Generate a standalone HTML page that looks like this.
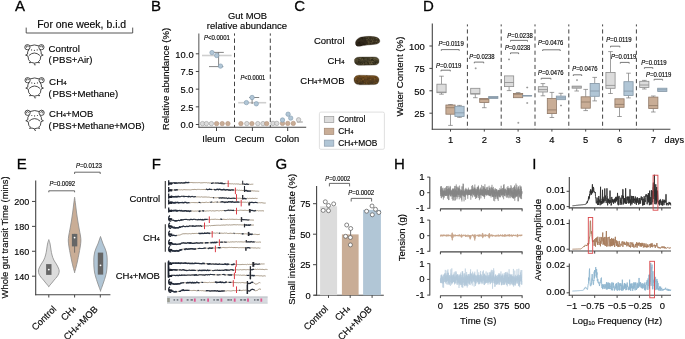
<!DOCTYPE html>
<html><head><meta charset="utf-8"><style>
html,body{margin:0;padding:0;background:#fff;}
svg{display:block;will-change:transform;}
text{font-family:"Liberation Sans", sans-serif;stroke:#111;stroke-width:0.15px;}
.big{stroke-width:0.3px;}
</style></head><body>
<svg width="685" height="339" viewBox="0 0 685 339">
<rect width="685" height="339" fill="#fff"/>
<text x="15.00" y="11.20" font-size="15" class="big">A</text>
<text x="150.90" y="10.80" font-size="15" class="big">B</text>
<text x="294.20" y="11.30" font-size="15" class="big">C</text>
<text x="423.00" y="11.10" font-size="15" class="big">D</text>
<text x="16.80" y="168.60" font-size="15" class="big">E</text>
<text x="151.80" y="168.90" font-size="15" class="big">F</text>
<text x="275.40" y="169.20" font-size="15" class="big">G</text>
<text x="393.90" y="168.90" font-size="15" class="big">H</text>
<text x="532.30" y="168.50" font-size="15" class="big">I</text>
<text x="37.20" y="28.00" font-size="10.3" textLength="89" lengthAdjust="spacingAndGlyphs">For one week, b.i.d</text>
<path d="M26.2,27.6V33H132.7V27.6" stroke="#444" stroke-width="0.9" fill="none"/>
<g transform="translate(24.4,44.3)"><g fill="none" stroke="#2a2a2a" stroke-width="0.85"><circle cx="3.0" cy="2.9" r="2.6"/><path d="M2.2,3.4a1,1 0 1,1 1.6,-0.6"/><circle cx="17.0" cy="2.9" r="2.6"/><path d="M17.8,3.4a1,1 0 1,0 -1.6,-0.6"/><path d="M5.2,1.7Q10,-0.4 14.8,1.7"/><path d="M4.6,5.2Q2.6,7.6 3.2,9.8"/><path d="M15.4,5.2Q17.4,7.6 16.8,9.8"/><path d="M4.5,11.2Q10,6.2 15.5,11.2"/><path d="M3.2,9.8L1.2,10.8L3.6,11.8Q3.6,16.4 6,17.4L4.8,18.4L7.4,18.2Q10,19.6 12.6,18.2L15.2,18.4L14,17.4Q16.4,16.4 16.4,11.8L18.8,10.8L16.8,9.8"/><path d="M10,19.2Q9.6,20.6 10.8,20.4Q11.4,20.2 10.6,21"/></g><g fill="#333"><circle cx="7.2" cy="5.6" r="0.55"/><circle cx="12.8" cy="5.6" r="0.55"/><circle cx="10" cy="6" r="0.6"/></g></g>
<g transform="translate(24.6,77.3)"><g fill="none" stroke="#2a2a2a" stroke-width="0.85"><circle cx="3.0" cy="2.9" r="2.6"/><path d="M2.2,3.4a1,1 0 1,1 1.6,-0.6"/><circle cx="17.0" cy="2.9" r="2.6"/><path d="M17.8,3.4a1,1 0 1,0 -1.6,-0.6"/><path d="M5.2,1.7Q10,-0.4 14.8,1.7"/><path d="M4.6,5.2Q2.6,7.6 3.2,9.8"/><path d="M15.4,5.2Q17.4,7.6 16.8,9.8"/><path d="M4.5,11.2Q10,6.2 15.5,11.2"/><path d="M3.2,9.8L1.2,10.8L3.6,11.8Q3.6,16.4 6,17.4L4.8,18.4L7.4,18.2Q10,19.6 12.6,18.2L15.2,18.4L14,17.4Q16.4,16.4 16.4,11.8L18.8,10.8L16.8,9.8"/><path d="M10,19.2Q9.6,20.6 10.8,20.4Q11.4,20.2 10.6,21"/></g><g fill="#333"><circle cx="7.2" cy="5.6" r="0.55"/><circle cx="12.8" cy="5.6" r="0.55"/><circle cx="10" cy="6" r="0.6"/></g></g>
<g transform="translate(24.6,109.9)"><g fill="none" stroke="#2a2a2a" stroke-width="0.85"><circle cx="3.0" cy="2.9" r="2.6"/><path d="M2.2,3.4a1,1 0 1,1 1.6,-0.6"/><circle cx="17.0" cy="2.9" r="2.6"/><path d="M17.8,3.4a1,1 0 1,0 -1.6,-0.6"/><path d="M5.2,1.7Q10,-0.4 14.8,1.7"/><path d="M4.6,5.2Q2.6,7.6 3.2,9.8"/><path d="M15.4,5.2Q17.4,7.6 16.8,9.8"/><path d="M4.5,11.2Q10,6.2 15.5,11.2"/><path d="M3.2,9.8L1.2,10.8L3.6,11.8Q3.6,16.4 6,17.4L4.8,18.4L7.4,18.2Q10,19.6 12.6,18.2L15.2,18.4L14,17.4Q16.4,16.4 16.4,11.8L18.8,10.8L16.8,9.8"/><path d="M10,19.2Q9.6,20.6 10.8,20.4Q11.4,20.2 10.6,21"/></g><g fill="#333"><circle cx="7.2" cy="5.6" r="0.55"/><circle cx="12.8" cy="5.6" r="0.55"/><circle cx="10" cy="6" r="0.6"/></g></g>
<text x="48.60" y="52.10" font-size="9.8" textLength="31.2" lengthAdjust="spacingAndGlyphs">Control</text>
<text x="49.10" y="85.00" font-size="9.8">CH<tspan font-size="0.62em">4</tspan></text>
<text x="49.10" y="117.30" font-size="9.6" textLength="44.2" lengthAdjust="spacingAndGlyphs">CH<tspan font-size="0.62em">4</tspan>+MOB</text>
<text x="48.50" y="63.30" font-size="9.6">(</text>
<text x="52.50" y="63.30" font-size="9.6" textLength="40.0" lengthAdjust="spacingAndGlyphs">PBS+Air)</text>
<text x="48.50" y="96.50" font-size="9.6">(</text>
<text x="52.50" y="96.50" font-size="9.6" textLength="65.6" lengthAdjust="spacingAndGlyphs">PBS+Methane)</text>
<text x="48.50" y="128.60" font-size="9.6">(</text>
<text x="52.50" y="128.60" font-size="9.6" textLength="92.2" lengthAdjust="spacingAndGlyphs">PBS+Methane+MOB)</text>
<text x="247.60" y="19.30" font-size="9.4" text-anchor="middle">Gut MOB</text>
<text x="247.00" y="28.50" font-size="9.4" text-anchor="middle" textLength="80.3" lengthAdjust="spacingAndGlyphs">relative abundance</text>
<text x="169.00" y="79.00" font-size="9.6" text-anchor="middle" transform="rotate(-90 169.00 79.00)">Relative abundance (%)</text>
<line x1="198.80" y1="33.40" x2="198.80" y2="127.80" stroke="#7a7a7a" stroke-width="1.3"/>
<line x1="198.50" y1="127.30" x2="306.20" y2="127.30" stroke="#444" stroke-width="1.1"/>
<line x1="195.80" y1="124.50" x2="199.00" y2="124.50" stroke="#444" stroke-width="1"/>
<text x="193.60" y="128.20" font-size="9.4" text-anchor="end">0.0</text>
<line x1="195.80" y1="106.83" x2="199.00" y2="106.83" stroke="#444" stroke-width="1"/>
<text x="193.60" y="110.53" font-size="9.4" text-anchor="end">2.5</text>
<line x1="195.80" y1="89.15" x2="199.00" y2="89.15" stroke="#444" stroke-width="1"/>
<text x="193.60" y="92.85" font-size="9.4" text-anchor="end">5.0</text>
<line x1="195.80" y1="71.47" x2="199.00" y2="71.47" stroke="#444" stroke-width="1"/>
<text x="193.60" y="75.17" font-size="9.4" text-anchor="end">7.5</text>
<line x1="195.80" y1="53.80" x2="199.00" y2="53.80" stroke="#444" stroke-width="1"/>
<text x="193.60" y="57.50" font-size="9.4" text-anchor="end">10.0</text>
<line x1="216.50" y1="127.30" x2="216.50" y2="131.00" stroke="#444" stroke-width="1"/>
<text x="213.80" y="142.10" font-size="9.4" text-anchor="middle">Ileum</text>
<line x1="252.40" y1="127.30" x2="252.40" y2="131.00" stroke="#444" stroke-width="1"/>
<text x="249.40" y="142.10" font-size="9.4" text-anchor="middle">Cecum</text>
<line x1="287.70" y1="127.30" x2="287.70" y2="131.00" stroke="#444" stroke-width="1"/>
<text x="287.00" y="142.10" font-size="9.4" text-anchor="middle">Colon</text>
<line x1="234.50" y1="33.40" x2="234.50" y2="127.30" stroke="#444" stroke-width="1" stroke-dasharray="4.4,2.8" stroke-dashoffset="2.1"/>
<line x1="270.30" y1="33.40" x2="270.30" y2="127.30" stroke="#444" stroke-width="1" stroke-dasharray="4.4,2.8" stroke-dashoffset="2.1"/>
<circle cx="202.50" cy="123.60" r="2.2" fill="#dcdcdc" stroke="#9a9a9a" stroke-width="0.6"/>
<circle cx="206.40" cy="123.60" r="2.2" fill="#dcdcdc" stroke="#9a9a9a" stroke-width="0.6"/>
<circle cx="211.40" cy="123.60" r="2.2" fill="#dcdcdc" stroke="#9a9a9a" stroke-width="0.6"/>
<circle cx="216.60" cy="123.60" r="2.2" fill="#c9ad96" stroke="#b08f78" stroke-width="0.6"/>
<circle cx="222.20" cy="123.60" r="2.2" fill="#c9ad96" stroke="#b08f78" stroke-width="0.6"/>
<circle cx="227.90" cy="123.60" r="2.2" fill="#c9ad96" stroke="#b08f78" stroke-width="0.6"/>
<line x1="202.00" y1="55.50" x2="231.60" y2="55.50" stroke="#cfcfcf" stroke-width="1.6"/>
<path d="M212.7,52.4H223.8M218.6,52.4V66.6M209,66.6H223.3" stroke="#666" stroke-width="0.8" fill="none"/>
<circle cx="212.00" cy="52.60" r="2.2" fill="#b1c6d6" stroke="#7f98ac" stroke-width="0.6"/>
<circle cx="216.70" cy="55.50" r="2.2" fill="#b1c6d6" stroke="#7f98ac" stroke-width="0.6"/>
<circle cx="220.50" cy="66.10" r="2.2" fill="#b1c6d6" stroke="#7f98ac" stroke-width="0.6"/>
<circle cx="240.90" cy="123.60" r="2.2" fill="#c9ad96" stroke="#b08f78" stroke-width="0.6"/>
<circle cx="246.80" cy="123.60" r="2.2" fill="#dcdcdc" stroke="#9a9a9a" stroke-width="0.6"/>
<circle cx="251.90" cy="123.60" r="2.2" fill="#c9ad96" stroke="#b08f78" stroke-width="0.6"/>
<circle cx="257.80" cy="123.60" r="2.2" fill="#dcdcdc" stroke="#9a9a9a" stroke-width="0.6"/>
<circle cx="263.00" cy="123.60" r="2.2" fill="#dcdcdc" stroke="#9a9a9a" stroke-width="0.6"/>
<circle cx="266.70" cy="123.60" r="2.2" fill="#c9ad96" stroke="#b08f78" stroke-width="0.6"/>
<line x1="238.20" y1="102.70" x2="266.20" y2="102.70" stroke="#cfcfcf" stroke-width="1.6"/>
<path d="M249.2,97.5H259.2M252.1,97.5V104" stroke="#666" stroke-width="0.8" fill="none"/>
<circle cx="246.40" cy="102.60" r="2.2" fill="#b1c6d6" stroke="#7f98ac" stroke-width="0.6"/>
<circle cx="252.10" cy="97.50" r="2.2" fill="#b1c6d6" stroke="#7f98ac" stroke-width="0.6"/>
<circle cx="256.30" cy="103.80" r="2.2" fill="#b1c6d6" stroke="#7f98ac" stroke-width="0.6"/>
<circle cx="273.00" cy="123.40" r="2.2" fill="#dcdcdc" stroke="#9a9a9a" stroke-width="0.6"/>
<circle cx="276.80" cy="123.40" r="2.2" fill="#dcdcdc" stroke="#9a9a9a" stroke-width="0.6"/>
<circle cx="282.50" cy="123.40" r="2.2" fill="#c9ad96" stroke="#b08f78" stroke-width="0.6"/>
<circle cx="287.80" cy="123.40" r="2.2" fill="#c9ad96" stroke="#b08f78" stroke-width="0.6"/>
<circle cx="293.30" cy="123.40" r="2.2" fill="#c9ad96" stroke="#b08f78" stroke-width="0.6"/>
<path d="M296.9,122H302.8" stroke="#666" stroke-width="0.7" fill="none"/>
<circle cx="298.60" cy="119.80" r="2.2" fill="#dcdcdc" stroke="#9a9a9a" stroke-width="0.6"/>
<circle cx="282.50" cy="120.00" r="2.2" fill="#b1c6d6" stroke="#7f98ac" stroke-width="0.6"/>
<circle cx="288.10" cy="114.20" r="2.2" fill="#b1c6d6" stroke="#7f98ac" stroke-width="0.6"/>
<circle cx="290.70" cy="118.10" r="2.2" fill="#b1c6d6" stroke="#7f98ac" stroke-width="0.6"/>
<text x="204.00" y="40.40" font-size="6.5" textLength="25.9" lengthAdjust="spacingAndGlyphs"><tspan font-style="italic">P</tspan>&lt;0.0001</text>
<text x="240.50" y="80.00" font-size="6.5" textLength="24.8" lengthAdjust="spacingAndGlyphs"><tspan font-style="italic">P</tspan>&lt;0.0001</text>
<text x="344.50" y="43.80" font-size="9.5" text-anchor="end">Control</text>
<text x="344.50" y="63.70" font-size="9.5" text-anchor="end">CH<tspan font-size="0.62em">4</tspan></text>
<text x="344.50" y="83.60" font-size="9.5" text-anchor="end">CH<tspan font-size="0.62em">4</tspan>+MOB</text>
<defs><linearGradient id="pg0" x1="0" y1="0" x2="0" y2="1"><stop offset="0" stop-color="#3a3222"/><stop offset="1" stop-color="#2a2116"/></linearGradient><clipPath id="pc0"><path d="M355.5,43.4C355.3,40 358.3,37.6 362,36.9C366,36.2 372,36.1 376,37.1C378.6,37.8 380,39.5 379.8,41.3C379.6,43.2 377.5,44 375,44.3C370,44.8 364,45.3 360,46.2C357.4,46.8 355.6,45.8 355.5,43.4Z"/></clipPath></defs>
<path d="M355.5,43.4C355.3,40 358.3,37.6 362,36.9C366,36.2 372,36.1 376,37.1C378.6,37.8 380,39.5 379.8,41.3C379.6,43.2 377.5,44 375,44.3C370,44.8 364,45.3 360,46.2C357.4,46.8 355.6,45.8 355.5,43.4Z" fill="url(#pg0)"/>
<g clip-path="url(#pc0)"><ellipse cx="368.31" cy="43.48" rx="0.84" ry="0.49" fill="#6b6444" opacity="0.5"/><ellipse cx="369.02" cy="44.58" rx="0.97" ry="0.50" fill="#6b6444" opacity="0.5"/><ellipse cx="373.07" cy="38.63" rx="0.40" ry="0.45" fill="#6b6444" opacity="0.5"/><ellipse cx="374.20" cy="36.84" rx="0.96" ry="0.39" fill="#6b6444" opacity="0.5"/><ellipse cx="369.26" cy="36.55" rx="1.10" ry="0.60" fill="#6b6444" opacity="0.5"/><ellipse cx="378.25" cy="42.69" rx="0.42" ry="0.43" fill="#6b6444" opacity="0.5"/><ellipse cx="372.97" cy="37.34" rx="1.07" ry="0.45" fill="#6b6444" opacity="0.5"/><ellipse cx="368.17" cy="44.85" rx="0.49" ry="0.67" fill="#6b6444" opacity="0.5"/><ellipse cx="372.34" cy="42.01" rx="0.64" ry="0.49" fill="#6b6444" opacity="0.5"/><ellipse cx="368.62" cy="36.50" rx="1.01" ry="0.39" fill="#6b6444" opacity="0.5"/><ellipse cx="376.92" cy="38.33" rx="1.08" ry="0.66" fill="#6b6444" opacity="0.5"/><ellipse cx="376.57" cy="44.26" rx="0.81" ry="0.59" fill="#6b6444" opacity="0.5"/><ellipse cx="367.71" cy="41.20" rx="0.98" ry="0.38" fill="#6b6444" opacity="0.5"/><ellipse cx="378.92" cy="45.60" rx="0.69" ry="0.45" fill="#6b6444" opacity="0.5"/><ellipse cx="372.32" cy="40.23" rx="1.10" ry="0.45" fill="#6b6444" opacity="0.5"/><ellipse cx="366.38" cy="37.10" rx="0.90" ry="0.70" fill="#6b6444" opacity="0.5"/><ellipse cx="372.94" cy="41.36" rx="0.79" ry="0.60" fill="#6b6444" opacity="0.5"/><ellipse cx="369.11" cy="42.62" rx="0.79" ry="0.55" fill="#6b6444" opacity="0.5"/><ellipse cx="368.53" cy="37.92" rx="0.64" ry="0.67" fill="#6b6444" opacity="0.5"/><ellipse cx="370.85" cy="42.49" rx="0.61" ry="0.34" fill="#6b6444" opacity="0.5"/><ellipse cx="366.92" cy="44.81" rx="0.94" ry="0.45" fill="#6b6444" opacity="0.5"/><ellipse cx="375.57" cy="43.33" rx="1.03" ry="0.68" fill="#6b6444" opacity="0.5"/><ellipse cx="371.70" cy="46.68" rx="1.07" ry="0.54" fill="#6b6444" opacity="0.5"/><ellipse cx="378.36" cy="41.35" rx="0.66" ry="0.40" fill="#6b6444" opacity="0.5"/><ellipse cx="378.27" cy="37.84" rx="0.45" ry="0.62" fill="#6b6444" opacity="0.5"/><ellipse cx="376.83" cy="41.27" rx="0.99" ry="0.32" fill="#6b6444" opacity="0.5"/><ellipse cx="369.61" cy="39.20" rx="0.69" ry="0.37" fill="#6b6444" opacity="0.5"/><ellipse cx="366.97" cy="39.72" rx="1.03" ry="0.69" fill="#6b6444" opacity="0.5"/><ellipse cx="376.44" cy="41.23" rx="0.58" ry="0.68" fill="#6b6444" opacity="0.5"/><ellipse cx="373.36" cy="43.90" rx="0.42" ry="0.38" fill="#6b6444" opacity="0.5"/><ellipse cx="377.74" cy="44.61" rx="1.02" ry="0.54" fill="#6b6444" opacity="0.5"/><ellipse cx="371.97" cy="42.32" rx="0.99" ry="0.42" fill="#6b6444" opacity="0.5"/><ellipse cx="373.48" cy="39.05" rx="0.94" ry="0.30" fill="#6b6444" opacity="0.5"/><ellipse cx="375.59" cy="46.31" rx="0.42" ry="0.54" fill="#6b6444" opacity="0.5"/><ellipse cx="375.01" cy="45.21" rx="0.81" ry="0.40" fill="#6b6444" opacity="0.5"/><ellipse cx="371.68" cy="46.36" rx="1.03" ry="0.35" fill="#6b6444" opacity="0.5"/><ellipse cx="367.33" cy="37.11" rx="0.42" ry="0.48" fill="#6b6444" opacity="0.5"/><ellipse cx="367.97" cy="45.38" rx="0.86" ry="0.35" fill="#6b6444" opacity="0.5"/><ellipse cx="373.54" cy="39.57" rx="0.75" ry="0.39" fill="#6b6444" opacity="0.5"/><ellipse cx="368.33" cy="38.07" rx="0.66" ry="0.58" fill="#6b6444" opacity="0.5"/><ellipse cx="373.70" cy="36.59" rx="0.90" ry="0.65" fill="#6b6444" opacity="0.5"/><ellipse cx="376.84" cy="44.56" rx="0.41" ry="0.49" fill="#6b6444" opacity="0.5"/><ellipse cx="366.89" cy="44.27" rx="0.52" ry="0.58" fill="#6b6444" opacity="0.5"/><ellipse cx="369.54" cy="43.56" rx="0.62" ry="0.32" fill="#6b6444" opacity="0.5"/><ellipse cx="371.44" cy="39.41" rx="1.03" ry="0.42" fill="#6b6444" opacity="0.5"/><ellipse cx="374.04" cy="41.98" rx="1.06" ry="0.34" fill="#85784c" opacity="0.25"/><ellipse cx="375.21" cy="41.54" rx="0.91" ry="0.69" fill="#85784c" opacity="0.25"/><ellipse cx="371.72" cy="43.58" rx="0.77" ry="0.52" fill="#85784c" opacity="0.25"/><ellipse cx="368.76" cy="44.82" rx="1.08" ry="0.44" fill="#85784c" opacity="0.25"/><ellipse cx="371.82" cy="46.73" rx="0.48" ry="0.33" fill="#85784c" opacity="0.25"/><ellipse cx="368.88" cy="44.81" rx="0.93" ry="0.48" fill="#85784c" opacity="0.25"/><ellipse cx="375.46" cy="36.31" rx="0.85" ry="0.48" fill="#85784c" opacity="0.25"/><ellipse cx="374.21" cy="40.27" rx="0.68" ry="0.39" fill="#85784c" opacity="0.25"/><ellipse cx="368.59" cy="40.74" rx="0.57" ry="0.58" fill="#85784c" opacity="0.25"/><ellipse cx="377.81" cy="43.84" rx="0.72" ry="0.39" fill="#85784c" opacity="0.25"/><ellipse cx="372.62" cy="41.31" rx="0.84" ry="0.69" fill="#85784c" opacity="0.25"/><ellipse cx="369.02" cy="41.23" rx="0.74" ry="0.59" fill="#85784c" opacity="0.25"/><ellipse cx="378.69" cy="44.44" rx="0.84" ry="0.60" fill="#85784c" opacity="0.25"/><ellipse cx="376.02" cy="45.29" rx="0.89" ry="0.57" fill="#85784c" opacity="0.25"/><ellipse cx="370.94" cy="45.91" rx="0.67" ry="0.55" fill="#85784c" opacity="0.25"/><ellipse cx="377.90" cy="46.41" rx="1.09" ry="0.30" fill="#85784c" opacity="0.25"/><ellipse cx="371.75" cy="39.44" rx="0.67" ry="0.36" fill="#85784c" opacity="0.25"/><ellipse cx="374.64" cy="36.95" rx="0.61" ry="0.68" fill="#85784c" opacity="0.25"/><ellipse cx="376.91" cy="41.05" rx="0.48" ry="0.68" fill="#85784c" opacity="0.25"/><ellipse cx="376.45" cy="38.30" rx="0.63" ry="0.56" fill="#85784c" opacity="0.25"/><ellipse cx="376.18" cy="38.89" rx="1.07" ry="0.43" fill="#85784c" opacity="0.25"/><ellipse cx="371.05" cy="45.15" rx="0.51" ry="0.57" fill="#85784c" opacity="0.25"/><ellipse cx="370.40" cy="42.50" rx="0.59" ry="0.45" fill="#85784c" opacity="0.25"/><ellipse cx="379.29" cy="41.10" rx="0.71" ry="0.55" fill="#85784c" opacity="0.25"/><ellipse cx="371.37" cy="37.97" rx="0.67" ry="0.41" fill="#85784c" opacity="0.25"/><ellipse cx="370.26" cy="46.38" rx="0.42" ry="0.62" fill="#85784c" opacity="0.25"/><ellipse cx="379.22" cy="43.64" rx="0.41" ry="0.50" fill="#85784c" opacity="0.25"/><ellipse cx="368.47" cy="42.60" rx="0.89" ry="0.40" fill="#85784c" opacity="0.25"/><ellipse cx="368.09" cy="41.93" rx="0.47" ry="0.42" fill="#85784c" opacity="0.25"/><ellipse cx="373.45" cy="45.67" rx="0.66" ry="0.35" fill="#85784c" opacity="0.25"/><ellipse cx="377.50" cy="44.90" rx="0.77" ry="0.32" fill="#85784c" opacity="0.25"/><ellipse cx="370.25" cy="40.41" rx="0.79" ry="0.39" fill="#85784c" opacity="0.25"/><ellipse cx="377.63" cy="45.13" rx="1.05" ry="0.65" fill="#85784c" opacity="0.25"/><ellipse cx="368.21" cy="42.33" rx="0.46" ry="0.66" fill="#85784c" opacity="0.25"/><ellipse cx="376.96" cy="44.22" rx="0.53" ry="0.32" fill="#85784c" opacity="0.25"/><ellipse cx="377.78" cy="42.59" rx="0.83" ry="0.49" fill="#85784c" opacity="0.25"/><ellipse cx="377.60" cy="39.72" rx="0.59" ry="0.44" fill="#85784c" opacity="0.25"/><ellipse cx="371.58" cy="42.81" rx="1.02" ry="0.33" fill="#85784c" opacity="0.25"/><ellipse cx="368.81" cy="41.58" rx="0.87" ry="0.38" fill="#85784c" opacity="0.25"/><ellipse cx="371.24" cy="36.73" rx="0.43" ry="0.50" fill="#85784c" opacity="0.25"/><ellipse cx="376.17" cy="43.09" rx="0.51" ry="0.34" fill="#85784c" opacity="0.25"/><ellipse cx="379.17" cy="41.86" rx="0.69" ry="0.58" fill="#85784c" opacity="0.25"/><ellipse cx="376.73" cy="41.71" rx="0.45" ry="0.63" fill="#85784c" opacity="0.25"/><ellipse cx="370.56" cy="36.53" rx="0.65" ry="0.51" fill="#85784c" opacity="0.25"/><ellipse cx="375.54" cy="37.96" rx="0.90" ry="0.50" fill="#85784c" opacity="0.25"/><ellipse cx="356.78" cy="45.21" rx="0.96" ry="0.66" fill="#1a140c" opacity="0.4"/><ellipse cx="362.47" cy="38.43" rx="0.94" ry="0.66" fill="#1a140c" opacity="0.4"/><ellipse cx="360.87" cy="45.82" rx="1.08" ry="0.46" fill="#1a140c" opacity="0.4"/><ellipse cx="365.36" cy="46.12" rx="0.96" ry="0.30" fill="#1a140c" opacity="0.4"/><ellipse cx="358.87" cy="42.67" rx="0.83" ry="0.60" fill="#1a140c" opacity="0.4"/><ellipse cx="362.12" cy="37.83" rx="1.05" ry="0.51" fill="#1a140c" opacity="0.4"/><ellipse cx="364.70" cy="38.31" rx="1.10" ry="0.52" fill="#1a140c" opacity="0.4"/><ellipse cx="363.53" cy="44.02" rx="1.02" ry="0.44" fill="#1a140c" opacity="0.4"/><ellipse cx="355.91" cy="40.44" rx="0.52" ry="0.52" fill="#1a140c" opacity="0.4"/><ellipse cx="363.96" cy="39.98" rx="0.49" ry="0.31" fill="#1a140c" opacity="0.4"/><ellipse cx="359.65" cy="42.31" rx="0.42" ry="0.57" fill="#1a140c" opacity="0.4"/><ellipse cx="357.32" cy="37.25" rx="1.05" ry="0.51" fill="#1a140c" opacity="0.4"/><ellipse cx="364.85" cy="41.60" rx="0.49" ry="0.40" fill="#1a140c" opacity="0.4"/><ellipse cx="359.67" cy="42.96" rx="0.94" ry="0.60" fill="#1a140c" opacity="0.4"/><ellipse cx="362.16" cy="38.81" rx="0.70" ry="0.45" fill="#1a140c" opacity="0.4"/><ellipse cx="360.39" cy="38.94" rx="0.78" ry="0.48" fill="#1a140c" opacity="0.4"/><ellipse cx="355.39" cy="44.90" rx="0.81" ry="0.62" fill="#1a140c" opacity="0.4"/><ellipse cx="363.10" cy="43.92" rx="1.10" ry="0.45" fill="#1a140c" opacity="0.4"/><ellipse cx="359.33" cy="36.14" rx="0.87" ry="0.53" fill="#1a140c" opacity="0.4"/><ellipse cx="361.34" cy="46.77" rx="0.54" ry="0.39" fill="#1a140c" opacity="0.4"/><ellipse cx="363.08" cy="44.79" rx="0.74" ry="0.32" fill="#1a140c" opacity="0.4"/><ellipse cx="359.07" cy="44.94" rx="0.75" ry="0.48" fill="#1a140c" opacity="0.4"/><ellipse cx="359.28" cy="42.82" rx="0.82" ry="0.58" fill="#1a140c" opacity="0.4"/><ellipse cx="364.52" cy="44.14" rx="0.66" ry="0.40" fill="#1a140c" opacity="0.4"/><ellipse cx="363.60" cy="44.58" rx="1.05" ry="0.38" fill="#1a140c" opacity="0.4"/><ellipse cx="364.32" cy="45.63" rx="0.45" ry="0.42" fill="#1a140c" opacity="0.4"/><ellipse cx="361.97" cy="37.66" rx="0.98" ry="0.41" fill="#1a140c" opacity="0.4"/><ellipse cx="362.51" cy="39.27" rx="0.55" ry="0.38" fill="#1a140c" opacity="0.4"/><ellipse cx="360.47" cy="43.73" rx="0.55" ry="0.57" fill="#1a140c" opacity="0.4"/><ellipse cx="358.69" cy="43.05" rx="0.66" ry="0.38" fill="#1a140c" opacity="0.4"/><ellipse cx="356.55" cy="36.72" rx="0.89" ry="0.47" fill="#1a140c" opacity="0.4"/><ellipse cx="356.36" cy="45.52" rx="0.86" ry="0.31" fill="#1a140c" opacity="0.4"/><ellipse cx="362.97" cy="42.46" rx="0.71" ry="0.50" fill="#1a140c" opacity="0.4"/><ellipse cx="365.58" cy="40.10" rx="0.85" ry="0.55" fill="#1a140c" opacity="0.4"/><ellipse cx="359.02" cy="39.81" rx="0.93" ry="0.55" fill="#1a140c" opacity="0.4"/><ellipse cx="360.03" cy="41.60" rx="0.56" ry="0.62" fill="#1a140c" opacity="0.4"/><ellipse cx="355.22" cy="42.98" rx="0.72" ry="0.39" fill="#1a140c" opacity="0.4"/><ellipse cx="361.45" cy="42.34" rx="0.46" ry="0.50" fill="#1a140c" opacity="0.4"/><ellipse cx="356.82" cy="44.65" rx="0.63" ry="0.43" fill="#1a140c" opacity="0.4"/><ellipse cx="357.37" cy="36.61" rx="0.53" ry="0.36" fill="#1a140c" opacity="0.4"/><ellipse cx="361.87" cy="45.17" rx="0.55" ry="0.34" fill="#1a140c" opacity="0.4"/><ellipse cx="360.88" cy="37.34" rx="0.68" ry="0.60" fill="#1a140c" opacity="0.4"/><ellipse cx="357.23" cy="43.59" rx="0.78" ry="0.33" fill="#1a140c" opacity="0.4"/><ellipse cx="357.67" cy="42.51" rx="0.47" ry="0.38" fill="#1a140c" opacity="0.4"/><ellipse cx="361.34" cy="44.85" rx="0.76" ry="0.57" fill="#1a140c" opacity="0.4"/></g>
<path d="M355.5,43.4C355.3,40 358.3,37.6 362,36.9C366,36.2 372,36.1 376,37.1C378.6,37.8 380,39.5 379.8,41.3C379.6,43.2 377.5,44 375,44.3C370,44.8 364,45.3 360,46.2C357.4,46.8 355.6,45.8 355.5,43.4Z" fill="none" stroke="#2a2116" stroke-width="0.5" opacity="0.6"/>
<defs><linearGradient id="pg1" x1="0" y1="0" x2="0" y2="1"><stop offset="0" stop-color="#45402c"/><stop offset="1" stop-color="#353020"/></linearGradient><clipPath id="pc1"><path d="M354.4,60.8C354.3,58.2 356.2,57.2 360,57L374,56.9C377.5,56.9 379.2,58.6 379.1,61.1C379,63.6 377.4,65 374,65.1L360,65.3C356.2,65.3 354.5,63.6 354.4,60.8Z"/></clipPath></defs>
<path d="M354.4,60.8C354.3,58.2 356.2,57.2 360,57L374,56.9C377.5,56.9 379.2,58.6 379.1,61.1C379,63.6 377.4,65 374,65.1L360,65.3C356.2,65.3 354.5,63.6 354.4,60.8Z" fill="url(#pg1)"/>
<g clip-path="url(#pc1)"><ellipse cx="354.24" cy="59.44" rx="0.62" ry="0.67" fill="#7a6c4a" opacity="0.55"/><ellipse cx="363.30" cy="63.49" rx="0.42" ry="0.50" fill="#7a6c4a" opacity="0.55"/><ellipse cx="377.18" cy="63.38" rx="0.81" ry="0.37" fill="#7a6c4a" opacity="0.55"/><ellipse cx="378.08" cy="57.57" rx="1.08" ry="0.61" fill="#7a6c4a" opacity="0.55"/><ellipse cx="372.71" cy="61.36" rx="0.51" ry="0.44" fill="#7a6c4a" opacity="0.55"/><ellipse cx="371.26" cy="62.41" rx="0.67" ry="0.62" fill="#7a6c4a" opacity="0.55"/><ellipse cx="355.39" cy="59.31" rx="0.46" ry="0.43" fill="#7a6c4a" opacity="0.55"/><ellipse cx="374.62" cy="63.23" rx="0.50" ry="0.42" fill="#7a6c4a" opacity="0.55"/><ellipse cx="356.92" cy="62.46" rx="0.71" ry="0.39" fill="#7a6c4a" opacity="0.55"/><ellipse cx="363.73" cy="64.17" rx="0.70" ry="0.58" fill="#7a6c4a" opacity="0.55"/><ellipse cx="370.32" cy="60.88" rx="0.79" ry="0.45" fill="#7a6c4a" opacity="0.55"/><ellipse cx="359.16" cy="61.05" rx="0.61" ry="0.43" fill="#7a6c4a" opacity="0.55"/><ellipse cx="358.85" cy="64.57" rx="0.70" ry="0.38" fill="#7a6c4a" opacity="0.55"/><ellipse cx="354.82" cy="58.70" rx="1.01" ry="0.43" fill="#7a6c4a" opacity="0.55"/><ellipse cx="371.34" cy="58.84" rx="0.86" ry="0.48" fill="#7a6c4a" opacity="0.55"/><ellipse cx="373.15" cy="61.34" rx="0.66" ry="0.41" fill="#7a6c4a" opacity="0.55"/><ellipse cx="369.45" cy="63.89" rx="0.88" ry="0.49" fill="#7a6c4a" opacity="0.55"/><ellipse cx="362.54" cy="64.39" rx="0.99" ry="0.36" fill="#7a6c4a" opacity="0.55"/><ellipse cx="371.66" cy="63.39" rx="0.87" ry="0.69" fill="#7a6c4a" opacity="0.55"/><ellipse cx="376.85" cy="58.97" rx="1.10" ry="0.43" fill="#7a6c4a" opacity="0.55"/><ellipse cx="363.88" cy="65.10" rx="0.52" ry="0.46" fill="#7a6c4a" opacity="0.55"/><ellipse cx="370.27" cy="59.19" rx="0.59" ry="0.62" fill="#7a6c4a" opacity="0.55"/><ellipse cx="369.93" cy="63.15" rx="0.95" ry="0.65" fill="#7a6c4a" opacity="0.55"/><ellipse cx="377.23" cy="63.82" rx="1.08" ry="0.50" fill="#7a6c4a" opacity="0.55"/><ellipse cx="372.24" cy="61.22" rx="1.08" ry="0.56" fill="#7a6c4a" opacity="0.55"/><ellipse cx="365.20" cy="62.48" rx="0.61" ry="0.35" fill="#7a6c4a" opacity="0.55"/><ellipse cx="364.04" cy="58.05" rx="0.40" ry="0.34" fill="#7a6c4a" opacity="0.55"/><ellipse cx="365.81" cy="63.31" rx="0.43" ry="0.55" fill="#7a6c4a" opacity="0.55"/><ellipse cx="356.89" cy="61.19" rx="0.61" ry="0.48" fill="#7a6c4a" opacity="0.55"/><ellipse cx="372.51" cy="60.37" rx="0.67" ry="0.59" fill="#7a6c4a" opacity="0.55"/><ellipse cx="357.01" cy="59.83" rx="0.89" ry="0.63" fill="#7a6c4a" opacity="0.55"/><ellipse cx="379.46" cy="59.06" rx="0.84" ry="0.43" fill="#7a6c4a" opacity="0.55"/><ellipse cx="372.25" cy="64.01" rx="0.49" ry="0.44" fill="#7a6c4a" opacity="0.55"/><ellipse cx="378.34" cy="59.86" rx="0.84" ry="0.63" fill="#7a6c4a" opacity="0.55"/><ellipse cx="361.25" cy="63.48" rx="0.40" ry="0.44" fill="#7a6c4a" opacity="0.55"/><ellipse cx="358.34" cy="59.81" rx="0.55" ry="0.31" fill="#7a6c4a" opacity="0.55"/><ellipse cx="374.88" cy="58.36" rx="0.80" ry="0.52" fill="#7a6c4a" opacity="0.55"/><ellipse cx="376.09" cy="64.01" rx="0.84" ry="0.37" fill="#7a6c4a" opacity="0.55"/><ellipse cx="373.78" cy="57.72" rx="1.05" ry="0.42" fill="#7a6c4a" opacity="0.55"/><ellipse cx="360.57" cy="58.72" rx="0.68" ry="0.62" fill="#7a6c4a" opacity="0.55"/><ellipse cx="376.23" cy="63.17" rx="0.91" ry="0.40" fill="#7a6c4a" opacity="0.55"/><ellipse cx="362.35" cy="59.46" rx="0.70" ry="0.65" fill="#7a6c4a" opacity="0.55"/><ellipse cx="379.89" cy="57.60" rx="1.08" ry="0.67" fill="#7a6c4a" opacity="0.55"/><ellipse cx="365.98" cy="62.72" rx="0.95" ry="0.37" fill="#7a6c4a" opacity="0.55"/><ellipse cx="370.01" cy="65.15" rx="1.02" ry="0.66" fill="#7a6c4a" opacity="0.55"/><ellipse cx="356.20" cy="62.90" rx="0.74" ry="0.66" fill="#25200f" opacity="0.55"/><ellipse cx="358.34" cy="61.51" rx="0.48" ry="0.62" fill="#25200f" opacity="0.55"/><ellipse cx="372.79" cy="57.16" rx="0.62" ry="0.36" fill="#25200f" opacity="0.55"/><ellipse cx="370.52" cy="62.19" rx="0.44" ry="0.68" fill="#25200f" opacity="0.55"/><ellipse cx="379.10" cy="60.60" rx="0.80" ry="0.45" fill="#25200f" opacity="0.55"/><ellipse cx="369.76" cy="60.25" rx="0.71" ry="0.60" fill="#25200f" opacity="0.55"/><ellipse cx="358.85" cy="59.41" rx="0.93" ry="0.39" fill="#25200f" opacity="0.55"/><ellipse cx="355.79" cy="64.56" rx="0.51" ry="0.46" fill="#25200f" opacity="0.55"/><ellipse cx="362.15" cy="59.10" rx="0.65" ry="0.51" fill="#25200f" opacity="0.55"/><ellipse cx="357.02" cy="61.38" rx="0.44" ry="0.33" fill="#25200f" opacity="0.55"/><ellipse cx="359.26" cy="58.92" rx="0.64" ry="0.42" fill="#25200f" opacity="0.55"/><ellipse cx="375.76" cy="62.43" rx="0.73" ry="0.61" fill="#25200f" opacity="0.55"/><ellipse cx="371.83" cy="59.55" rx="0.83" ry="0.60" fill="#25200f" opacity="0.55"/><ellipse cx="367.89" cy="63.22" rx="0.84" ry="0.67" fill="#25200f" opacity="0.55"/><ellipse cx="360.87" cy="62.54" rx="1.08" ry="0.51" fill="#25200f" opacity="0.55"/><ellipse cx="377.54" cy="57.70" rx="0.91" ry="0.41" fill="#25200f" opacity="0.55"/><ellipse cx="373.51" cy="60.46" rx="0.77" ry="0.40" fill="#25200f" opacity="0.55"/><ellipse cx="360.68" cy="64.17" rx="0.85" ry="0.55" fill="#25200f" opacity="0.55"/><ellipse cx="357.01" cy="59.36" rx="1.08" ry="0.38" fill="#25200f" opacity="0.55"/><ellipse cx="367.98" cy="62.75" rx="0.76" ry="0.52" fill="#25200f" opacity="0.55"/><ellipse cx="379.22" cy="63.46" rx="0.57" ry="0.47" fill="#25200f" opacity="0.55"/><ellipse cx="364.91" cy="62.64" rx="0.87" ry="0.40" fill="#25200f" opacity="0.55"/><ellipse cx="372.00" cy="60.52" rx="0.41" ry="0.42" fill="#25200f" opacity="0.55"/><ellipse cx="363.80" cy="58.55" rx="0.87" ry="0.70" fill="#25200f" opacity="0.55"/><ellipse cx="378.22" cy="62.19" rx="1.00" ry="0.50" fill="#25200f" opacity="0.55"/><ellipse cx="369.25" cy="64.41" rx="0.44" ry="0.44" fill="#25200f" opacity="0.55"/><ellipse cx="363.73" cy="59.76" rx="0.70" ry="0.32" fill="#25200f" opacity="0.55"/><ellipse cx="371.66" cy="64.94" rx="0.56" ry="0.37" fill="#25200f" opacity="0.55"/><ellipse cx="362.70" cy="63.59" rx="0.56" ry="0.61" fill="#25200f" opacity="0.55"/><ellipse cx="358.49" cy="61.90" rx="0.90" ry="0.57" fill="#25200f" opacity="0.55"/><ellipse cx="356.20" cy="64.94" rx="0.99" ry="0.49" fill="#25200f" opacity="0.55"/><ellipse cx="376.34" cy="61.95" rx="0.52" ry="0.46" fill="#25200f" opacity="0.55"/><ellipse cx="375.34" cy="60.80" rx="0.43" ry="0.37" fill="#25200f" opacity="0.55"/><ellipse cx="358.84" cy="61.82" rx="0.85" ry="0.48" fill="#25200f" opacity="0.55"/><ellipse cx="364.50" cy="64.99" rx="0.64" ry="0.57" fill="#25200f" opacity="0.55"/><ellipse cx="359.32" cy="61.22" rx="0.53" ry="0.35" fill="#25200f" opacity="0.55"/><ellipse cx="362.76" cy="57.87" rx="0.67" ry="0.56" fill="#25200f" opacity="0.55"/><ellipse cx="368.28" cy="63.58" rx="0.73" ry="0.33" fill="#25200f" opacity="0.55"/><ellipse cx="372.91" cy="60.28" rx="0.93" ry="0.69" fill="#25200f" opacity="0.55"/><ellipse cx="367.63" cy="59.00" rx="0.65" ry="0.50" fill="#25200f" opacity="0.55"/><ellipse cx="362.30" cy="57.75" rx="0.68" ry="0.56" fill="#25200f" opacity="0.55"/><ellipse cx="375.22" cy="63.30" rx="1.02" ry="0.62" fill="#25200f" opacity="0.55"/><ellipse cx="364.70" cy="62.31" rx="0.44" ry="0.62" fill="#25200f" opacity="0.55"/><ellipse cx="372.41" cy="59.13" rx="0.73" ry="0.41" fill="#25200f" opacity="0.55"/><ellipse cx="374.67" cy="60.48" rx="0.95" ry="0.67" fill="#25200f" opacity="0.55"/><ellipse cx="374.22" cy="60.09" rx="0.64" ry="0.68" fill="#948454" opacity="0.25"/><ellipse cx="377.52" cy="58.49" rx="0.65" ry="0.62" fill="#948454" opacity="0.25"/><ellipse cx="373.67" cy="59.28" rx="0.71" ry="0.68" fill="#948454" opacity="0.25"/><ellipse cx="356.35" cy="59.20" rx="0.86" ry="0.66" fill="#948454" opacity="0.25"/><ellipse cx="378.62" cy="60.84" rx="0.95" ry="0.69" fill="#948454" opacity="0.25"/><ellipse cx="362.57" cy="58.81" rx="0.58" ry="0.61" fill="#948454" opacity="0.25"/><ellipse cx="357.63" cy="61.49" rx="1.05" ry="0.38" fill="#948454" opacity="0.25"/><ellipse cx="370.35" cy="61.35" rx="1.08" ry="0.51" fill="#948454" opacity="0.25"/><ellipse cx="366.76" cy="64.49" rx="0.93" ry="0.36" fill="#948454" opacity="0.25"/><ellipse cx="374.90" cy="60.25" rx="1.08" ry="0.69" fill="#948454" opacity="0.25"/><ellipse cx="366.82" cy="60.40" rx="0.56" ry="0.41" fill="#948454" opacity="0.25"/><ellipse cx="359.36" cy="58.31" rx="0.91" ry="0.32" fill="#948454" opacity="0.25"/><ellipse cx="369.57" cy="61.92" rx="0.91" ry="0.53" fill="#948454" opacity="0.25"/><ellipse cx="378.11" cy="59.26" rx="0.47" ry="0.53" fill="#948454" opacity="0.25"/><ellipse cx="361.00" cy="65.20" rx="1.05" ry="0.58" fill="#948454" opacity="0.25"/><ellipse cx="375.67" cy="58.95" rx="0.74" ry="0.45" fill="#948454" opacity="0.25"/><ellipse cx="362.97" cy="60.04" rx="0.73" ry="0.56" fill="#948454" opacity="0.25"/><ellipse cx="354.65" cy="61.43" rx="0.49" ry="0.69" fill="#948454" opacity="0.25"/><ellipse cx="368.35" cy="61.85" rx="0.62" ry="0.58" fill="#948454" opacity="0.25"/><ellipse cx="372.46" cy="64.54" rx="0.81" ry="0.41" fill="#948454" opacity="0.25"/><ellipse cx="370.34" cy="57.32" rx="0.92" ry="0.42" fill="#948454" opacity="0.25"/><ellipse cx="372.70" cy="58.01" rx="0.82" ry="0.37" fill="#948454" opacity="0.25"/><ellipse cx="354.95" cy="59.12" rx="0.99" ry="0.46" fill="#948454" opacity="0.25"/><ellipse cx="367.59" cy="63.54" rx="1.08" ry="0.40" fill="#948454" opacity="0.25"/><ellipse cx="372.05" cy="63.47" rx="0.96" ry="0.44" fill="#948454" opacity="0.25"/><ellipse cx="366.33" cy="63.49" rx="0.58" ry="0.49" fill="#948454" opacity="0.25"/><ellipse cx="370.47" cy="64.05" rx="0.57" ry="0.57" fill="#948454" opacity="0.25"/><ellipse cx="359.65" cy="58.22" rx="0.73" ry="0.56" fill="#948454" opacity="0.25"/><ellipse cx="370.64" cy="64.86" rx="0.52" ry="0.51" fill="#948454" opacity="0.25"/><ellipse cx="366.48" cy="59.07" rx="1.04" ry="0.36" fill="#948454" opacity="0.25"/><ellipse cx="360.77" cy="57.24" rx="0.85" ry="0.56" fill="#948454" opacity="0.25"/><ellipse cx="359.81" cy="64.64" rx="0.84" ry="0.38" fill="#948454" opacity="0.25"/><ellipse cx="378.48" cy="64.07" rx="0.62" ry="0.65" fill="#948454" opacity="0.25"/><ellipse cx="357.39" cy="59.82" rx="0.69" ry="0.68" fill="#948454" opacity="0.25"/><ellipse cx="361.77" cy="60.14" rx="0.55" ry="0.63" fill="#948454" opacity="0.25"/><ellipse cx="358.77" cy="64.02" rx="0.64" ry="0.52" fill="#948454" opacity="0.25"/><ellipse cx="376.79" cy="59.14" rx="0.77" ry="0.55" fill="#948454" opacity="0.25"/><ellipse cx="369.02" cy="60.32" rx="0.85" ry="0.43" fill="#948454" opacity="0.25"/><ellipse cx="358.03" cy="56.98" rx="0.82" ry="0.53" fill="#948454" opacity="0.25"/><ellipse cx="374.79" cy="58.22" rx="0.87" ry="0.48" fill="#948454" opacity="0.25"/><ellipse cx="367.65" cy="63.88" rx="0.76" ry="0.47" fill="#948454" opacity="0.25"/><ellipse cx="370.79" cy="58.14" rx="1.01" ry="0.51" fill="#948454" opacity="0.25"/><ellipse cx="355.10" cy="60.94" rx="1.06" ry="0.69" fill="#948454" opacity="0.25"/><ellipse cx="365.08" cy="59.13" rx="1.06" ry="0.41" fill="#948454" opacity="0.25"/><ellipse cx="354.47" cy="58.98" rx="0.73" ry="0.57" fill="#948454" opacity="0.25"/></g>
<path d="M354.4,60.8C354.3,58.2 356.2,57.2 360,57L374,56.9C377.5,56.9 379.2,58.6 379.1,61.1C379,63.6 377.4,65 374,65.1L360,65.3C356.2,65.3 354.5,63.6 354.4,60.8Z" fill="none" stroke="#353020" stroke-width="0.5" opacity="0.6"/>
<defs><linearGradient id="pg2" x1="0" y1="0" x2="0" y2="1"><stop offset="0" stop-color="#724c1e"/><stop offset="1" stop-color="#3e3222"/></linearGradient><clipPath id="pc2"><path d="M354,79.6C354,76.6 356.4,75.2 360,75.2L374,75.6C377.5,75.8 379.1,77.6 379,80.1C378.9,82.8 377.4,84.5 374,84.6L360,84.8C356.4,84.8 354,83.1 354,79.6Z"/></clipPath></defs>
<path d="M354,79.6C354,76.6 356.4,75.2 360,75.2L374,75.6C377.5,75.8 379.1,77.6 379,80.1C378.9,82.8 377.4,84.5 374,84.6L360,84.8C356.4,84.8 354,83.1 354,79.6Z" fill="url(#pg2)"/>
<g clip-path="url(#pc2)"><ellipse cx="355.74" cy="78.41" rx="0.91" ry="0.44" fill="#8c5e24" opacity="0.5"/><ellipse cx="358.57" cy="82.03" rx="0.71" ry="0.58" fill="#8c5e24" opacity="0.5"/><ellipse cx="366.59" cy="83.00" rx="0.76" ry="0.69" fill="#8c5e24" opacity="0.5"/><ellipse cx="375.14" cy="82.13" rx="0.74" ry="0.54" fill="#8c5e24" opacity="0.5"/><ellipse cx="363.79" cy="75.93" rx="1.02" ry="0.62" fill="#8c5e24" opacity="0.5"/><ellipse cx="373.94" cy="83.45" rx="0.79" ry="0.70" fill="#8c5e24" opacity="0.5"/><ellipse cx="366.30" cy="84.61" rx="0.46" ry="0.45" fill="#8c5e24" opacity="0.5"/><ellipse cx="368.85" cy="83.06" rx="0.76" ry="0.62" fill="#8c5e24" opacity="0.5"/><ellipse cx="363.72" cy="81.70" rx="0.96" ry="0.54" fill="#8c5e24" opacity="0.5"/><ellipse cx="354.54" cy="81.51" rx="0.40" ry="0.42" fill="#8c5e24" opacity="0.5"/><ellipse cx="356.98" cy="82.53" rx="0.52" ry="0.59" fill="#8c5e24" opacity="0.5"/><ellipse cx="355.88" cy="77.19" rx="0.89" ry="0.67" fill="#8c5e24" opacity="0.5"/><ellipse cx="355.86" cy="81.10" rx="0.68" ry="0.55" fill="#8c5e24" opacity="0.5"/><ellipse cx="356.01" cy="75.36" rx="0.46" ry="0.66" fill="#8c5e24" opacity="0.5"/><ellipse cx="366.75" cy="81.08" rx="0.49" ry="0.57" fill="#8c5e24" opacity="0.5"/><ellipse cx="377.43" cy="77.10" rx="0.95" ry="0.64" fill="#8c5e24" opacity="0.5"/><ellipse cx="379.80" cy="80.63" rx="0.85" ry="0.44" fill="#8c5e24" opacity="0.5"/><ellipse cx="374.30" cy="78.18" rx="0.84" ry="0.55" fill="#8c5e24" opacity="0.5"/><ellipse cx="379.72" cy="82.76" rx="0.47" ry="0.37" fill="#8c5e24" opacity="0.5"/><ellipse cx="363.29" cy="79.00" rx="0.90" ry="0.40" fill="#8c5e24" opacity="0.5"/><ellipse cx="368.53" cy="79.54" rx="0.61" ry="0.56" fill="#8c5e24" opacity="0.5"/><ellipse cx="365.29" cy="84.60" rx="0.49" ry="0.66" fill="#8c5e24" opacity="0.5"/><ellipse cx="370.57" cy="79.61" rx="0.45" ry="0.56" fill="#8c5e24" opacity="0.5"/><ellipse cx="374.89" cy="78.56" rx="0.90" ry="0.51" fill="#8c5e24" opacity="0.5"/><ellipse cx="356.35" cy="83.45" rx="0.62" ry="0.49" fill="#8c5e24" opacity="0.5"/><ellipse cx="373.80" cy="83.61" rx="1.00" ry="0.45" fill="#8c5e24" opacity="0.5"/><ellipse cx="376.03" cy="76.67" rx="0.79" ry="0.47" fill="#8c5e24" opacity="0.5"/><ellipse cx="376.52" cy="82.13" rx="0.86" ry="0.62" fill="#8c5e24" opacity="0.5"/><ellipse cx="363.04" cy="79.46" rx="0.47" ry="0.44" fill="#8c5e24" opacity="0.5"/><ellipse cx="359.19" cy="82.22" rx="0.49" ry="0.67" fill="#8c5e24" opacity="0.5"/><ellipse cx="369.61" cy="79.48" rx="0.48" ry="0.48" fill="#8c5e24" opacity="0.5"/><ellipse cx="368.66" cy="76.58" rx="1.08" ry="0.44" fill="#8c5e24" opacity="0.5"/><ellipse cx="365.30" cy="77.94" rx="0.66" ry="0.41" fill="#8c5e24" opacity="0.5"/><ellipse cx="376.21" cy="75.89" rx="0.66" ry="0.54" fill="#8c5e24" opacity="0.5"/><ellipse cx="366.47" cy="78.31" rx="0.74" ry="0.33" fill="#8c5e24" opacity="0.5"/><ellipse cx="361.99" cy="79.38" rx="0.94" ry="0.47" fill="#8c5e24" opacity="0.5"/><ellipse cx="364.80" cy="81.48" rx="0.59" ry="0.52" fill="#8c5e24" opacity="0.5"/><ellipse cx="359.06" cy="81.12" rx="0.78" ry="0.56" fill="#8c5e24" opacity="0.5"/><ellipse cx="376.74" cy="82.83" rx="1.09" ry="0.39" fill="#8c5e24" opacity="0.5"/><ellipse cx="378.80" cy="79.47" rx="0.66" ry="0.48" fill="#8c5e24" opacity="0.5"/><ellipse cx="377.95" cy="84.36" rx="0.96" ry="0.42" fill="#8c5e24" opacity="0.5"/><ellipse cx="357.09" cy="77.16" rx="0.87" ry="0.58" fill="#8c5e24" opacity="0.5"/><ellipse cx="355.71" cy="75.23" rx="1.10" ry="0.44" fill="#8c5e24" opacity="0.5"/><ellipse cx="355.08" cy="79.67" rx="0.47" ry="0.63" fill="#8c5e24" opacity="0.5"/><ellipse cx="367.76" cy="81.08" rx="1.05" ry="0.35" fill="#8c5e24" opacity="0.5"/><ellipse cx="359.59" cy="82.75" rx="0.83" ry="0.48" fill="#3a2810" opacity="0.5"/><ellipse cx="363.26" cy="81.15" rx="1.06" ry="0.68" fill="#3a2810" opacity="0.5"/><ellipse cx="377.85" cy="84.59" rx="0.49" ry="0.31" fill="#3a2810" opacity="0.5"/><ellipse cx="375.56" cy="77.57" rx="0.77" ry="0.49" fill="#3a2810" opacity="0.5"/><ellipse cx="379.32" cy="79.45" rx="0.49" ry="0.38" fill="#3a2810" opacity="0.5"/><ellipse cx="377.50" cy="83.03" rx="0.50" ry="0.69" fill="#3a2810" opacity="0.5"/><ellipse cx="363.67" cy="82.18" rx="0.80" ry="0.64" fill="#3a2810" opacity="0.5"/><ellipse cx="366.73" cy="75.48" rx="0.79" ry="0.64" fill="#3a2810" opacity="0.5"/><ellipse cx="364.68" cy="83.13" rx="0.71" ry="0.44" fill="#3a2810" opacity="0.5"/><ellipse cx="363.34" cy="77.39" rx="0.75" ry="0.68" fill="#3a2810" opacity="0.5"/><ellipse cx="369.36" cy="82.57" rx="0.53" ry="0.45" fill="#3a2810" opacity="0.5"/><ellipse cx="369.09" cy="78.88" rx="0.41" ry="0.65" fill="#3a2810" opacity="0.5"/><ellipse cx="357.36" cy="81.53" rx="1.09" ry="0.42" fill="#3a2810" opacity="0.5"/><ellipse cx="361.01" cy="78.38" rx="0.78" ry="0.69" fill="#3a2810" opacity="0.5"/><ellipse cx="357.76" cy="77.55" rx="1.03" ry="0.41" fill="#3a2810" opacity="0.5"/><ellipse cx="371.34" cy="82.13" rx="0.40" ry="0.31" fill="#3a2810" opacity="0.5"/><ellipse cx="373.74" cy="84.02" rx="0.89" ry="0.49" fill="#3a2810" opacity="0.5"/><ellipse cx="356.63" cy="80.26" rx="0.48" ry="0.43" fill="#3a2810" opacity="0.5"/><ellipse cx="354.92" cy="80.14" rx="0.73" ry="0.41" fill="#3a2810" opacity="0.5"/><ellipse cx="359.75" cy="75.84" rx="0.42" ry="0.35" fill="#3a2810" opacity="0.5"/><ellipse cx="379.55" cy="75.52" rx="0.90" ry="0.48" fill="#3a2810" opacity="0.5"/><ellipse cx="369.28" cy="78.13" rx="1.09" ry="0.62" fill="#3a2810" opacity="0.5"/><ellipse cx="364.52" cy="79.34" rx="1.04" ry="0.36" fill="#3a2810" opacity="0.5"/><ellipse cx="376.72" cy="81.14" rx="0.80" ry="0.51" fill="#3a2810" opacity="0.5"/><ellipse cx="369.36" cy="76.07" rx="0.57" ry="0.44" fill="#3a2810" opacity="0.5"/><ellipse cx="359.76" cy="76.02" rx="0.90" ry="0.47" fill="#3a2810" opacity="0.5"/><ellipse cx="373.27" cy="78.96" rx="1.06" ry="0.40" fill="#3a2810" opacity="0.5"/><ellipse cx="367.32" cy="79.26" rx="0.95" ry="0.35" fill="#3a2810" opacity="0.5"/><ellipse cx="368.19" cy="79.56" rx="0.84" ry="0.39" fill="#3a2810" opacity="0.5"/><ellipse cx="368.11" cy="84.66" rx="0.47" ry="0.69" fill="#3a2810" opacity="0.5"/><ellipse cx="379.14" cy="79.50" rx="0.46" ry="0.50" fill="#3a2810" opacity="0.5"/><ellipse cx="379.04" cy="75.21" rx="0.93" ry="0.61" fill="#3a2810" opacity="0.5"/><ellipse cx="357.01" cy="80.99" rx="0.50" ry="0.34" fill="#3a2810" opacity="0.5"/><ellipse cx="367.55" cy="78.06" rx="0.86" ry="0.51" fill="#3a2810" opacity="0.5"/><ellipse cx="359.96" cy="84.03" rx="0.40" ry="0.62" fill="#3a2810" opacity="0.5"/><ellipse cx="361.33" cy="83.83" rx="0.83" ry="0.48" fill="#3a2810" opacity="0.5"/><ellipse cx="359.62" cy="83.42" rx="1.00" ry="0.68" fill="#3a2810" opacity="0.5"/><ellipse cx="369.33" cy="84.08" rx="1.03" ry="0.57" fill="#3a2810" opacity="0.5"/><ellipse cx="362.81" cy="80.99" rx="0.64" ry="0.63" fill="#3a2810" opacity="0.5"/><ellipse cx="368.38" cy="83.52" rx="1.02" ry="0.60" fill="#3a2810" opacity="0.5"/><ellipse cx="359.28" cy="78.42" rx="0.46" ry="0.43" fill="#3a2810" opacity="0.5"/><ellipse cx="358.09" cy="78.08" rx="0.96" ry="0.35" fill="#3a2810" opacity="0.5"/><ellipse cx="377.86" cy="84.05" rx="0.94" ry="0.40" fill="#3a2810" opacity="0.5"/><ellipse cx="361.55" cy="79.59" rx="0.83" ry="0.67" fill="#3a2810" opacity="0.5"/><ellipse cx="354.53" cy="76.03" rx="0.98" ry="0.31" fill="#3a2810" opacity="0.5"/><ellipse cx="377.24" cy="76.99" rx="1.08" ry="0.49" fill="#a0742e" opacity="0.25"/><ellipse cx="369.76" cy="83.12" rx="0.98" ry="0.47" fill="#a0742e" opacity="0.25"/><ellipse cx="365.97" cy="82.77" rx="0.58" ry="0.42" fill="#a0742e" opacity="0.25"/><ellipse cx="376.65" cy="83.67" rx="0.98" ry="0.44" fill="#a0742e" opacity="0.25"/><ellipse cx="362.91" cy="76.20" rx="0.98" ry="0.32" fill="#a0742e" opacity="0.25"/><ellipse cx="358.76" cy="75.43" rx="0.72" ry="0.70" fill="#a0742e" opacity="0.25"/><ellipse cx="355.83" cy="77.62" rx="0.59" ry="0.58" fill="#a0742e" opacity="0.25"/><ellipse cx="363.27" cy="76.87" rx="0.88" ry="0.66" fill="#a0742e" opacity="0.25"/><ellipse cx="358.29" cy="75.81" rx="0.69" ry="0.67" fill="#a0742e" opacity="0.25"/><ellipse cx="355.55" cy="76.53" rx="0.85" ry="0.60" fill="#a0742e" opacity="0.25"/><ellipse cx="365.75" cy="75.63" rx="0.79" ry="0.34" fill="#a0742e" opacity="0.25"/><ellipse cx="355.92" cy="75.75" rx="1.06" ry="0.34" fill="#a0742e" opacity="0.25"/><ellipse cx="366.35" cy="83.08" rx="0.54" ry="0.46" fill="#a0742e" opacity="0.25"/><ellipse cx="374.64" cy="80.62" rx="0.54" ry="0.51" fill="#a0742e" opacity="0.25"/><ellipse cx="379.86" cy="83.06" rx="1.07" ry="0.31" fill="#a0742e" opacity="0.25"/><ellipse cx="355.52" cy="80.03" rx="0.41" ry="0.68" fill="#a0742e" opacity="0.25"/><ellipse cx="361.60" cy="80.48" rx="1.01" ry="0.47" fill="#a0742e" opacity="0.25"/><ellipse cx="373.90" cy="76.68" rx="0.71" ry="0.59" fill="#a0742e" opacity="0.25"/><ellipse cx="366.17" cy="76.98" rx="1.00" ry="0.44" fill="#a0742e" opacity="0.25"/><ellipse cx="377.73" cy="78.22" rx="0.98" ry="0.35" fill="#a0742e" opacity="0.25"/><ellipse cx="371.55" cy="84.34" rx="0.84" ry="0.47" fill="#a0742e" opacity="0.25"/><ellipse cx="379.50" cy="84.48" rx="0.98" ry="0.39" fill="#a0742e" opacity="0.25"/><ellipse cx="356.32" cy="81.08" rx="0.49" ry="0.32" fill="#a0742e" opacity="0.25"/><ellipse cx="368.44" cy="84.27" rx="0.59" ry="0.63" fill="#a0742e" opacity="0.25"/><ellipse cx="378.98" cy="84.24" rx="0.46" ry="0.35" fill="#a0742e" opacity="0.25"/><ellipse cx="378.84" cy="84.47" rx="0.52" ry="0.37" fill="#a0742e" opacity="0.25"/><ellipse cx="372.52" cy="76.13" rx="0.47" ry="0.36" fill="#a0742e" opacity="0.25"/><ellipse cx="369.03" cy="78.76" rx="0.99" ry="0.36" fill="#a0742e" opacity="0.25"/><ellipse cx="377.32" cy="82.76" rx="0.66" ry="0.54" fill="#a0742e" opacity="0.25"/><ellipse cx="371.60" cy="76.37" rx="1.05" ry="0.48" fill="#a0742e" opacity="0.25"/><ellipse cx="367.39" cy="83.38" rx="0.41" ry="0.41" fill="#a0742e" opacity="0.25"/><ellipse cx="354.80" cy="82.27" rx="0.55" ry="0.59" fill="#a0742e" opacity="0.25"/><ellipse cx="372.66" cy="84.76" rx="0.53" ry="0.47" fill="#a0742e" opacity="0.25"/><ellipse cx="374.49" cy="79.47" rx="0.52" ry="0.57" fill="#a0742e" opacity="0.25"/><ellipse cx="374.65" cy="79.49" rx="0.67" ry="0.35" fill="#a0742e" opacity="0.25"/><ellipse cx="364.55" cy="83.27" rx="0.65" ry="0.68" fill="#a0742e" opacity="0.25"/><ellipse cx="363.30" cy="79.77" rx="0.95" ry="0.66" fill="#a0742e" opacity="0.25"/><ellipse cx="375.96" cy="79.25" rx="0.72" ry="0.35" fill="#a0742e" opacity="0.25"/><ellipse cx="368.00" cy="83.06" rx="0.53" ry="0.43" fill="#a0742e" opacity="0.25"/><ellipse cx="355.71" cy="79.56" rx="0.74" ry="0.70" fill="#a0742e" opacity="0.25"/><ellipse cx="371.42" cy="84.01" rx="0.54" ry="0.48" fill="#a0742e" opacity="0.25"/><ellipse cx="372.26" cy="75.91" rx="0.80" ry="0.55" fill="#a0742e" opacity="0.25"/><ellipse cx="354.70" cy="77.15" rx="0.95" ry="0.36" fill="#a0742e" opacity="0.25"/><ellipse cx="370.58" cy="79.25" rx="0.67" ry="0.65" fill="#a0742e" opacity="0.25"/><ellipse cx="364.31" cy="83.64" rx="0.97" ry="0.52" fill="#a0742e" opacity="0.25"/></g>
<path d="M354,79.6C354,76.6 356.4,75.2 360,75.2L374,75.6C377.5,75.8 379.1,77.6 379,80.1C378.9,82.8 377.4,84.5 374,84.6L360,84.8C356.4,84.8 354,83.1 354,79.6Z" fill="none" stroke="#3e3222" stroke-width="0.5" opacity="0.6"/>
<rect x="319.40" y="112.10" width="65.00" height="37.20" fill="#fff" stroke="#d8d8d8" stroke-width="0.8" rx="1.5"/>
<rect x="324.30" y="116.40" width="9.50" height="6.10" fill="#dcdcdc" stroke="#999" stroke-width="0.7"/>
<text x="338.30" y="122.00" font-size="8.4">Control</text>
<rect x="324.30" y="128.25" width="9.50" height="6.10" fill="#c9ad96" stroke="#a08672" stroke-width="0.7"/>
<text x="338.30" y="133.85" font-size="8.4">CH<tspan font-size="0.62em">4</tspan></text>
<rect x="324.30" y="140.10" width="9.50" height="6.10" fill="#b1c6d6" stroke="#8a9cab" stroke-width="0.7"/>
<text x="338.30" y="145.70" font-size="8.4">CH<tspan font-size="0.62em">4</tspan>+MOB</text>
<line x1="432.30" y1="23.50" x2="432.30" y2="129.70" stroke="#444" stroke-width="1.1"/>
<line x1="431.80" y1="129.20" x2="670.40" y2="129.20" stroke="#444" stroke-width="1.1"/>
<line x1="429.40" y1="113.20" x2="432.30" y2="113.20" stroke="#444" stroke-width="1"/>
<text x="424.90" y="117.10" font-size="9.5" text-anchor="end">25</text>
<line x1="429.40" y1="90.80" x2="432.30" y2="90.80" stroke="#444" stroke-width="1"/>
<text x="424.90" y="94.70" font-size="9.5" text-anchor="end">50</text>
<line x1="429.40" y1="68.40" x2="432.30" y2="68.40" stroke="#444" stroke-width="1"/>
<text x="424.90" y="72.30" font-size="9.5" text-anchor="end">75</text>
<line x1="429.40" y1="46.00" x2="432.30" y2="46.00" stroke="#444" stroke-width="1"/>
<text x="424.90" y="49.90" font-size="9.5" text-anchor="end">100</text>
<text x="403.40" y="76.50" font-size="9.7" text-anchor="middle" transform="rotate(-90 403.40 76.50)">Water Content (%)</text>
<line x1="450.50" y1="129.20" x2="450.50" y2="131.60" stroke="#444" stroke-width="1"/>
<text x="450.50" y="142.80" font-size="9.4" text-anchor="middle">1</text>
<line x1="467.40" y1="24.40" x2="467.40" y2="129.20" stroke="#444" stroke-width="1" stroke-dasharray="4.1,3.0" stroke-dashoffset="2.1"/>
<line x1="484.30" y1="129.20" x2="484.30" y2="131.60" stroke="#444" stroke-width="1"/>
<text x="484.30" y="142.80" font-size="9.4" text-anchor="middle">2</text>
<line x1="501.20" y1="24.40" x2="501.20" y2="129.20" stroke="#444" stroke-width="1" stroke-dasharray="4.1,3.0" stroke-dashoffset="2.1"/>
<line x1="518.10" y1="129.20" x2="518.10" y2="131.60" stroke="#444" stroke-width="1"/>
<text x="518.10" y="142.80" font-size="9.4" text-anchor="middle">3</text>
<line x1="535.00" y1="24.40" x2="535.00" y2="129.20" stroke="#444" stroke-width="1" stroke-dasharray="4.1,3.0" stroke-dashoffset="2.1"/>
<line x1="551.90" y1="129.20" x2="551.90" y2="131.60" stroke="#444" stroke-width="1"/>
<text x="551.90" y="142.80" font-size="9.4" text-anchor="middle">4</text>
<line x1="568.80" y1="24.40" x2="568.80" y2="129.20" stroke="#444" stroke-width="1" stroke-dasharray="4.1,3.0" stroke-dashoffset="2.1"/>
<line x1="585.70" y1="129.20" x2="585.70" y2="131.60" stroke="#444" stroke-width="1"/>
<text x="585.70" y="142.80" font-size="9.4" text-anchor="middle">5</text>
<line x1="602.60" y1="24.40" x2="602.60" y2="129.20" stroke="#444" stroke-width="1" stroke-dasharray="4.1,3.0" stroke-dashoffset="2.1"/>
<line x1="619.50" y1="129.20" x2="619.50" y2="131.60" stroke="#444" stroke-width="1"/>
<text x="619.50" y="142.80" font-size="9.4" text-anchor="middle">6</text>
<line x1="636.40" y1="24.40" x2="636.40" y2="129.20" stroke="#444" stroke-width="1" stroke-dasharray="4.1,3.0" stroke-dashoffset="2.1"/>
<line x1="653.30" y1="129.20" x2="653.30" y2="131.60" stroke="#444" stroke-width="1"/>
<text x="653.30" y="142.80" font-size="9.4" text-anchor="middle">7</text>
<text x="664.60" y="142.80" font-size="9.4" textLength="19.4" lengthAdjust="spacingAndGlyphs">days</text>
<path d="M441.50,84.20V76.20M439.20,76.20H443.80" stroke="#777" stroke-width="0.7" fill="none"/>
<path d="M441.50,92.70V94.20M439.20,94.20H443.80" stroke="#777" stroke-width="0.7" fill="none"/>
<rect x="436.90" y="84.20" width="9.20" height="8.50" fill="#dcdcdc" stroke="#8c8c8c" stroke-width="0.8"/>
<line x1="436.90" y1="92.10" x2="446.10" y2="92.10" stroke="#8c8c8c" stroke-width="0.8"/>
<path d="M450.50,105.00V104.50M448.20,104.50H452.80" stroke="#777" stroke-width="0.7" fill="none"/>
<path d="M450.50,114.20V125.40M448.20,125.40H452.80" stroke="#777" stroke-width="0.7" fill="none"/>
<rect x="445.90" y="105.00" width="9.20" height="9.20" fill="#c9ad96" stroke="#8f7866" stroke-width="0.8"/>
<line x1="445.90" y1="107.70" x2="455.10" y2="107.70" stroke="#8f7866" stroke-width="0.8"/>
<path d="M459.50,106.30V105.40M457.20,105.40H461.80" stroke="#777" stroke-width="0.7" fill="none"/>
<path d="M459.50,116.40V117.40M457.20,117.40H461.80" stroke="#777" stroke-width="0.7" fill="none"/>
<rect x="454.90" y="106.30" width="9.20" height="10.10" fill="#b1c6d6" stroke="#8496a5" stroke-width="0.8"/>
<line x1="454.90" y1="112.80" x2="464.10" y2="112.80" stroke="#8496a5" stroke-width="0.8"/>
<path d="M475.30,94.10V97.70M473.00,97.70H477.60" stroke="#777" stroke-width="0.7" fill="none"/>
<rect x="470.70" y="88.30" width="9.20" height="5.80" fill="#dcdcdc" stroke="#8c8c8c" stroke-width="0.8"/>
<line x1="470.70" y1="93.60" x2="479.90" y2="93.60" stroke="#8c8c8c" stroke-width="0.8"/>
<path d="M484.30,102.50V107.70M482.00,107.70H486.60" stroke="#777" stroke-width="0.7" fill="none"/>
<rect x="479.70" y="98.50" width="9.20" height="4.00" fill="#c9ad96" stroke="#8f7866" stroke-width="0.8"/>
<line x1="479.70" y1="99.30" x2="488.90" y2="99.30" stroke="#8f7866" stroke-width="0.8"/>
<rect x="488.70" y="96.50" width="9.20" height="2.00" fill="#b1c6d6" stroke="#8496a5" stroke-width="0.8"/>
<line x1="488.70" y1="97.50" x2="497.90" y2="97.50" stroke="#8496a5" stroke-width="0.8"/>
<path d="M509.10,86.60V90.60M506.80,90.60H511.40" stroke="#777" stroke-width="0.7" fill="none"/>
<rect x="504.50" y="75.90" width="9.20" height="10.70" fill="#dcdcdc" stroke="#8c8c8c" stroke-width="0.8"/>
<line x1="504.50" y1="82.50" x2="513.70" y2="82.50" stroke="#8c8c8c" stroke-width="0.8"/>
<path d="M518.10,93.50V92.60M515.80,92.60H520.40" stroke="#777" stroke-width="0.7" fill="none"/>
<rect x="513.50" y="93.50" width="9.20" height="4.20" fill="#c9ad96" stroke="#8f7866" stroke-width="0.8"/>
<line x1="513.50" y1="94.20" x2="522.70" y2="94.20" stroke="#8f7866" stroke-width="0.8"/>
<rect x="522.50" y="95.60" width="9.20" height="0.40" fill="#b1c6d6" stroke="#8496a5" stroke-width="0.8"/>
<line x1="522.50" y1="95.80" x2="531.70" y2="95.80" stroke="#8496a5" stroke-width="0.8"/>
<path d="M542.90,86.70V83.60M540.60,83.60H545.20" stroke="#777" stroke-width="0.7" fill="none"/>
<path d="M542.90,92.00V95.80M540.60,95.80H545.20" stroke="#777" stroke-width="0.7" fill="none"/>
<rect x="538.30" y="86.70" width="9.20" height="5.30" fill="#dcdcdc" stroke="#8c8c8c" stroke-width="0.8"/>
<line x1="538.30" y1="89.60" x2="547.50" y2="89.60" stroke="#8c8c8c" stroke-width="0.8"/>
<path d="M551.90,98.50V92.40M549.60,92.40H554.20" stroke="#777" stroke-width="0.7" fill="none"/>
<path d="M551.90,113.60V117.50M549.60,117.50H554.20" stroke="#777" stroke-width="0.7" fill="none"/>
<rect x="547.30" y="98.50" width="9.20" height="15.10" fill="#c9ad96" stroke="#8f7866" stroke-width="0.8"/>
<line x1="547.30" y1="109.90" x2="556.50" y2="109.90" stroke="#8f7866" stroke-width="0.8"/>
<path d="M560.90,96.10V93.30M558.60,93.30H563.20" stroke="#777" stroke-width="0.7" fill="none"/>
<rect x="556.30" y="96.10" width="9.20" height="3.60" fill="#b1c6d6" stroke="#8496a5" stroke-width="0.8"/>
<line x1="556.30" y1="97.90" x2="565.50" y2="97.90" stroke="#8496a5" stroke-width="0.8"/>
<path d="M576.70,88.20V91.00M574.40,91.00H579.00" stroke="#777" stroke-width="0.7" fill="none"/>
<rect x="572.10" y="86.10" width="9.20" height="2.10" fill="#dcdcdc" stroke="#8c8c8c" stroke-width="0.8"/>
<line x1="572.10" y1="87.00" x2="581.30" y2="87.00" stroke="#8c8c8c" stroke-width="0.8"/>
<path d="M585.70,96.80V89.40M583.40,89.40H588.00" stroke="#777" stroke-width="0.7" fill="none"/>
<path d="M585.70,108.20V110.60M583.40,110.60H588.00" stroke="#777" stroke-width="0.7" fill="none"/>
<rect x="581.10" y="96.80" width="9.20" height="11.40" fill="#c9ad96" stroke="#8f7866" stroke-width="0.8"/>
<line x1="581.10" y1="102.00" x2="590.30" y2="102.00" stroke="#8f7866" stroke-width="0.8"/>
<path d="M594.70,83.40V77.40M592.40,77.40H597.00" stroke="#777" stroke-width="0.7" fill="none"/>
<path d="M594.70,96.30V100.90M592.40,100.90H597.00" stroke="#777" stroke-width="0.7" fill="none"/>
<rect x="590.10" y="83.40" width="9.20" height="12.90" fill="#b1c6d6" stroke="#8496a5" stroke-width="0.8"/>
<line x1="590.10" y1="91.00" x2="599.30" y2="91.00" stroke="#8496a5" stroke-width="0.8"/>
<path d="M610.50,72.40V51.60M608.20,51.60H612.80" stroke="#777" stroke-width="0.7" fill="none"/>
<path d="M610.50,88.30V93.50M608.20,93.50H612.80" stroke="#777" stroke-width="0.7" fill="none"/>
<rect x="605.90" y="72.40" width="9.20" height="15.90" fill="#dcdcdc" stroke="#8c8c8c" stroke-width="0.8"/>
<line x1="605.90" y1="85.40" x2="615.10" y2="85.40" stroke="#8c8c8c" stroke-width="0.8"/>
<path d="M619.50,107.30V116.50M617.20,116.50H621.80" stroke="#777" stroke-width="0.7" fill="none"/>
<rect x="614.90" y="98.80" width="9.20" height="8.50" fill="#c9ad96" stroke="#8f7866" stroke-width="0.8"/>
<line x1="614.90" y1="104.40" x2="624.10" y2="104.40" stroke="#8f7866" stroke-width="0.8"/>
<path d="M628.50,81.70V73.20M626.20,73.20H630.80" stroke="#777" stroke-width="0.7" fill="none"/>
<path d="M628.50,95.40V97.90M626.20,97.90H630.80" stroke="#777" stroke-width="0.7" fill="none"/>
<rect x="623.90" y="81.70" width="9.20" height="13.70" fill="#b1c6d6" stroke="#8496a5" stroke-width="0.8"/>
<line x1="623.90" y1="91.10" x2="633.10" y2="91.10" stroke="#8496a5" stroke-width="0.8"/>
<path d="M644.30,81.30V80.40M642.00,80.40H646.60" stroke="#777" stroke-width="0.7" fill="none"/>
<path d="M644.30,87.40V89.00M642.00,89.00H646.60" stroke="#777" stroke-width="0.7" fill="none"/>
<rect x="639.70" y="81.30" width="9.20" height="6.10" fill="#dcdcdc" stroke="#8c8c8c" stroke-width="0.8"/>
<line x1="639.70" y1="85.00" x2="648.90" y2="85.00" stroke="#8c8c8c" stroke-width="0.8"/>
<path d="M653.30,97.10V96.00M651.00,96.00H655.60" stroke="#777" stroke-width="0.7" fill="none"/>
<path d="M653.30,108.50V112.00M651.00,112.00H655.60" stroke="#777" stroke-width="0.7" fill="none"/>
<rect x="648.70" y="97.10" width="9.20" height="11.40" fill="#c9ad96" stroke="#8f7866" stroke-width="0.8"/>
<line x1="648.70" y1="105.60" x2="657.90" y2="105.60" stroke="#8f7866" stroke-width="0.8"/>
<rect x="657.70" y="88.20" width="9.20" height="3.30" fill="#b1c6d6" stroke="#8496a5" stroke-width="0.8"/>
<line x1="657.70" y1="89.80" x2="666.90" y2="89.80" stroke="#8496a5" stroke-width="0.8"/>
<path d="M474.70,68.30H476.70M475.70,67.30V69.30" stroke="#777" stroke-width="0.6" fill="none"/>
<path d="M508.00,59.40H510.00M509.00,58.40V60.40" stroke="#777" stroke-width="0.6" fill="none"/>
<path d="M517.30,122.80H519.30M518.30,121.80V123.80" stroke="#777" stroke-width="0.6" fill="none"/>
<path d="M526.20,87.50H528.20M527.20,86.50V88.50" stroke="#777" stroke-width="0.6" fill="none"/>
<path d="M526.20,103.00H528.20M527.20,102.00V104.00" stroke="#777" stroke-width="0.6" fill="none"/>
<path d="M560.00,105.50H562.00M561.00,104.50V106.50" stroke="#777" stroke-width="0.6" fill="none"/>
<path d="M576.00,80.10H578.00M577.00,79.10V81.10" stroke="#777" stroke-width="0.6" fill="none"/>
<text x="438.40" y="45.60" font-size="6.5" textLength="25.4" lengthAdjust="spacingAndGlyphs"><tspan font-style="italic">P</tspan>=0.0119</text>
<path d="M441.30,50.80V49.60H459.20V50.80" stroke="#555" stroke-width="0.8" fill="none"/>
<text x="436.00" y="67.50" font-size="6.5" textLength="25.4" lengthAdjust="spacingAndGlyphs"><tspan font-style="italic">P</tspan>=0.0119</text>
<path d="M441.00,71.40V70.20H450.30V71.40" stroke="#555" stroke-width="0.8" fill="none"/>
<text x="469.20" y="58.60" font-size="6.5" textLength="25.4" lengthAdjust="spacingAndGlyphs"><tspan font-style="italic">P</tspan>=0.0238</text>
<path d="M474.30,63.30V62.10H483.70V63.30" stroke="#555" stroke-width="0.8" fill="none"/>
<text x="507.30" y="38.30" font-size="6.5" textLength="25.4" lengthAdjust="spacingAndGlyphs"><tspan font-style="italic">P</tspan>=0.0238</text>
<path d="M510.50,41.60V40.40H527.50V41.60" stroke="#555" stroke-width="0.8" fill="none"/>
<text x="504.90" y="50.40" font-size="6.5" textLength="25.4" lengthAdjust="spacingAndGlyphs"><tspan font-style="italic">P</tspan>=0.0238</text>
<path d="M510.50,54.10V52.90H518.60V54.10" stroke="#555" stroke-width="0.8" fill="none"/>
<text x="537.90" y="44.90" font-size="6.5" textLength="25.4" lengthAdjust="spacingAndGlyphs"><tspan font-style="italic">P</tspan>=0.0476</text>
<path d="M542.70,51.00V49.80H560.20V51.00" stroke="#555" stroke-width="0.8" fill="none"/>
<text x="538.10" y="75.40" font-size="6.5" textLength="25.4" lengthAdjust="spacingAndGlyphs"><tspan font-style="italic">P</tspan>=0.0476</text>
<path d="M541.20,79.50V78.30H550.90V79.50" stroke="#555" stroke-width="0.8" fill="none"/>
<text x="572.20" y="71.20" font-size="6.5" textLength="25.4" lengthAdjust="spacingAndGlyphs"><tspan font-style="italic">P</tspan>=0.0476</text>
<path d="M573.30,76.00V74.80H581.70V76.00" stroke="#555" stroke-width="0.8" fill="none"/>
<text x="606.20" y="42.20" font-size="6.5" textLength="25.4" lengthAdjust="spacingAndGlyphs"><tspan font-style="italic">P</tspan>=0.0119</text>
<path d="M610.50,47.40V46.20H619.80V47.40" stroke="#555" stroke-width="0.8" fill="none"/>
<text x="611.00" y="59.20" font-size="6.5" textLength="25.4" lengthAdjust="spacingAndGlyphs"><tspan font-style="italic">P</tspan>=0.0119</text>
<path d="M620.30,63.60V62.40H629.20V63.60" stroke="#555" stroke-width="0.8" fill="none"/>
<text x="641.20" y="65.00" font-size="6.5" textLength="25.4" lengthAdjust="spacingAndGlyphs"><tspan font-style="italic">P</tspan>=0.0119</text>
<path d="M644.40,68.80V67.60H652.80V68.80" stroke="#555" stroke-width="0.8" fill="none"/>
<text x="646.00" y="76.90" font-size="6.5" textLength="25.4" lengthAdjust="spacingAndGlyphs"><tspan font-style="italic">P</tspan>=0.0119</text>
<path d="M654.10,80.50V79.30H662.60V80.50" stroke="#555" stroke-width="0.8" fill="none"/>
<line x1="35.70" y1="180.40" x2="35.70" y2="295.20" stroke="#444" stroke-width="1.1"/>
<line x1="35.20" y1="294.80" x2="110.40" y2="294.80" stroke="#444" stroke-width="1.1"/>
<line x1="32.00" y1="276.20" x2="35.70" y2="276.20" stroke="#444" stroke-width="1"/>
<text x="29.20" y="279.70" font-size="9.0" text-anchor="end">140</text>
<line x1="32.00" y1="251.28" x2="35.70" y2="251.28" stroke="#444" stroke-width="1"/>
<text x="29.20" y="254.78" font-size="9.0" text-anchor="end">160</text>
<line x1="32.00" y1="226.36" x2="35.70" y2="226.36" stroke="#444" stroke-width="1"/>
<text x="29.20" y="229.86" font-size="9.0" text-anchor="end">180</text>
<line x1="32.00" y1="201.44" x2="35.70" y2="201.44" stroke="#444" stroke-width="1"/>
<text x="29.20" y="204.94" font-size="9.0" text-anchor="end">200</text>
<text x="8.10" y="237.40" font-size="9.4" text-anchor="middle" textLength="122" lengthAdjust="spacingAndGlyphs" transform="rotate(-90 8.10 237.40)">Whole gut transit Time (mins)</text>
<line x1="48.80" y1="294.80" x2="48.80" y2="297.50" stroke="#444" stroke-width="1"/>
<line x1="74.60" y1="294.80" x2="74.60" y2="297.50" stroke="#444" stroke-width="1"/>
<line x1="100.30" y1="294.80" x2="100.30" y2="297.50" stroke="#444" stroke-width="1"/>
<path d="M48.80,239.60C49.02,240.33 49.73,242.27 50.10,244.00C50.47,245.73 50.68,248.17 51.00,250.00C51.32,251.83 51.53,253.33 52.00,255.00C52.47,256.67 53.08,258.50 53.80,260.00C54.52,261.50 55.53,262.67 56.30,264.00C57.07,265.33 57.92,266.83 58.40,268.00C58.88,269.17 59.17,270.00 59.20,271.00C59.23,272.00 59.00,273.00 58.60,274.00C58.20,275.00 57.53,276.00 56.80,277.00C56.07,278.00 55.03,279.00 54.20,280.00C53.37,281.00 52.70,281.92 51.80,283.00C50.90,284.08 49.30,285.92 48.80,286.50C48.30,287.08 49.30,287.08 48.80,286.50C48.30,285.92 46.70,284.08 45.80,283.00C44.90,281.92 44.23,281.00 43.40,280.00C42.57,279.00 41.53,278.00 40.80,277.00C40.07,276.00 39.40,275.00 39.00,274.00C38.60,273.00 38.37,272.00 38.40,271.00C38.43,270.00 38.72,269.17 39.20,268.00C39.68,266.83 40.53,265.33 41.30,264.00C42.07,262.67 43.08,261.50 43.80,260.00C44.52,258.50 45.13,256.67 45.60,255.00C46.07,253.33 46.28,251.83 46.60,250.00C46.92,248.17 47.13,245.73 47.50,244.00C47.87,242.27 48.58,240.33 48.80,239.60Z" stroke="#8a8a8a" stroke-width="0.8" fill="#dcdcdc"/>
<path d="M74.60,197.30C74.77,198.58 75.27,202.38 75.60,205.00C75.93,207.62 76.23,210.33 76.60,213.00C76.97,215.67 77.37,218.33 77.80,221.00C78.23,223.67 78.75,226.50 79.20,229.00C79.65,231.50 80.22,234.00 80.50,236.00C80.78,238.00 80.95,239.17 80.90,241.00C80.85,242.83 80.53,244.83 80.20,247.00C79.87,249.17 79.35,251.67 78.90,254.00C78.45,256.33 77.97,258.83 77.50,261.00C77.03,263.17 76.58,265.13 76.10,267.00C75.62,268.87 74.85,271.33 74.60,272.20C74.35,273.07 74.85,273.07 74.60,272.20C74.35,271.33 73.58,268.87 73.10,267.00C72.62,265.13 72.17,263.17 71.70,261.00C71.23,258.83 70.75,256.33 70.30,254.00C69.85,251.67 69.33,249.17 69.00,247.00C68.67,244.83 68.35,242.83 68.30,241.00C68.25,239.17 68.42,238.00 68.70,236.00C68.98,234.00 69.55,231.50 70.00,229.00C70.45,226.50 70.97,223.67 71.40,221.00C71.83,218.33 72.23,215.67 72.60,213.00C72.97,210.33 73.27,207.62 73.60,205.00C73.93,202.38 74.43,198.58 74.60,197.30Z" stroke="#8a8a8a" stroke-width="0.8" fill="#c9ad96"/>
<path d="M100.50,236.50C100.70,237.08 101.27,238.75 101.70,240.00C102.13,241.25 102.57,242.67 103.10,244.00C103.63,245.33 104.37,246.67 104.90,248.00C105.43,249.33 105.95,250.67 106.30,252.00C106.65,253.33 106.85,254.67 107.00,256.00C107.15,257.33 107.18,258.33 107.20,260.00C107.22,261.67 107.22,264.00 107.10,266.00C106.98,268.00 106.80,270.17 106.50,272.00C106.20,273.83 105.77,275.33 105.30,277.00C104.83,278.67 104.20,280.50 103.70,282.00C103.20,283.50 102.83,284.53 102.30,286.00C101.77,287.47 100.80,290.00 100.50,290.80C100.20,291.60 100.80,291.60 100.50,290.80C100.20,290.00 99.23,287.47 98.70,286.00C98.17,284.53 97.80,283.50 97.30,282.00C96.80,280.50 96.17,278.67 95.70,277.00C95.23,275.33 94.80,273.83 94.50,272.00C94.20,270.17 94.02,268.00 93.90,266.00C93.78,264.00 93.78,261.67 93.80,260.00C93.82,258.33 93.85,257.33 94.00,256.00C94.15,254.67 94.35,253.33 94.70,252.00C95.05,250.67 95.57,249.33 96.10,248.00C96.63,246.67 97.37,245.33 97.90,244.00C98.43,242.67 98.87,241.25 99.30,240.00C99.73,238.75 100.30,237.08 100.50,236.50Z" stroke="#8a8a8a" stroke-width="0.8" fill="#b1c6d6"/>
<rect x="46.10" y="264.10" width="5.40" height="10.80" fill="#666" stroke="none" stroke-width="0"/>
<circle cx="48.80" cy="269.60" r="0.9" fill="#fff" stroke="none" stroke-width="0"/>
<line x1="74.60" y1="233.90" x2="74.60" y2="252.70" stroke="#555" stroke-width="0.7"/>
<rect x="71.90" y="233.90" width="5.40" height="12.50" fill="#666" stroke="none" stroke-width="0"/>
<circle cx="74.60" cy="237.60" r="0.9" fill="#fff" stroke="none" stroke-width="0"/>
<rect x="97.80" y="252.60" width="5.40" height="22.00" fill="#666" stroke="none" stroke-width="0"/>
<circle cx="100.50" cy="265.30" r="0.9" fill="#fff" stroke="none" stroke-width="0"/>
<text x="49.50" y="185.60" font-size="6.5" textLength="25.6" lengthAdjust="spacingAndGlyphs"><tspan font-style="italic">P</tspan>=0.0092</text>
<path d="M48.80,192.30V190.80H74.60V192.30" stroke="#444" stroke-width="0.8" fill="none"/>
<text x="75.90" y="168.00" font-size="6.5" textLength="26" lengthAdjust="spacingAndGlyphs"><tspan font-style="italic">P</tspan>=0.0123</text>
<path d="M74.60,174.00V172.20H100.20V174.00" stroke="#444" stroke-width="0.8" fill="none"/>
<text x="56.90" y="309.70" font-size="9.4" text-anchor="end" transform="rotate(-45 56.90 309.70)">Control</text>
<text x="76.60" y="309.50" font-size="9.4" text-anchor="end" transform="rotate(-45 76.60 309.50)">CH<tspan font-size="0.62em">4</tspan></text>
<text x="98.40" y="309.90" font-size="9.4" text-anchor="end" transform="rotate(-45 98.40 309.90)">CH<tspan font-size="0.62em">4</tspan>+MOB</text>
<line x1="316.60" y1="186.00" x2="316.60" y2="295.70" stroke="#444" stroke-width="1.1"/>
<line x1="314.20" y1="295.20" x2="383.80" y2="295.20" stroke="#444" stroke-width="1.1"/>
<line x1="313.00" y1="295.20" x2="316.60" y2="295.20" stroke="#444" stroke-width="1"/>
<text x="310.60" y="298.60" font-size="9.4" text-anchor="end">0</text>
<line x1="313.00" y1="264.70" x2="316.60" y2="264.70" stroke="#444" stroke-width="1"/>
<text x="310.60" y="268.10" font-size="9.4" text-anchor="end">25</text>
<line x1="313.00" y1="234.20" x2="316.60" y2="234.20" stroke="#444" stroke-width="1"/>
<text x="310.60" y="237.60" font-size="9.4" text-anchor="end">50</text>
<line x1="313.00" y1="203.70" x2="316.60" y2="203.70" stroke="#444" stroke-width="1"/>
<text x="310.60" y="207.10" font-size="9.4" text-anchor="end">75</text>
<text x="294.60" y="239.30" font-size="9.5" text-anchor="middle" textLength="131" lengthAdjust="spacingAndGlyphs" transform="rotate(-90 294.60 239.30)">Small intestine transit Rate (%)</text>
<rect x="320.10" y="206.30" width="17.00" height="88.90" fill="#dcdcdc" stroke="none" stroke-width="0.8"/>
<rect x="341.90" y="234.40" width="16.70" height="60.80" fill="#c9ad96" stroke="none" stroke-width="0.8"/>
<rect x="363.10" y="209.90" width="17.80" height="85.30" fill="#b1c6d6" stroke="none" stroke-width="0.8"/>
<line x1="328.50" y1="295.20" x2="328.50" y2="297.90" stroke="#444" stroke-width="1"/>
<line x1="350.20" y1="295.20" x2="350.20" y2="297.90" stroke="#444" stroke-width="1"/>
<line x1="372.10" y1="295.20" x2="372.10" y2="297.90" stroke="#444" stroke-width="1"/>
<line x1="350.60" y1="228.50" x2="350.60" y2="237.50" stroke="#555" stroke-width="0.8"/>
<circle cx="325.30" cy="201.80" r="2.0" fill="#fff" stroke="#555" stroke-width="0.7"/>
<circle cx="328.50" cy="205.50" r="2.0" fill="#fff" stroke="#555" stroke-width="0.7"/>
<circle cx="333.70" cy="203.90" r="2.0" fill="#fff" stroke="#555" stroke-width="0.7"/>
<circle cx="323.20" cy="210.40" r="2.0" fill="#fff" stroke="#555" stroke-width="0.7"/>
<circle cx="328.50" cy="210.70" r="2.0" fill="#fff" stroke="#555" stroke-width="0.7"/>
<circle cx="346.70" cy="225.00" r="2.0" fill="#fff" stroke="#555" stroke-width="0.7"/>
<circle cx="350.70" cy="228.50" r="2.0" fill="#fff" stroke="#555" stroke-width="0.7"/>
<circle cx="345.60" cy="236.30" r="2.0" fill="#fff" stroke="#555" stroke-width="0.7"/>
<circle cx="350.40" cy="237.50" r="2.0" fill="#fff" stroke="#555" stroke-width="0.7"/>
<circle cx="350.40" cy="244.90" r="2.0" fill="#fff" stroke="#555" stroke-width="0.7"/>
<circle cx="372.00" cy="206.00" r="2.0" fill="#fff" stroke="#555" stroke-width="0.7"/>
<circle cx="375.50" cy="209.30" r="2.0" fill="#fff" stroke="#555" stroke-width="0.7"/>
<circle cx="366.60" cy="211.20" r="2.0" fill="#fff" stroke="#555" stroke-width="0.7"/>
<circle cx="378.80" cy="212.50" r="2.0" fill="#fff" stroke="#555" stroke-width="0.7"/>
<circle cx="372.30" cy="214.80" r="2.0" fill="#fff" stroke="#555" stroke-width="0.7"/>
<text x="325.30" y="180.60" font-size="6.5" textLength="24.8" lengthAdjust="spacingAndGlyphs"><tspan font-style="italic">P</tspan>=0.0002</text>
<path d="M329.40,186.40V183.40H349.60V186.40" stroke="#444" stroke-width="0.8" fill="none"/>
<text x="348.20" y="195.20" font-size="6.5" textLength="26" lengthAdjust="spacingAndGlyphs"><tspan font-style="italic">P</tspan>=0.0002</text>
<path d="M351.20,201.50V198.40H371.60V201.50" stroke="#444" stroke-width="0.8" fill="none"/>
<text x="328.80" y="309.40" font-size="9.4" text-anchor="end" transform="rotate(-45 328.80 309.40)">Control</text>
<text x="350.70" y="309.40" font-size="9.4" text-anchor="end" transform="rotate(-45 350.70 309.40)">CH<tspan font-size="0.62em">4</tspan></text>
<text x="372.50" y="309.80" font-size="9.4" text-anchor="end" transform="rotate(-45 372.50 309.80)">CH<tspan font-size="0.62em">4</tspan>+MOB</text>
<text x="160.10" y="201.80" font-size="9.5" text-anchor="end">Control</text>
<text x="159.90" y="241.20" font-size="9.5" text-anchor="end">CH<tspan font-size="0.62em">4</tspan></text>
<text x="159.90" y="278.80" font-size="9.5" text-anchor="end">CH<tspan font-size="0.62em">4</tspan>+MOB</text>
<line x1="165.30" y1="181.10" x2="165.30" y2="208.40" stroke="#333" stroke-width="1.1"/>
<line x1="165.30" y1="224.20" x2="165.30" y2="251.80" stroke="#333" stroke-width="1.1"/>
<line x1="165.30" y1="262.40" x2="165.30" y2="290.30" stroke="#333" stroke-width="1.1"/>
<path d="M168.70,180.20V185.40" stroke="#1d2330" stroke-width="1.3" fill="none"/>
<path d="M168.70,183.22 L169.60,183.35 L170.50,183.14 L171.40,183.13 L172.30,183.14 L173.20,182.95 L174.10,183.05 L175.00,183.07 L175.90,183.11 L176.80,182.81 L177.70,182.86 L178.60,182.75 L179.50,183.01 L180.40,182.94 L181.30,182.66 L182.20,183.01 L183.10,182.98 L184.00,182.84 L184.90,182.80 L185.80,182.60 L186.70,182.52 L187.60,182.71 L188.50,182.51 L189.40,182.55 L190.30,182.56 L191.20,182.46 L192.10,182.63 L193.00,182.61 L193.90,182.77 L194.80,182.63 L195.70,182.68 L196.60,182.63 L197.50,182.69 L198.40,182.62 L199.30,182.55 L200.20,182.85 L201.10,182.86 L202.00,182.81 L202.90,182.77 L203.80,182.63 L204.70,182.62 L205.60,182.66 L206.50,182.60 L207.40,182.90 L208.30,182.78 L209.20,182.99 L210.10,182.84 L211.00,183.10 L211.90,183.09 L212.80,182.78 L213.70,182.90 L214.60,183.22 L215.50,183.08 L216.40,183.32 L217.30,183.13 L218.20,183.04 L219.10,183.31 L220.00,183.41 L220.90,183.25 L221.80,183.22 L222.70,183.36 L223.60,183.66 L224.50,183.62 L225.40,183.40 L226.30,183.50 L227.20,183.48 L228.10,183.51 L229.00,183.85 L229.90,183.64 L230.80,183.83 L231.70,183.83 L232.60,183.76 L233.50,184.02 L234.40,183.81 L235.30,184.05 L236.20,183.87 L237.10,184.03 L238.00,183.98 L238.90,184.03 L239.80,184.33 L240.70,184.29 L241.60,184.11 L242.50,184.37 L243.40,184.12 L244.30,184.21 L245.20,184.41 L246.10,184.34 L247.00,184.13 L247.90,184.50 L248.80,184.19 L249.70,184.22 L250.60,184.42 L251.50,184.25 L252.40,184.23 L253.30,184.14" stroke="#a29480" stroke-width="0.95" fill="none"/>
<path d="M168.70,183.04 L169.60,183.62 L170.50,183.37 L171.40,183.19 L172.30,183.09 L173.20,182.71 L174.10,182.78 L175.00,183.35 L175.90,182.96 L176.80,182.93" stroke="#273040" stroke-width="1.128490699160156" fill="none"/>
<path d="M214.60,183.08 L215.50,183.05 L216.40,183.06 L217.30,182.94 L218.20,182.96 L219.10,183.35 L220.00,183.19 L220.90,183.17 L221.80,183.45 L222.70,183.65 L223.60,183.75 L224.50,183.73 L225.40,183.46" stroke="#273040" stroke-width="1.070173593572809" fill="none"/>
<path d="M168.70,183.31 L169.60,183.34 L170.50,183.28 L171.40,183.02 L172.30,183.44" stroke="#273040" stroke-width="1.037631450046192" fill="none"/>
<path d="M174.10,183.12 L175.00,182.82 L175.90,183.20 L176.80,183.10 L177.70,183.09 L178.60,182.89 L179.50,182.95 L180.40,183.08 L181.30,182.71 L182.20,182.98 L183.10,183.18 L184.00,182.59 L184.90,182.95 L185.80,182.31 L186.70,182.58 L187.60,182.70 L188.50,182.35 L189.40,182.67" stroke="#273040" stroke-width="1.2486252888290068" fill="none"/>
<path d="M220.00,183.26 L220.90,182.96" stroke="#273040" stroke-width="1.1505163205534978" fill="none"/>
<path d="M220.90,183.49 L221.80,183.31 L222.70,183.33" stroke="#273040" stroke-width="1.4458634601588685" fill="none"/>
<path d="M211.00,183.28 L211.90,183.33 L212.80,183.01 L213.70,182.83" stroke="#273040" stroke-width="1.2915535938769707" fill="none"/>
<path d="M243.40,183.98 L244.30,184.01 L245.20,184.38 L246.10,184.20 L247.00,183.96 L247.90,184.44 L248.80,184.27" stroke="#273040" stroke-width="1.2469376834934476" fill="none"/>
<path d="M168.70,183.50L172.20,183.70" stroke="#1d2330" stroke-width="2.0" fill="none"/>
<line x1="228.20" y1="180.46" x2="228.20" y2="187.06" stroke="#dd3b45" stroke-width="1.0"/>
<path d="M242.70,180.70V184.50" stroke="#262830" stroke-width="1.0" fill="none"/>
<path d="M168.70,187.00V192.20" stroke="#1d2330" stroke-width="1.3" fill="none"/>
<path d="M168.70,190.14 L169.60,190.19 L170.51,189.98 L171.41,189.83 L172.32,189.81 L173.22,190.14 L174.13,189.80 L175.03,190.05 L175.94,189.99 L176.84,189.87 L177.75,190.05 L178.66,189.73 L179.56,189.76 L180.46,189.87 L181.37,189.69 L182.27,189.99 L183.18,189.73 L184.08,189.68 L184.99,189.62 L185.89,189.83 L186.80,189.74 L187.70,189.79 L188.61,189.78 L189.51,189.82 L190.42,189.86 L191.32,189.73 L192.23,189.51 L193.13,189.60 L194.04,189.47 L194.94,189.38 L195.85,189.55 L196.75,189.62 L197.66,189.39 L198.56,189.41 L199.47,189.43 L200.38,189.55 L201.28,189.47 L202.19,189.50 L203.09,189.54 L204.00,189.39 L204.90,189.54 L205.80,189.58 L206.71,189.25 L207.61,189.58 L208.52,189.50 L209.42,189.26 L210.33,189.39 L211.23,189.46 L212.14,189.58 L213.04,189.37 L213.95,189.46 L214.85,189.59 L215.76,189.57 L216.66,189.65 L217.57,189.47 L218.47,189.56 L219.38,189.40 L220.28,189.63 L221.19,189.69 L222.09,189.65 L223.00,189.71 L223.90,189.53 L224.81,189.84 L225.71,189.90 L226.62,189.93 L227.52,189.79 L228.43,189.93 L229.33,189.77 L230.24,190.05 L231.14,190.06 L232.05,189.90 L232.95,189.84 L233.86,190.02 L234.76,190.11 L235.67,190.24 L236.57,190.17 L237.48,190.03 L238.38,190.39 L239.29,190.13 L240.19,190.47 L241.10,190.27 L242.00,190.38 L242.91,190.60 L243.81,190.39 L244.72,190.43 L245.62,190.63 L246.53,190.75 L247.44,190.84 L248.34,190.82 L249.25,190.97 L250.15,190.83 L251.06,191.05 L251.96,190.74 L252.87,190.83 L253.77,190.99 L254.67,190.93 L255.58,191.14 L256.49,191.14 L257.39,191.12 L258.29,191.28 L259.20,191.19" stroke="#a29480" stroke-width="0.95" fill="none"/>
<path d="M168.70,190.42 L169.60,190.20 L170.51,189.92 L171.41,190.01 L172.32,189.84" stroke="#273040" stroke-width="1.2455202232793794" fill="none"/>
<path d="M174.13,190.05 L175.03,189.92 L175.94,189.97 L176.84,189.65 L177.75,190.01" stroke="#273040" stroke-width="1.4078585279572364" fill="none"/>
<path d="M205.80,189.39 L206.71,189.08 L207.61,189.69 L208.52,189.39 L209.42,189.17 L210.33,189.46 L211.23,189.22 L212.14,189.72" stroke="#273040" stroke-width="1.0613916734304976" fill="none"/>
<path d="M213.95,189.29 L214.85,189.89 L215.76,189.81 L216.66,189.43 L217.57,189.31 L218.47,189.70 L219.38,189.26 L220.28,189.39 L221.19,189.89 L222.09,189.60 L223.00,189.88 L223.90,189.31 L224.81,189.78 L225.71,190.01 L226.62,189.64 L227.52,189.61 L228.43,190.03 L229.33,190.02 L230.24,190.33 L231.14,189.83 L232.05,189.90 L232.95,189.99 L233.86,190.02" stroke="#273040" stroke-width="1.342841315392215" fill="none"/>
<path d="M207.61,189.61 L208.52,189.50 L209.42,189.30 L210.33,189.18" stroke="#273040" stroke-width="1.092268147002708" fill="none"/>
<path d="M247.44,191.14 L248.34,191.08" stroke="#273040" stroke-width="1.0476232118151292" fill="none"/>
<path d="M243.81,190.28 L244.72,190.41 L245.62,190.63 L246.53,190.71" stroke="#273040" stroke-width="1.3004648997379613" fill="none"/>
<path d="M244.72,190.23 L245.62,190.63 L246.53,190.46 L247.44,191.08 L248.34,191.00 L249.25,191.09 L250.15,191.04 L251.06,191.13" stroke="#273040" stroke-width="1.202254956847742" fill="none"/>
<path d="M168.70,190.30L172.20,190.50" stroke="#1d2330" stroke-width="2.0" fill="none"/>
<line x1="235.40" y1="187.58" x2="235.40" y2="194.18" stroke="#dd3b45" stroke-width="1.0"/>
<path d="M244.50,186.00V192.00" stroke="#262830" stroke-width="1.1" fill="none"/>
<path d="M168.70,193.60V198.80" stroke="#1d2330" stroke-width="1.3" fill="none"/>
<path d="M168.70,196.60 L169.61,196.78 L170.51,196.69 L171.42,196.45 L172.32,196.70 L173.23,196.62 L174.14,196.62 L175.04,196.63 L175.95,196.45 L176.86,196.64 L177.76,196.63 L178.67,196.55 L179.57,196.58 L180.48,196.57 L181.39,196.43 L182.29,196.56 L183.20,196.30 L184.10,196.42 L185.01,196.48 L185.92,196.30 L186.82,196.45 L187.73,196.58 L188.63,196.59 L189.54,196.45 L190.45,196.75 L191.35,196.66 L192.26,196.55 L193.17,196.71 L194.07,196.70 L194.98,196.71 L195.88,196.68 L196.79,196.96 L197.70,196.85 L198.60,196.90 L199.51,196.96 L200.41,197.09 L201.32,196.74 L202.23,197.02 L203.13,197.11 L204.04,196.96 L204.94,197.06 L205.85,196.96 L206.76,197.06 L207.66,197.18 L208.57,197.11 L209.48,197.22 L210.38,197.53 L211.29,197.43 L212.19,197.46 L213.10,197.69 L214.01,197.58 L214.91,197.79 L215.82,197.69 L216.72,197.81 L217.63,197.56 L218.54,197.81 L219.44,197.92 L220.35,197.67 L221.26,198.07 L222.16,197.80 L223.07,197.97 L223.97,197.88 L224.88,198.05 L225.79,198.13 L226.69,197.94 L227.60,198.33 L228.50,198.15 L229.41,198.22 L230.32,198.28 L231.22,198.21 L232.13,198.20 L233.03,198.37 L233.94,198.36 L234.85,198.26 L235.75,198.45 L236.66,198.30 L237.57,198.20 L238.47,198.30 L239.38,198.23 L240.28,198.28 L241.19,198.53 L242.10,198.39 L243.00,198.59 L243.91,198.53 L244.81,198.25 L245.72,198.62 L246.63,198.60 L247.53,198.25 L248.44,198.57 L249.34,198.37 L250.25,198.38 L251.16,198.56 L252.06,198.26 L252.97,198.35 L253.88,198.50 L254.78,198.40 L255.69,198.28 L256.59,198.47 L257.50,198.38" stroke="#a29480" stroke-width="0.95" fill="none"/>
<path d="M168.70,196.84 L169.61,196.95 L170.51,196.76 L171.42,196.37 L172.32,196.56 L173.23,196.73 L174.14,196.66 L175.04,196.68 L175.95,196.53 L176.86,196.79 L177.76,196.44 L178.67,196.40 L179.57,196.86" stroke="#273040" stroke-width="1.4578610069899922" fill="none"/>
<path d="M218.54,197.58 L219.44,198.10 L220.35,197.75 L221.26,198.23 L222.16,197.63 L223.07,197.92 L223.97,197.74 L224.88,198.24 L225.79,198.05 L226.69,198.04 L227.60,198.62 L228.50,198.05 L229.41,198.25 L230.32,198.43 L231.22,198.46 L232.13,198.16 L233.03,198.30 L233.94,198.11 L234.85,198.49 L235.75,198.20" stroke="#273040" stroke-width="1.0415107139646576" fill="none"/>
<path d="M168.70,196.52 L169.61,196.69 L170.51,196.61 L171.42,196.39 L172.32,196.63 L173.23,196.44 L174.14,196.66 L175.04,196.80 L175.95,196.48 L176.86,196.84 L177.76,196.67 L178.67,196.36 L179.57,196.73 L180.48,196.80 L181.39,196.30 L182.29,196.27 L183.20,196.31 L184.10,196.44 L185.01,196.52 L185.92,196.58 L186.82,196.54 L187.73,196.76 L188.63,196.33 L189.54,196.48 L190.45,196.92 L191.35,196.41 L192.26,196.30 L193.17,196.85 L194.07,196.94 L194.98,196.46 L195.88,196.76" stroke="#273040" stroke-width="1.0719389695579165" fill="none"/>
<path d="M187.73,196.41 L188.63,196.75 L189.54,196.46" stroke="#273040" stroke-width="1.3823546523566175" fill="none"/>
<path d="M213.10,197.97 L214.01,197.68" stroke="#273040" stroke-width="1.24683097931758" fill="none"/>
<path d="M183.20,196.55 L184.10,196.36 L185.01,196.67" stroke="#273040" stroke-width="1.3333682132853766" fill="none"/>
<path d="M243.00,198.68 L243.91,198.55 L244.81,198.38 L245.72,198.80 L246.63,198.55" stroke="#273040" stroke-width="1.2102283124460371" fill="none"/>
<path d="M168.70,196.90L172.20,197.10" stroke="#1d2330" stroke-width="2.0" fill="none"/>
<line x1="236.50" y1="194.22" x2="236.50" y2="200.82" stroke="#dd3b45" stroke-width="1.0"/>
<path d="M242.70,194.90V199.60" stroke="#262830" stroke-width="1.3" fill="none"/>
<path d="M168.70,199.40V204.60" stroke="#1d2330" stroke-width="1.3" fill="none"/>
<path d="M168.70,202.50 L169.61,202.62 L170.51,202.41 L171.42,202.35 L172.33,202.39 L173.23,202.50 L174.14,202.47 L175.05,202.76 L175.95,202.41 L176.86,202.53 L177.77,202.47 L178.67,202.70 L179.58,202.76 L180.49,202.53 L181.39,202.49 L182.30,202.66 L183.20,202.72 L184.11,202.85 L185.02,202.51 L185.92,202.54 L186.83,202.57 L187.74,202.58 L188.64,202.58 L189.55,202.77 L190.46,202.72 L191.36,202.56 L192.27,202.54 L193.18,202.56 L194.08,202.51 L194.99,202.73 L195.90,202.54 L196.80,202.62 L197.71,202.71 L198.62,202.56 L199.52,202.46 L200.43,202.69 L201.34,202.68 L202.24,202.43 L203.15,202.50 L204.06,202.64 L204.96,202.43 L205.87,202.30 L206.77,202.21 L207.68,202.55 L208.59,202.47 L209.49,202.28 L210.40,202.32 L211.31,202.29 L212.21,202.18 L213.12,202.44 L214.03,202.29 L214.93,202.10 L215.84,201.99 L216.75,202.16 L217.65,202.10 L218.56,202.25 L219.47,202.20 L220.37,202.14 L221.28,201.95 L222.19,201.94 L223.09,201.99 L224.00,201.95 L224.91,202.19 L225.81,202.04 L226.72,202.08 L227.63,202.22 L228.53,201.92 L229.44,202.02 L230.34,201.87 L231.25,202.12 L232.16,201.81 L233.06,202.14 L233.97,202.16 L234.88,202.15 L235.78,201.86 L236.69,201.95 L237.60,202.14 L238.50,201.90 L239.41,202.07 L240.32,202.08 L241.22,202.29 L242.13,202.16 L243.04,202.29 L243.94,202.09 L244.85,202.31 L245.76,202.18 L246.66,202.41 L247.57,202.11 L248.48,202.43 L249.38,202.21 L250.29,202.38 L251.20,202.40 L252.10,202.29 L253.01,202.59 L253.91,202.42 L254.82,202.45 L255.73,202.39 L256.63,202.52 L257.54,202.63 L258.45,202.76 L259.35,202.66 L260.26,202.83 L261.17,202.64 L262.07,202.79 L262.98,202.86 L263.89,203.10 L264.79,203.09 L265.70,203.06" stroke="#a29480" stroke-width="0.95" fill="none"/>
<path d="M168.70,202.60 L169.61,202.48 L170.51,202.23 L171.42,202.49 L172.33,202.29 L173.23,202.77 L174.14,202.51 L175.05,202.89 L175.95,202.31" stroke="#273040" stroke-width="1.4134425125361907" fill="none"/>
<path d="M220.37,202.04 L221.28,201.90 L222.19,201.65 L223.09,201.93 L224.00,202.07 L224.91,202.48 L225.81,202.21 L226.72,202.17 L227.63,202.28 L228.53,201.63 L229.44,201.92 L230.34,201.77 L231.25,202.21 L232.16,201.57 L233.06,202.07 L233.97,202.16 L234.88,202.32 L235.78,202.06 L236.69,202.01 L237.60,201.93 L238.50,202.06 L239.41,202.31" stroke="#273040" stroke-width="1.274126862115842" fill="none"/>
<path d="M168.70,202.52 L169.61,202.66 L170.51,202.44 L171.42,202.21 L172.33,202.63 L173.23,202.79 L174.14,202.66 L175.05,202.82 L175.95,202.19 L176.86,202.72 L177.77,202.34 L178.67,202.93 L179.58,202.60 L180.49,202.58 L181.39,202.69 L182.30,202.47 L183.20,202.75 L184.11,202.60 L185.02,202.22 L185.92,202.34 L186.83,202.86 L187.74,202.84 L188.64,202.68 L189.55,202.65" stroke="#273040" stroke-width="1.335617292103771" fill="none"/>
<path d="M210.40,202.50 L211.31,202.00 L212.21,202.00" stroke="#273040" stroke-width="1.2340119296053842" fill="none"/>
<path d="M198.62,202.37 L199.52,202.47 L200.43,202.55" stroke="#273040" stroke-width="1.284017119302254" fill="none"/>
<path d="M216.75,201.88 L217.65,202.20" stroke="#273040" stroke-width="1.072373622667707" fill="none"/>
<path d="M249.38,202.41 L250.29,202.59 L251.20,202.35 L252.10,202.25 L253.01,202.63 L253.91,202.66 L254.82,202.47 L255.73,202.41 L256.63,202.48 L257.54,202.87" stroke="#273040" stroke-width="1.1603451926531514" fill="none"/>
<path d="M168.70,202.70L172.20,202.90" stroke="#1d2330" stroke-width="2.0" fill="none"/>
<line x1="241.20" y1="199.85" x2="241.20" y2="206.45" stroke="#dd3b45" stroke-width="1.0"/>
<path d="M249.20,202.60V205.50" stroke="#262830" stroke-width="1.8" fill="none"/>
<path d="M168.70,207.40V212.60" stroke="#1d2330" stroke-width="1.3" fill="none"/>
<path d="M168.70,210.49 L169.61,210.60 L170.52,210.57 L171.42,210.55 L172.33,210.65 L173.24,210.51 L174.15,210.66 L175.05,210.49 L175.96,210.54 L176.87,210.70 L177.78,210.75 L178.68,210.74 L179.59,210.63 L180.50,210.92 L181.41,210.87 L182.31,210.78 L183.22,210.83 L184.13,210.89 L185.04,210.85 L185.94,210.80 L186.85,211.15 L187.76,211.19 L188.67,211.08 L189.58,211.17 L190.48,211.00 L191.39,211.17 L192.30,210.94 L193.21,211.15 L194.11,211.09 L195.02,211.22 L195.93,210.90 L196.84,211.18 L197.74,210.91 L198.65,211.07 L199.56,211.23 L200.47,210.84 L201.37,210.93 L202.28,210.94 L203.19,210.94 L204.10,210.82 L205.00,211.14 L205.91,211.09 L206.82,210.91 L207.73,210.88 L208.64,210.95 L209.54,210.72 L210.45,210.69 L211.36,211.02 L212.27,210.76 L213.17,210.82 L214.08,210.97 L214.99,210.97 L215.90,210.74 L216.80,210.62 L217.71,210.63 L218.62,210.86 L219.53,210.83 L220.43,210.52 L221.34,210.76 L222.25,210.55 L223.16,210.57 L224.06,210.43 L224.97,210.70 L225.88,210.72 L226.79,210.39 L227.70,210.54 L228.60,210.35 L229.51,210.61 L230.42,210.27 L231.33,210.28 L232.23,210.51 L233.14,210.34 L234.05,210.56 L234.96,210.54 L235.86,210.47 L236.77,210.24 L237.68,210.46 L238.59,210.55 L239.49,210.35 L240.40,210.21 L241.31,210.27 L242.22,210.31 L243.12,210.47 L244.03,210.28 L244.94,210.28 L245.85,210.31 L246.76,210.50 L247.66,210.56 L248.57,210.41 L249.48,210.54 L250.39,210.65 L251.29,210.55 L252.20,210.43 L253.11,210.48 L254.02,210.76 L254.92,210.68 L255.83,210.55 L256.74,210.73 L257.65,210.54 L258.55,210.93 L259.46,210.74 L260.37,210.81 L261.28,210.85 L262.18,210.69 L263.09,210.95 L264.00,210.86" stroke="#a29480" stroke-width="0.95" fill="none"/>
<path d="M168.70,210.58 L169.61,210.51 L170.52,210.67 L171.42,210.72 L172.33,210.66 L173.24,210.51 L174.15,210.87 L175.05,210.60 L175.96,210.55 L176.87,210.97 L177.78,210.56" stroke="#273040" stroke-width="1.389827101570493" fill="none"/>
<path d="M224.06,210.49 L224.97,210.83 L225.88,210.77 L226.79,210.61 L227.70,210.35 L228.60,210.14 L229.51,210.32 L230.42,210.26 L231.33,210.24 L232.23,210.48 L233.14,210.19 L234.05,210.74" stroke="#273040" stroke-width="1.0362679254795937" fill="none"/>
<path d="M168.70,210.48 L169.61,210.76 L170.52,210.86 L171.42,210.34 L172.33,210.63 L173.24,210.66 L174.15,210.38 L175.05,210.33 L175.96,210.77 L176.87,210.49 L177.78,210.69 L178.68,210.62 L179.59,210.59 L180.50,210.66 L181.41,210.59 L182.31,211.08 L183.22,210.99 L184.13,211.03 L185.04,210.68 L185.94,210.65 L186.85,211.18 L187.76,211.03 L188.67,211.06 L189.58,211.43 L190.48,210.92 L191.39,211.07" stroke="#273040" stroke-width="1.4906246882794902" fill="none"/>
<path d="M202.28,210.67 L203.19,210.84 L204.10,210.94" stroke="#273040" stroke-width="1.4322119276390204" fill="none"/>
<path d="M198.65,211.00 L199.56,211.43 L200.47,210.77" stroke="#273040" stroke-width="1.3906725907670328" fill="none"/>
<path d="M250.39,210.63 L251.29,210.44 L252.20,210.40 L253.11,210.78 L254.02,210.87 L254.92,210.90 L255.83,210.37" stroke="#273040" stroke-width="1.1914803438603068" fill="none"/>
<path d="M168.70,210.70L172.20,210.90" stroke="#1d2330" stroke-width="2.0" fill="none"/>
<line x1="236.50" y1="207.81" x2="236.50" y2="214.41" stroke="#dd3b45" stroke-width="1.0"/>
<path d="M249.80,209.00V212.60" stroke="#262830" stroke-width="1.8" fill="none"/>
<path d="M169.90,215.60Q168.30,216.80 168.70,219.30Q168.90,221.40 171.20,221.20" stroke="#1d2330" stroke-width="1.3" fill="none"/>
<path d="M168.70,218.88 L169.61,219.12 L170.51,219.45 L171.42,219.68 L172.33,220.04 L173.23,220.31 L174.14,220.55 L175.04,220.89 L175.95,220.86 L176.86,220.67 L177.76,220.64 L178.67,220.42 L179.58,220.54 L180.48,220.08 L181.39,219.97 L182.30,219.66 L183.20,219.62 L184.11,219.29 L185.01,219.44 L185.92,219.48 L186.83,219.38 L187.73,219.72 L188.64,219.51 L189.55,219.71 L190.45,219.62 L191.36,219.44 L192.27,219.58 L193.17,219.53 L194.08,219.45 L194.99,219.50 L195.89,219.68 L196.80,219.45 L197.70,219.56 L198.61,219.60 L199.52,219.64 L200.42,219.47 L201.33,219.69 L202.24,219.51 L203.14,219.68 L204.05,219.65 L204.96,219.43 L205.86,219.44 L206.77,219.45 L207.67,219.61 L208.58,219.48 L209.49,219.45 L210.39,219.63 L211.30,219.36 L212.21,219.37 L213.11,219.38 L214.02,219.31 L214.93,219.23 L215.83,219.21 L216.74,219.44 L217.64,219.40 L218.55,219.49 L219.46,219.54 L220.36,219.26 L221.27,219.41 L222.18,219.50 L223.08,219.21 L223.99,219.40 L224.90,219.39 L225.80,219.50 L226.71,219.47 L227.61,219.22 L228.52,219.38 L229.43,219.17 L230.33,219.32 L231.24,219.31 L232.15,219.19 L233.05,219.34 L233.96,219.33 L234.87,219.42 L235.77,219.35 L236.68,219.33 L237.59,219.45 L238.49,219.51 L239.40,219.41 L240.30,219.64 L241.21,219.51 L242.12,219.48 L243.02,219.62 L243.93,219.69 L244.84,219.62 L245.74,219.84 L246.65,219.93 L247.56,219.91 L248.46,220.02 L249.37,219.80 L250.27,219.99 L251.18,220.03 L252.09,219.96 L252.99,220.15 L253.90,220.06" stroke="#a29480" stroke-width="0.95" fill="none"/>
<path d="M168.70,218.82 L169.61,219.07 L170.51,219.31 L171.42,219.87 L172.33,220.26 L173.23,220.24 L174.14,220.80 L175.04,220.61 L175.95,220.64 L176.86,220.68 L177.76,220.52 L178.67,220.33 L179.58,220.83" stroke="#273040" stroke-width="1.0749281443857184" fill="none"/>
<path d="M168.70,218.90 L169.61,219.06 L170.51,219.29 L171.42,219.67" stroke="#273040" stroke-width="1.325084014852667" fill="none"/>
<path d="M173.23,220.04 L174.14,220.41 L175.04,220.89 L175.95,221.04 L176.86,220.61 L177.76,220.77 L178.67,220.27 L179.58,220.67 L180.48,219.97 L181.39,219.87 L182.30,219.82 L183.20,219.83 L184.11,219.49 L185.01,219.48 L185.92,219.44 L186.83,219.51 L187.73,219.79 L188.64,219.71 L189.55,219.89 L190.45,219.39 L191.36,219.37 L192.27,219.69 L193.17,219.37 L194.08,219.26 L194.99,219.21 L195.89,219.73 L196.80,219.72 L197.70,219.84 L198.61,219.38 L199.52,219.76 L200.42,219.43 L201.33,219.77 L202.24,219.44 L203.14,219.94 L204.05,219.94 L204.96,219.16 L205.86,219.57 L206.77,219.23 L207.67,219.34" stroke="#273040" stroke-width="1.1430205455290643" fill="none"/>
<path d="M220.36,219.16 L221.27,219.12 L222.18,219.52" stroke="#273040" stroke-width="1.2415220632077366" fill="none"/>
<path d="M202.24,219.69 L203.14,219.89" stroke="#273040" stroke-width="1.1418666438150102" fill="none"/>
<path d="M180.48,220.36 L181.39,219.90 L182.30,219.78" stroke="#273040" stroke-width="1.2729741270940393" fill="none"/>
<path d="M242.12,219.20 L243.02,219.66 L243.93,219.48 L244.84,219.70 L245.74,219.70 L246.65,219.77 L247.56,219.90 L248.46,219.94 L249.37,219.65" stroke="#273040" stroke-width="1.025615260569806" fill="none"/>
<path d="M168.70,219.10L172.20,219.30" stroke="#1d2330" stroke-width="2.0" fill="none"/>
<line x1="209.30" y1="216.41" x2="209.30" y2="223.01" stroke="#dd3b45" stroke-width="1.0"/>
<path d="M241.50,217.10V221.80" stroke="#262830" stroke-width="1.4" fill="none"/>
<path d="M169.90,222.80Q168.30,224.00 168.70,226.50Q168.90,228.60 171.20,228.40" stroke="#1d2330" stroke-width="1.3" fill="none"/>
<path d="M168.70,226.16 L169.61,226.27 L170.51,226.52 L171.42,226.87 L172.33,227.26 L173.23,227.69 L174.14,227.54 L175.04,227.90 L175.95,227.78 L176.86,227.72 L177.76,227.78 L178.67,227.46 L179.58,227.11 L180.48,227.05 L181.39,226.80 L182.30,226.48 L183.20,226.20 L184.11,226.47 L185.01,226.44 L185.92,226.49 L186.83,226.27 L187.73,226.42 L188.64,226.37 L189.55,226.14 L190.45,226.07 L191.36,226.11 L192.27,226.08 L193.17,226.04 L194.08,226.14 L194.99,226.27 L195.89,226.08 L196.80,226.13 L197.70,225.91 L198.61,225.96 L199.52,226.23 L200.42,225.82 L201.33,225.99 L202.24,226.07 L203.14,226.03 L204.05,225.98 L204.96,225.81 L205.86,225.93 L206.77,225.90 L207.67,225.84 L208.58,225.89 L209.49,225.50 L210.39,225.80 L211.30,225.54 L212.21,225.62 L213.11,225.40 L214.02,225.62 L214.93,225.23 L215.83,225.41 L216.74,225.24 L217.64,225.26 L218.55,225.22 L219.46,225.30 L220.36,225.33 L221.27,225.12 L222.18,225.19 L223.08,225.05 L223.99,224.99 L224.90,225.21 L225.80,224.95 L226.71,224.84 L227.61,224.91 L228.52,225.05 L229.43,224.82 L230.33,225.02 L231.24,224.92 L232.15,224.96 L233.05,224.75 L233.96,224.71 L234.87,224.72 L235.77,224.80 L236.68,224.83 L237.59,224.66 L238.49,224.86 L239.40,224.82 L240.30,224.79 L241.21,224.89 L242.12,225.06 L243.02,224.77 L243.93,225.06 L244.84,224.85 L245.74,225.04 L246.65,224.79 L247.56,225.17 L248.46,224.96 L249.37,225.20 L250.27,224.92 L251.18,225.02 L252.09,225.17 L252.99,224.99 L253.90,225.05" stroke="#a29480" stroke-width="0.95" fill="none"/>
<path d="M168.70,226.11 L169.61,226.21 L170.51,226.36 L171.42,226.93 L172.33,227.31 L173.23,227.70 L174.14,227.25 L175.04,227.98 L175.95,227.75 L176.86,227.78 L177.76,227.84 L178.67,227.72 L179.58,226.90 L180.48,227.03" stroke="#273040" stroke-width="1.4964358741640362" fill="none"/>
<path d="M168.70,226.34 L169.61,226.07 L170.51,226.44 L171.42,226.63 L172.33,226.98 L173.23,227.60 L174.14,227.75 L175.04,228.10 L175.95,227.55 L176.86,227.53 L177.76,227.71 L178.67,227.67 L179.58,227.18 L180.48,227.29 L181.39,226.54 L182.30,226.77 L183.20,226.02 L184.11,226.54 L185.01,226.66 L185.92,226.63 L186.83,226.08 L187.73,226.52 L188.64,226.33 L189.55,225.85 L190.45,225.97 L191.36,226.00 L192.27,226.15 L193.17,225.91 L194.08,226.20 L194.99,226.39 L195.89,225.88 L196.80,225.91 L197.70,226.02 L198.61,225.94 L199.52,226.01 L200.42,225.59 L201.33,226.26 L202.24,226.14" stroke="#273040" stroke-width="1.178769172382499" fill="none"/>
<path d="M245.74,225.15 L246.65,224.94" stroke="#273040" stroke-width="1.1801620158197301" fill="none"/>
<path d="M192.27,225.86 L193.17,226.12" stroke="#273040" stroke-width="1.212360837961044" fill="none"/>
<path d="M248.46,224.94 L249.37,225.20" stroke="#273040" stroke-width="1.4708273488844095" fill="none"/>
<path d="M244.84,224.95 L245.74,225.01 L246.65,225.05 L247.56,225.10 L248.46,225.11 L249.37,225.26 L250.27,224.89 L251.18,224.76" stroke="#273040" stroke-width="1.209549610813306" fill="none"/>
<path d="M168.70,226.30L172.20,226.50" stroke="#1d2330" stroke-width="2.0" fill="none"/>
<line x1="204.50" y1="222.53" x2="204.50" y2="229.13" stroke="#dd3b45" stroke-width="1.0"/>
<path d="M244.50,223.80V227.40" stroke="#262830" stroke-width="1.2" fill="none"/>
<path d="M169.90,230.80Q168.30,232.00 168.70,234.50Q168.90,236.60 171.20,236.40" stroke="#1d2330" stroke-width="1.3" fill="none"/>
<path d="M168.70,233.98 L169.60,234.50 L170.50,234.55 L171.41,234.99 L172.31,235.22 L173.21,235.24 L174.11,235.45 L175.01,235.41 L175.92,235.72 L176.82,235.40 L177.72,235.34 L178.62,235.13 L179.52,235.08 L180.43,234.81 L181.33,234.39 L182.23,234.04 L183.13,233.67 L184.03,233.97 L184.94,233.62 L185.84,233.71 L186.74,233.69 L187.64,233.80 L188.54,233.75 L189.45,233.60 L190.35,233.79 L191.25,233.79 L192.15,233.39 L193.05,233.61 L193.96,233.52 L194.86,233.45 L195.76,233.46 L196.66,233.38 L197.56,233.49 L198.47,233.44 L199.37,233.56 L200.27,233.54 L201.17,233.52 L202.07,233.26 L202.98,233.41 L203.88,233.32 L204.78,233.32 L205.68,233.43 L206.58,233.04 L207.49,233.18 L208.39,233.14 L209.29,233.23 L210.19,233.04 L211.09,233.34 L212.00,233.02 L212.90,233.08 L213.80,232.99 L214.70,233.08 L215.60,233.22 L216.50,232.96 L217.41,232.99 L218.31,233.19 L219.21,233.19 L220.11,233.24 L221.01,233.06 L221.92,233.29 L222.82,233.27 L223.72,233.30 L224.62,233.06 L225.52,233.21 L226.43,233.05 L227.33,233.41 L228.23,233.47 L229.13,233.47 L230.03,233.15 L230.94,233.31 L231.84,233.41 L232.74,233.44 L233.64,233.30 L234.54,233.60 L235.45,233.44 L236.35,233.56 L237.25,233.44 L238.15,233.65 L239.05,233.51 L239.96,233.54 L240.86,233.74 L241.76,233.69 L242.66,233.92 L243.56,233.75 L244.47,233.86 L245.37,233.75 L246.27,233.85 L247.17,233.99 L248.07,234.07 L248.98,234.07 L249.88,234.26 L250.78,234.00 L251.68,234.33 L252.58,234.09 L253.49,234.45 L254.39,234.31 L255.29,234.29 L256.19,234.41 L257.09,234.54 L258.00,234.61 L258.90,234.41 L259.80,234.28" stroke="#a29480" stroke-width="0.95" fill="none"/>
<path d="M168.70,233.87 L169.60,234.50 L170.50,234.64 L171.41,235.22 L172.31,235.49 L173.21,235.28 L174.11,235.45 L175.01,235.65 L175.92,235.66 L176.82,235.28" stroke="#273040" stroke-width="1.369662953912345" fill="none"/>
<path d="M198.47,233.20 L199.37,233.49 L200.27,233.43 L201.17,233.51 L202.07,233.10 L202.98,233.56 L203.88,233.32 L204.78,233.03 L205.68,233.37 L206.58,233.32 L207.49,232.88 L208.39,233.20 L209.29,233.51 L210.19,232.96" stroke="#273040" stroke-width="1.299028969160452" fill="none"/>
<path d="M241.76,233.75 L242.66,233.81 L243.56,233.75" stroke="#273040" stroke-width="1.2580954088213288" fill="none"/>
<path d="M233.64,233.06 L234.54,233.46" stroke="#273040" stroke-width="1.13506016436105" fill="none"/>
<path d="M219.21,233.40 L220.11,233.18" stroke="#273040" stroke-width="1.1428856498457718" fill="none"/>
<path d="M248.98,233.96 L249.88,234.45 L250.78,234.17 L251.68,234.42 L252.58,233.82" stroke="#273040" stroke-width="1.3817906472471742" fill="none"/>
<path d="M168.70,234.30L172.20,234.50" stroke="#1d2330" stroke-width="2.0" fill="none"/>
<line x1="212.20" y1="230.99" x2="212.20" y2="237.59" stroke="#dd3b45" stroke-width="1.0"/>
<path d="M248.60,231.90V236.00" stroke="#262830" stroke-width="1.6" fill="none"/>
<path d="M169.90,239.40Q168.30,240.60 168.70,243.10Q168.90,245.20 171.20,245.00" stroke="#1d2330" stroke-width="1.3" fill="none"/>
<path d="M168.70,242.65 L169.60,242.97 L170.51,243.46 L171.41,243.66 L172.32,243.69 L173.22,244.28 L174.13,244.38 L175.03,244.41 L175.94,244.22 L176.84,244.49 L177.75,244.27 L178.65,244.23 L179.56,244.14 L180.46,243.87 L181.37,243.25 L182.27,243.23 L183.18,242.95 L184.08,243.09 L184.99,242.95 L185.89,242.99 L186.80,242.99 L187.70,242.87 L188.61,242.95 L189.51,243.12 L190.42,242.86 L191.32,242.87 L192.23,243.16 L193.13,243.09 L194.04,243.03 L194.94,242.85 L195.85,242.84 L196.75,242.91 L197.66,243.15 L198.56,242.98 L199.47,243.11 L200.37,242.81 L201.28,242.87 L202.18,242.90 L203.09,243.00 L203.99,242.69 L204.90,242.96 L205.80,242.78 L206.71,242.58 L207.61,242.71 L208.52,242.66 L209.42,242.75 L210.33,242.82 L211.23,242.62 L212.14,242.66 L213.04,242.51 L213.95,242.64 L214.85,242.33 L215.75,242.56 L216.66,242.29 L217.56,242.43 L218.47,242.24 L219.37,242.27 L220.28,242.16 L221.18,242.21 L222.09,242.27 L222.99,242.21 L223.90,242.13 L224.80,242.18 L225.71,242.26 L226.61,242.04 L227.52,242.10 L228.42,242.03 L229.33,242.21 L230.23,241.93 L231.14,242.05 L232.04,241.85 L232.95,241.84 L233.85,242.01 L234.76,241.93 L235.66,241.79 L236.57,241.70 L237.47,241.99 L238.38,241.80 L239.28,241.93 L240.19,241.81 L241.09,241.88 L242.00,241.85 L242.90,242.02 L243.81,241.99 L244.71,241.82 L245.62,241.83 L246.52,241.74 L247.43,241.95 L248.33,241.70 L249.24,241.79 L250.14,242.02 L251.05,241.71 L251.95,241.99 L252.86,241.96 L253.76,241.97 L254.67,241.90 L255.57,241.85 L256.48,242.19 L257.38,242.14 L258.29,242.19 L259.19,241.93 L260.10,242.23 L261.00,242.03" stroke="#a29480" stroke-width="0.95" fill="none"/>
<path d="M168.70,242.67 L169.60,242.83 L170.51,243.34 L171.41,243.51 L172.32,243.47 L173.22,244.27 L174.13,244.24 L175.03,244.29 L175.94,244.09" stroke="#273040" stroke-width="1.2546028724021259" fill="none"/>
<path d="M168.70,242.69 L169.60,243.26 L170.51,243.58 L171.41,243.87 L172.32,243.86 L173.22,244.29 L174.13,244.12 L175.03,244.43 L175.94,244.04 L176.84,244.51 L177.75,244.18 L178.65,244.22 L179.56,243.96 L180.46,243.99 L181.37,243.20 L182.27,243.22 L183.18,242.70 L184.08,243.08 L184.99,242.99 L185.89,243.27 L186.80,243.03 L187.70,242.65 L188.61,242.84 L189.51,243.02 L190.42,242.98 L191.32,243.14 L192.23,243.44 L193.13,243.36 L194.04,243.29 L194.94,243.07 L195.85,243.10 L196.75,242.62 L197.66,243.15 L198.56,243.04 L199.47,243.22 L200.37,242.88 L201.28,242.94 L202.18,243.16 L203.09,242.75" stroke="#273040" stroke-width="1.259623110879694" fill="none"/>
<path d="M204.90,242.68 L205.80,242.98 L206.71,242.69 L207.61,242.72 L208.52,242.71" stroke="#273040" stroke-width="1.3786878946082661" fill="none"/>
<path d="M210.33,242.53 L211.23,242.78 L212.14,242.52 L213.04,242.56 L213.95,242.65 L214.85,242.24 L215.75,242.66 L216.66,242.27 L217.56,242.27" stroke="#273040" stroke-width="1.4409337208203874" fill="none"/>
<path d="M220.28,242.33 L221.18,242.11 L222.09,242.12 L222.99,242.31" stroke="#273040" stroke-width="1.1301220677626085" fill="none"/>
<path d="M188.61,242.79 L189.51,243.00 L190.42,242.76 L191.32,243.01" stroke="#273040" stroke-width="1.3370638751777042" fill="none"/>
<path d="M223.90,241.98 L224.80,242.01 L225.71,242.21 L226.61,242.33" stroke="#273040" stroke-width="1.1853675084924522" fill="none"/>
<path d="M246.52,241.61 L247.43,242.01 L248.33,241.85 L249.24,241.78 L250.14,242.21 L251.05,241.42 L251.95,241.99 L252.86,241.89 L253.76,241.71 L254.67,242.15" stroke="#273040" stroke-width="1.0717338549630522" fill="none"/>
<path d="M168.70,242.90L172.20,243.10" stroke="#1d2330" stroke-width="2.0" fill="none"/>
<line x1="219.40" y1="239.30" x2="219.40" y2="245.90" stroke="#dd3b45" stroke-width="1.0"/>
<path d="M246.30,240.00V242.50" stroke="#262830" stroke-width="1.2" fill="none"/>
<path d="M169.90,246.20Q168.30,247.40 168.70,249.90Q168.90,252.00 171.20,251.80" stroke="#1d2330" stroke-width="1.3" fill="none"/>
<path d="M168.70,249.55 L169.61,249.91 L170.52,250.21 L171.42,250.25 L172.33,250.73 L173.24,250.60 L174.15,250.96 L175.06,251.13 L175.96,250.83 L176.87,250.74 L177.78,250.82 L178.69,250.71 L179.60,250.40 L180.50,250.20 L181.41,249.68 L182.32,249.30 L183.23,249.04 L184.13,249.07 L185.04,249.31 L185.95,248.93 L186.86,248.95 L187.77,248.98 L188.67,248.83 L189.58,248.89 L190.49,248.81 L191.40,248.75 L192.31,248.87 L193.21,248.84 L194.12,248.81 L195.03,248.85 L195.94,248.71 L196.85,248.84 L197.75,248.45 L198.66,248.46 L199.57,248.36 L200.48,248.41 L201.39,248.55 L202.29,248.57 L203.20,248.36 L204.11,248.18 L205.02,248.21 L205.92,248.26 L206.83,248.11 L207.74,248.27 L208.65,248.31 L209.56,248.06 L210.46,248.08 L211.37,248.14 L212.28,247.96 L213.19,247.81 L214.10,248.08 L215.00,248.06 L215.91,247.65 L216.82,247.92 L217.73,247.74 L218.64,247.58 L219.54,247.60 L220.45,247.58 L221.36,247.78 L222.27,247.56 L223.18,247.46 L224.08,247.53 L224.99,247.74 L225.90,247.61 L226.81,247.66 L227.71,247.58 L228.62,247.46 L229.53,247.39 L230.44,247.50 L231.35,247.39 L232.25,247.48 L233.16,247.62 L234.07,247.53 L234.98,247.57 L235.89,247.64 L236.79,247.52 L237.70,247.55 L238.61,247.77 L239.52,247.66 L240.43,247.61 L241.33,247.67 L242.24,247.66 L243.15,247.62 L244.06,247.87 L244.97,247.62 L245.87,247.92 L246.78,247.91 L247.69,247.94 L248.60,247.67 L249.50,247.84 L250.41,248.05 L251.32,247.79 L252.23,247.77 L253.14,248.01 L254.04,247.84 L254.95,248.00 L255.86,247.85 L256.77,248.19 L257.68,247.95 L258.58,247.89 L259.49,248.15 L260.40,248.03" stroke="#a29480" stroke-width="0.95" fill="none"/>
<path d="M168.70,249.75 L169.61,250.09 L170.52,250.06 L171.42,250.49 L172.33,250.73 L173.24,250.56 L174.15,251.00 L175.06,251.39 L175.96,250.82 L176.87,250.73 L177.78,250.70 L178.69,250.92 L179.60,250.40" stroke="#273040" stroke-width="1.171241678023042" fill="none"/>
<path d="M168.70,249.56 L169.61,249.81 L170.52,250.38 L171.42,250.32 L172.33,250.97 L173.24,250.86 L174.15,251.05 L175.06,250.86 L175.96,250.93 L176.87,250.50 L177.78,251.11 L178.69,250.93 L179.60,250.29 L180.50,250.01 L181.41,249.80 L182.32,249.46" stroke="#273040" stroke-width="1.4925115321134916" fill="none"/>
<path d="M184.13,248.87 L185.04,249.49 L185.95,248.77 L186.86,249.04 L187.77,249.15 L188.67,248.94 L189.58,248.90 L190.49,248.70 L191.40,248.61 L192.31,248.68 L193.21,248.93 L194.12,248.92 L195.03,249.11 L195.94,248.61" stroke="#273040" stroke-width="1.4635546730991138" fill="none"/>
<path d="M197.75,248.67 L198.66,248.48 L199.57,248.35 L200.48,248.56 L201.39,248.40 L202.29,248.39 L203.20,248.41 L204.11,248.03 L205.02,248.11 L205.92,248.01" stroke="#273040" stroke-width="1.0260848885725748" fill="none"/>
<path d="M207.74,248.26 L208.65,248.58 L209.56,247.84 L210.46,248.04 L211.37,248.25 L212.28,248.11 L213.19,247.84" stroke="#273040" stroke-width="1.320582274066995" fill="none"/>
<path d="M217.73,248.04 L218.64,247.60 L219.54,247.41 L220.45,247.74" stroke="#273040" stroke-width="1.0284798987776567" fill="none"/>
<path d="M218.64,247.71 L219.54,247.74 L220.45,247.47" stroke="#273040" stroke-width="1.3834755562144985" fill="none"/>
<path d="M179.60,250.36 L180.50,249.97 L181.41,249.66" stroke="#273040" stroke-width="1.4773437315696047" fill="none"/>
<path d="M246.78,247.87 L247.69,247.72 L248.60,247.63 L249.50,247.88 L250.41,248.19" stroke="#273040" stroke-width="1.2015109651345655" fill="none"/>
<path d="M168.70,249.70L172.20,249.90" stroke="#1d2330" stroke-width="2.0" fill="none"/>
<line x1="215.40" y1="245.59" x2="215.40" y2="252.19" stroke="#dd3b45" stroke-width="1.0"/>
<path d="M245.90,247.20V250.70" stroke="#262830" stroke-width="1.5" fill="none"/>
<path d="M168.70,260.40V265.60" stroke="#1d2330" stroke-width="1.3" fill="none"/>
<path d="M168.70,263.47 L169.60,263.43 L170.51,263.18 L171.41,263.42 L172.32,263.17 L173.22,263.13 L174.13,263.28 L175.03,263.09 L175.94,263.10 L176.84,263.21 L177.75,263.23 L178.65,263.08 L179.56,263.42 L180.46,263.37 L181.37,263.22 L182.27,263.26 L183.18,263.15 L184.08,263.42 L184.98,263.08 L185.89,263.16 L186.79,263.13 L187.70,263.40 L188.60,263.27 L189.51,263.24 L190.41,263.25 L191.32,263.46 L192.22,263.22 L193.13,263.45 L194.03,263.44 L194.94,263.36 L195.84,263.34 L196.75,263.40 L197.65,263.43 L198.56,263.40 L199.46,263.54 L200.37,263.49 L201.27,263.47 L202.17,263.69 L203.08,263.59 L203.98,263.63 L204.89,263.82 L205.79,263.68 L206.70,263.68 L207.60,263.92 L208.51,263.98 L209.41,263.94 L210.32,263.82 L211.22,263.96 L212.13,264.02 L213.03,263.87 L213.94,264.07 L214.84,264.19 L215.75,264.11 L216.65,264.14 L217.55,264.08 L218.46,264.20 L219.36,264.05 L220.27,264.30 L221.17,264.23 L222.08,264.43 L222.98,264.20 L223.89,264.38 L224.79,264.12 L225.70,264.30 L226.60,264.46 L227.51,264.28 L228.41,264.44 L229.32,264.30 L230.22,264.38 L231.13,264.63 L232.03,264.33 L232.93,264.62 L233.84,264.29 L234.74,264.51 L235.65,264.61 L236.55,264.62 L237.46,264.44 L238.36,264.52 L239.27,264.57 L240.17,264.58 L241.08,264.57 L241.98,264.50 L242.89,264.36 L243.79,264.54 L244.70,264.47 L245.60,264.45 L246.51,264.61 L247.41,264.26 L248.32,264.50 L249.22,264.30 L250.12,264.44 L251.03,264.51 L251.93,264.22 L252.84,264.31 L253.74,264.27 L254.65,264.24 L255.55,264.08 L256.46,264.24 L257.36,264.32 L258.27,264.20 L259.17,264.02 L260.08,264.20 L260.98,264.02 L261.89,263.88 L262.79,264.03 L263.70,263.94 L264.60,263.94" stroke="#a29480" stroke-width="0.95" fill="none"/>
<path d="M168.70,263.40 L169.60,263.52 L170.51,262.97 L171.41,263.31 L172.32,263.40 L173.22,263.39" stroke="#273040" stroke-width="1.1248637557276524" fill="none"/>
<path d="M175.03,263.28 L175.94,263.31 L176.84,263.04 L177.75,263.36 L178.65,263.20 L179.56,263.32 L180.46,263.60 L181.37,263.05" stroke="#273040" stroke-width="1.23695861436903" fill="none"/>
<path d="M168.70,263.59 L169.60,263.23 L170.51,263.04 L171.41,263.52 L172.32,263.29 L173.22,263.02 L174.13,263.26 L175.03,262.96 L175.94,263.13 L176.84,263.13 L177.75,263.15 L178.65,262.93 L179.56,263.29 L180.46,263.23 L181.37,262.93 L182.27,263.15 L183.18,263.21 L184.08,263.28 L184.98,262.85 L185.89,263.37 L186.79,263.12 L187.70,263.41 L188.60,263.15 L189.51,263.47 L190.41,263.40 L191.32,263.53 L192.22,263.32 L193.13,263.57 L194.03,263.44 L194.94,263.30 L195.84,263.28 L196.75,263.40 L197.65,263.41 L198.56,263.41 L199.46,263.56 L200.37,263.66 L201.27,263.71 L202.17,263.52 L203.08,263.30 L203.98,263.51 L204.89,263.54" stroke="#273040" stroke-width="1.3981864751847255" fill="none"/>
<path d="M206.70,263.47 L207.60,263.85 L208.51,264.07 L209.41,263.70 L210.32,263.85 L211.22,264.22 L212.13,263.98 L213.03,264.03 L213.94,264.13 L214.84,264.24 L215.75,263.91 L216.65,264.12 L217.55,264.32 L218.46,264.30 L219.36,263.88 L220.27,264.27 L221.17,264.26 L222.08,264.34 L222.98,264.25 L223.89,264.45 L224.79,263.83 L225.70,264.13 L226.60,264.56 L227.51,264.11 L228.41,264.18 L229.32,264.45" stroke="#273040" stroke-width="1.1669350682841582" fill="none"/>
<path d="M231.13,264.82 L232.03,264.46 L232.93,264.78 L233.84,264.02 L234.74,264.23" stroke="#273040" stroke-width="1.3989358161226813" fill="none"/>
<path d="M224.79,264.40 L225.70,264.19 L226.60,264.32 L227.51,264.47 L228.41,264.25" stroke="#273040" stroke-width="1.3175614480494477" fill="none"/>
<path d="M207.60,263.85 L208.51,264.18 L209.41,263.79 L210.32,263.95" stroke="#273040" stroke-width="1.0926335022426263" fill="none"/>
<path d="M184.98,262.95 L185.89,263.41 L186.79,263.24" stroke="#273040" stroke-width="1.0329496720869913" fill="none"/>
<path d="M253.74,264.20 L254.65,264.37 L255.55,264.08 L256.46,263.97 L257.36,264.31 L258.27,264.13 L259.17,264.04 L260.08,263.93" stroke="#273040" stroke-width="1.0139626464238887" fill="none"/>
<path d="M168.70,263.70L172.20,263.90" stroke="#1d2330" stroke-width="2.0" fill="none"/>
<line x1="236.30" y1="260.17" x2="236.30" y2="266.77" stroke="#dd3b45" stroke-width="1.0"/>
<path d="M253.30,262.00V266.80" stroke="#262830" stroke-width="2.0" fill="none"/>
<path d="M168.70,266.60V271.80" stroke="#1d2330" stroke-width="1.3" fill="none"/>
<path d="M168.70,269.55 L169.61,269.56 L170.51,269.52 L171.42,269.73 L172.33,269.89 L173.23,269.63 L174.14,269.79 L175.04,269.82 L175.95,269.96 L176.86,269.91 L177.76,269.81 L178.67,269.82 L179.58,270.07 L180.48,269.84 L181.39,270.19 L182.30,269.88 L183.20,269.98 L184.11,270.12 L185.02,270.30 L185.92,270.23 L186.83,270.31 L187.73,270.34 L188.64,270.35 L189.55,270.11 L190.45,270.44 L191.36,270.19 L192.27,270.22 L193.17,270.19 L194.08,270.20 L194.99,270.56 L195.89,270.38 L196.80,270.27 L197.71,270.27 L198.61,270.60 L199.52,270.51 L200.42,270.65 L201.33,270.30 L202.24,270.34 L203.14,270.41 L204.05,270.37 L204.96,270.34 L205.86,270.38 L206.77,270.55 L207.68,270.36 L208.58,270.35 L209.49,270.49 L210.40,270.42 L211.30,270.32 L212.21,270.48 L213.11,270.44 L214.02,270.38 L214.93,270.40 L215.83,270.21 L216.74,270.42 L217.65,270.23 L218.55,270.27 L219.46,270.12 L220.37,270.45 L221.27,270.31 L222.18,270.20 L223.09,270.24 L223.99,270.37 L224.90,270.03 L225.80,270.10 L226.71,270.20 L227.62,270.04 L228.52,270.15 L229.43,270.20 L230.34,269.82 L231.24,269.89 L232.15,269.87 L233.06,270.02 L233.96,270.01 L234.87,269.95 L235.78,270.01 L236.68,269.69 L237.59,269.74 L238.49,269.90 L239.40,269.84 L240.31,269.55 L241.21,269.87 L242.12,269.75 L243.03,269.78 L243.93,269.55 L244.84,269.63 L245.75,269.75 L246.65,269.71 L247.56,269.56 L248.47,269.67 L249.37,269.70 L250.28,269.62 L251.18,269.53 L252.09,269.64 L253.00,269.30 L253.90,269.40 L254.81,269.45 L255.72,269.27 L256.62,269.53 L257.53,269.24 L258.44,269.46 L259.34,269.32 L260.25,269.34 L261.16,269.46 L262.06,269.29 L262.97,269.40 L263.87,269.57 L264.78,269.63 L265.69,269.35 L266.59,269.41 L267.50,269.55" stroke="#a29480" stroke-width="0.95" fill="none"/>
<path d="M168.70,269.50 L169.61,269.45 L170.51,269.46 L171.42,269.62 L172.33,270.03 L173.23,269.61 L174.14,269.90 L175.04,269.61 L175.95,270.13 L176.86,270.19 L177.76,269.63" stroke="#273040" stroke-width="1.3082921117506436" fill="none"/>
<path d="M168.70,269.52 L169.61,269.76 L170.51,269.63 L171.42,269.76 L172.33,270.10 L173.23,269.55 L174.14,269.55 L175.04,269.90 L175.95,269.67 L176.86,269.75" stroke="#273040" stroke-width="1.0148979894305379" fill="none"/>
<path d="M178.67,269.81 L179.58,269.93 L180.48,269.90 L181.39,270.19 L182.30,269.89 L183.20,269.71 L184.11,269.90 L185.02,270.36 L185.92,270.34 L186.83,270.61 L187.73,270.52 L188.64,270.23 L189.55,270.08 L190.45,270.44 L191.36,270.37 L192.27,270.15 L193.17,270.44 L194.08,270.19 L194.99,270.50 L195.89,270.36" stroke="#273040" stroke-width="1.1786751005079859" fill="none"/>
<path d="M197.71,270.50 L198.61,270.59 L199.52,270.29 L200.42,270.43 L201.33,270.54 L202.24,270.49 L203.14,270.15 L204.05,270.48 L204.96,270.17 L205.86,270.35 L206.77,270.61 L207.68,270.09 L208.58,270.61 L209.49,270.39 L210.40,270.21" stroke="#273040" stroke-width="1.3901095653890314" fill="none"/>
<path d="M212.21,270.51 L213.11,270.71 L214.02,270.60 L214.93,270.25 L215.83,270.24 L216.74,270.31 L217.65,270.03 L218.55,270.42 L219.46,270.28 L220.37,270.35 L221.27,270.26 L222.18,270.32 L223.09,270.38 L223.99,270.35 L224.90,269.80 L225.80,269.86 L226.71,270.00 L227.62,270.24 L228.52,270.15 L229.43,270.29 L230.34,269.74 L231.24,269.82 L232.15,269.67 L233.06,270.31 L233.96,270.07" stroke="#273040" stroke-width="1.0643173310527938" fill="none"/>
<path d="M250.28,269.69 L251.18,269.69" stroke="#273040" stroke-width="1.3041882395492421" fill="none"/>
<path d="M225.80,270.19 L226.71,270.13 L227.62,269.99" stroke="#273040" stroke-width="1.183069780928328" fill="none"/>
<path d="M251.18,269.64 L252.09,269.85 L253.00,269.23 L253.90,269.48" stroke="#273040" stroke-width="1.1256185970622263" fill="none"/>
<path d="M168.70,269.90L172.20,270.10" stroke="#1d2330" stroke-width="2.0" fill="none"/>
<line x1="235.50" y1="266.44" x2="235.50" y2="273.04" stroke="#dd3b45" stroke-width="1.0"/>
<path d="M250.40,266.20V279.20" stroke="#262830" stroke-width="1.3" fill="none"/>
<path d="M168.70,272.60V277.80" stroke="#1d2330" stroke-width="1.3" fill="none"/>
<path d="M168.70,275.44 L169.61,275.71 L170.51,275.75 L171.42,275.50 L172.33,275.52 L173.23,275.40 L174.14,275.39 L175.05,275.58 L175.95,275.66 L176.86,275.32 L177.77,275.37 L178.67,275.55 L179.58,275.32 L180.49,275.56 L181.39,275.33 L182.30,275.35 L183.20,275.22 L184.11,275.23 L185.02,275.26 L185.92,275.17 L186.83,275.33 L187.74,275.02 L188.64,275.24 L189.55,275.28 L190.46,275.06 L191.36,274.98 L192.27,274.92 L193.18,274.88 L194.08,275.14 L194.99,275.04 L195.90,274.78 L196.80,274.93 L197.71,274.96 L198.62,274.82 L199.52,274.69 L200.43,274.82 L201.34,274.77 L202.24,274.99 L203.15,274.73 L204.06,274.93 L204.96,274.89 L205.87,274.76 L206.77,274.56 L207.68,274.82 L208.59,274.52 L209.49,274.70 L210.40,274.50 L211.31,274.49 L212.21,274.61 L213.12,274.50 L214.03,274.83 L214.93,274.66 L215.84,274.79 L216.75,274.81 L217.65,274.74 L218.56,274.69 L219.47,274.63 L220.37,274.76 L221.28,274.72 L222.19,274.53 L223.09,274.69 L224.00,274.65 L224.91,274.71 L225.81,274.80 L226.72,274.81 L227.63,274.78 L228.53,274.89 L229.44,274.92 L230.34,274.65 L231.25,274.70 L232.16,274.68 L233.06,274.76 L233.97,275.10 L234.88,274.87 L235.78,274.95 L236.69,274.99 L237.60,275.06 L238.50,274.98 L239.41,275.21 L240.32,275.06 L241.22,275.30 L242.13,275.32 L243.04,275.03 L243.94,275.29 L244.85,275.14 L245.76,275.49 L246.66,275.20 L247.57,275.31 L248.48,275.55 L249.38,275.51 L250.29,275.57 L251.20,275.51 L252.10,275.58 L253.01,275.49 L253.91,275.62 L254.82,275.57 L255.73,275.77 L256.63,275.57 L257.54,275.61 L258.45,275.67 L259.35,275.83 L260.26,275.87 L261.17,275.66 L262.07,276.08 L262.98,276.04 L263.89,275.88 L264.79,275.81 L265.70,276.10" stroke="#a29480" stroke-width="0.95" fill="none"/>
<path d="M168.70,275.57 L169.61,275.61 L170.51,275.79 L171.42,275.28 L172.33,275.24 L173.23,275.33 L174.14,275.31 L175.05,275.30 L175.95,275.41 L176.86,275.28 L177.77,275.64 L178.67,275.76 L179.58,275.04 L180.49,275.45 L181.39,275.25 L182.30,275.24" stroke="#273040" stroke-width="1.0685424769628287" fill="none"/>
<path d="M168.70,275.60 L169.61,275.55 L170.51,275.89 L171.42,275.67 L172.33,275.27" stroke="#273040" stroke-width="1.0944697647482435" fill="none"/>
<path d="M174.14,275.50 L175.05,275.48 L175.95,275.66 L176.86,275.25 L177.77,275.23 L178.67,275.29 L179.58,275.20 L180.49,275.44 L181.39,275.10 L182.30,275.07 L183.20,275.21 L184.11,274.94 L185.02,275.49 L185.92,275.09 L186.83,275.30 L187.74,275.04 L188.64,274.95 L189.55,275.04 L190.46,275.23 L191.36,275.01 L192.27,274.92 L193.18,274.79 L194.08,275.29 L194.99,275.04 L195.90,274.95 L196.80,275.13 L197.71,275.19 L198.62,274.96 L199.52,274.79 L200.43,274.79 L201.34,274.79 L202.24,275.04 L203.15,274.74 L204.06,275.13 L204.96,275.11 L205.87,274.49 L206.77,274.72 L207.68,274.89 L208.59,274.58 L209.49,274.94 L210.40,274.23 L211.31,274.48 L212.21,274.54 L213.12,274.77 L214.03,274.63 L214.93,274.70" stroke="#273040" stroke-width="1.07216520941514" fill="none"/>
<path d="M216.75,274.65 L217.65,274.88 L218.56,274.92 L219.47,274.80 L220.37,274.62" stroke="#273040" stroke-width="1.0404733658186114" fill="none"/>
<path d="M222.19,274.52 L223.09,274.59 L224.00,274.42 L224.91,274.94 L225.81,275.06" stroke="#273040" stroke-width="1.0620453872034459" fill="none"/>
<path d="M227.63,274.76 L228.53,274.85 L229.44,274.98 L230.34,274.92 L231.25,274.96 L232.16,274.93" stroke="#273040" stroke-width="1.4144722354784725" fill="none"/>
<path d="M194.08,275.23 L194.99,275.10 L195.90,274.69" stroke="#273040" stroke-width="1.4958868298474766" fill="none"/>
<path d="M246.66,275.34 L247.57,275.52 L248.48,275.27 L249.38,275.35" stroke="#273040" stroke-width="1.121185411208712" fill="none"/>
<path d="M195.90,274.63 L196.80,274.69" stroke="#273040" stroke-width="1.4834281253742092" fill="none"/>
<path d="M251.20,275.51 L252.10,275.44 L253.01,275.50 L253.91,275.72 L254.82,275.47" stroke="#273040" stroke-width="1.3196473909030948" fill="none"/>
<path d="M168.70,275.90L172.20,276.10" stroke="#1d2330" stroke-width="2.0" fill="none"/>
<line x1="234.40" y1="272.57" x2="234.40" y2="279.17" stroke="#dd3b45" stroke-width="1.0"/>
<path d="M250.40,272.00V279.20" stroke="#262830" stroke-width="1.3" fill="none"/>
<path d="M169.90,279.00Q168.30,280.20 168.70,282.70Q168.90,284.80 171.20,284.60" stroke="#1d2330" stroke-width="1.3" fill="none"/>
<path d="M168.70,282.39 L169.61,282.45 L170.52,282.80 L171.42,283.41 L172.33,283.69 L173.24,283.91 L174.15,284.05 L175.06,284.16 L175.96,284.19 L176.87,284.06 L177.78,283.77 L178.69,283.88 L179.60,283.71 L180.50,283.46 L181.41,282.86 L182.32,282.56 L183.23,282.71 L184.13,282.62 L185.04,282.79 L185.95,282.84 L186.86,282.63 L187.77,282.72 L188.67,282.72 L189.58,282.73 L190.49,282.60 L191.40,282.71 L192.31,282.48 L193.21,282.81 L194.12,282.73 L195.03,282.75 L195.94,282.61 L196.85,282.50 L197.75,282.59 L198.66,282.67 L199.57,282.60 L200.48,282.41 L201.39,282.36 L202.29,282.50 L203.20,282.43 L204.11,282.41 L205.02,282.39 L205.92,282.45 L206.83,282.55 L207.74,282.62 L208.65,282.51 L209.56,282.23 L210.46,282.56 L211.37,282.44 L212.28,282.48 L213.19,282.42 L214.10,282.30 L215.00,282.29 L215.91,282.17 L216.82,282.40 L217.73,282.14 L218.64,282.39 L219.54,282.47 L220.45,282.37 L221.36,282.34 L222.27,282.42 L223.18,282.48 L224.08,282.43 L224.99,282.50 L225.90,282.29 L226.81,282.12 L227.71,282.37 L228.62,282.39 L229.53,282.49 L230.44,282.40 L231.35,282.31 L232.25,282.19 L233.16,282.54 L234.07,282.47 L234.98,282.64 L235.89,282.51 L236.79,282.63 L237.70,282.63 L238.61,282.74 L239.52,282.56 L240.43,282.77 L241.33,282.60 L242.24,282.48 L243.15,282.65 L244.06,282.69 L244.97,282.99 L245.87,282.79 L246.78,282.78 L247.69,283.20 L248.60,283.51 L249.50,283.69 L250.41,283.34 L251.32,282.65 L252.23,282.44 L253.14,282.44 L254.04,283.13 L254.95,283.62 L255.86,284.31 L256.77,283.94 L257.68,283.60 L258.58,282.91 L259.49,282.56 L260.40,282.91" stroke="#a29480" stroke-width="0.95" fill="none"/>
<path d="M168.70,282.46 L169.61,282.51 L170.52,282.58 L171.42,283.69 L172.33,283.69 L173.24,283.77 L174.15,284.33 L175.06,284.09 L175.96,283.93 L176.87,284.16 L177.78,283.62 L178.69,283.71 L179.60,283.59 L180.50,283.53 L181.41,282.75" stroke="#273040" stroke-width="1.3323204069443522" fill="none"/>
<path d="M215.00,282.46 L215.91,281.91 L216.82,282.63 L217.73,282.34 L218.64,282.39 L219.54,282.44 L220.45,282.09 L221.36,282.46 L222.27,282.15 L223.18,282.50 L224.08,282.68 L224.99,282.61 L225.90,282.06 L226.81,282.25" stroke="#273040" stroke-width="1.3508081414345297" fill="none"/>
<path d="M228.62,282.40 L229.53,282.35 L230.44,282.27 L231.35,282.55" stroke="#273040" stroke-width="1.1747560318024541" fill="none"/>
<path d="M168.70,282.38 L169.61,282.40 L170.52,282.72 L171.42,283.68 L172.33,283.58 L173.24,284.10 L174.15,284.06 L175.06,283.92 L175.96,283.90 L176.87,284.12 L177.78,283.99 L178.69,283.61 L179.60,283.83 L180.50,283.30 L181.41,282.97 L182.32,282.76 L183.23,282.84 L184.13,282.47" stroke="#273040" stroke-width="1.0780198965341894" fill="none"/>
<path d="M185.95,282.91 L186.86,282.72 L187.77,282.48 L188.67,282.74 L189.58,282.47 L190.49,282.57 L191.40,282.89 L192.31,282.33 L193.21,283.00 L194.12,282.58 L195.03,282.69 L195.94,282.78 L196.85,282.20 L197.75,282.62 L198.66,282.69 L199.57,282.73" stroke="#273040" stroke-width="1.4739555274770473" fill="none"/>
<path d="M201.39,282.35 L202.29,282.37 L203.20,282.46" stroke="#273040" stroke-width="1.0448107105095463" fill="none"/>
<path d="M219.54,282.20 L220.45,282.14" stroke="#273040" stroke-width="1.46759009223856" fill="none"/>
<path d="M220.45,282.31 L221.36,282.64" stroke="#273040" stroke-width="1.0850250239027233" fill="none"/>
<path d="M247.69,283.26 L248.60,283.49 L249.50,283.46 L250.41,283.43 L251.32,282.43 L252.23,282.22 L253.14,282.50" stroke="#273040" stroke-width="1.3217506852220513" fill="none"/>
<path d="M168.70,282.50L172.20,282.70" stroke="#1d2330" stroke-width="2.0" fill="none"/>
<line x1="233.30" y1="280.17" x2="233.30" y2="286.77" stroke="#dd3b45" stroke-width="1.0"/>
<path d="M247.40,281.00V294.00" stroke="#262830" stroke-width="1.3" fill="none"/>
<path d="M169.90,286.80Q168.30,288.00 168.70,290.50Q168.90,292.60 171.20,292.40" stroke="#1d2330" stroke-width="1.3" fill="none"/>
<path d="M168.70,290.13 L169.60,290.18 L170.51,290.56 L171.41,290.78 L172.32,291.17 L173.22,291.19 L174.13,291.67 L175.03,291.69 L175.94,291.77 L176.84,291.60 L177.75,291.67 L178.65,291.49 L179.56,291.28 L180.46,291.02 L181.37,290.50 L182.27,290.26 L183.18,290.01 L184.08,290.32 L184.99,290.22 L185.89,290.45 L186.80,290.20 L187.70,290.28 L188.61,290.49 L189.51,290.55 L190.42,290.50 L191.32,290.57 L192.23,290.62 L193.13,290.39 L194.04,290.55 L194.94,290.36 L195.85,290.63 L196.75,290.77 L197.66,290.62 L198.56,290.50 L199.47,290.70 L200.37,290.53 L201.28,290.71 L202.18,290.58 L203.09,290.74 L203.99,290.92 L204.90,290.91 L205.80,290.98 L206.71,290.84 L207.61,290.85 L208.52,290.71 L209.42,291.02 L210.33,290.95 L211.23,290.90 L212.14,290.80 L213.04,290.94 L213.95,290.79 L214.85,290.82 L215.75,290.81 L216.66,290.95 L217.56,290.83 L218.47,291.11 L219.37,291.02 L220.28,291.12 L221.18,290.99 L222.09,290.82 L222.99,290.86 L223.90,291.08 L224.80,290.96 L225.71,290.97 L226.61,290.95 L227.52,290.70 L228.42,290.74 L229.33,290.81 L230.23,290.96 L231.14,290.97 L232.04,290.81 L232.95,290.65 L233.85,290.54 L234.76,290.71 L235.66,290.62 L236.57,290.80 L237.47,290.48 L238.38,290.45 L239.28,290.34 L240.19,290.31 L241.09,290.59 L242.00,290.58 L242.90,290.26 L243.81,290.16 L244.71,290.35 L245.62,290.18 L246.52,290.30 L247.43,290.40 L248.33,290.87 L249.24,290.85 L250.14,290.65 L251.05,289.87 L251.95,289.49 L252.86,289.12 L253.76,289.69 L254.67,290.21 L255.57,290.76 L256.48,290.57 L257.38,290.37 L258.29,289.56 L259.19,288.95 L260.10,289.09 L261.00,289.40" stroke="#a29480" stroke-width="0.95" fill="none"/>
<path d="M168.70,290.02 L169.60,290.11 L170.51,290.60 L171.41,290.63 L172.32,291.25 L173.22,291.41 L174.13,291.81 L175.03,291.53 L175.94,291.48 L176.84,291.52" stroke="#273040" stroke-width="1.2170531494017258" fill="none"/>
<path d="M205.80,290.80 L206.71,290.66 L207.61,290.60 L208.52,290.73 L209.42,290.83 L210.33,291.04 L211.23,290.96 L212.14,290.88 L213.04,290.93 L213.95,290.86 L214.85,290.70 L215.75,290.79 L216.66,291.06 L217.56,290.66 L218.47,291.25 L219.37,291.07 L220.28,291.41 L221.18,291.06 L222.09,290.85 L222.99,291.02 L223.90,290.95 L224.80,290.89" stroke="#273040" stroke-width="1.2162000741543335" fill="none"/>
<path d="M168.70,290.19 L169.60,290.31 L170.51,290.62 L171.41,290.95 L172.32,291.13 L173.22,291.33 L174.13,291.74 L175.03,291.77 L175.94,291.80 L176.84,291.70" stroke="#273040" stroke-width="1.280009632068523" fill="none"/>
<path d="M178.65,291.29 L179.56,291.29 L180.46,291.32 L181.37,290.26 L182.27,290.47 L183.18,289.71 L184.08,290.60 L184.99,290.47 L185.89,290.42 L186.80,290.28 L187.70,290.26 L188.61,290.28 L189.51,290.47" stroke="#273040" stroke-width="1.2205580818875181" fill="none"/>
<path d="M182.27,290.24 L183.18,290.04 L184.08,290.49" stroke="#273040" stroke-width="1.2996753358272044" fill="none"/>
<path d="M197.66,290.68 L198.56,290.37" stroke="#273040" stroke-width="1.2737248521849036" fill="none"/>
<path d="M239.28,290.43 L240.19,290.30" stroke="#273040" stroke-width="1.143993267766205" fill="none"/>
<path d="M247.43,290.58 L248.33,290.71 L249.24,291.14 L250.14,290.68 L251.05,289.78 L251.95,289.34 L252.86,289.25 L253.76,289.65 L254.67,290.32" stroke="#273040" stroke-width="1.1279784202860792" fill="none"/>
<path d="M168.70,290.30L172.20,290.50" stroke="#1d2330" stroke-width="2.0" fill="none"/>
<line x1="236.50" y1="286.41" x2="236.50" y2="293.01" stroke="#dd3b45" stroke-width="1.0"/>
<path d="M247.40,285.00V294.00" stroke="#262830" stroke-width="1.3" fill="none"/>
<path d="M168.4,261.5V277.5" stroke="#1d2330" stroke-width="1.6" fill="none"/>
<rect x="167.00" y="296.60" width="100.60" height="6.90" fill="#d6dadf" stroke="none" stroke-width="0"/>
<line x1="167.00" y1="297.00" x2="267.60" y2="297.00" stroke="#b3b8bd" stroke-width="0.8"/>
<line x1="167.00" y1="303.20" x2="267.60" y2="303.20" stroke="#c3c7cb" stroke-width="0.6"/>
<rect x="167.20" y="298.00" width="2.60" height="4.20" fill="#9a9c92" stroke="none" stroke-width="0.8"/>
<rect x="180.60" y="298.50" width="1.80" height="3.20" fill="#e0568e" stroke="none" stroke-width="0.8"/>
<rect x="173.54" y="299.00" width="1.52" height="1.80" fill="#7a7e86" stroke="none" stroke-width="0.8"/>
<rect x="176.70" y="299.00" width="1.59" height="1.80" fill="#7a7e86" stroke="none" stroke-width="0.8"/>
<rect x="193.90" y="298.50" width="1.80" height="3.20" fill="#e0568e" stroke="none" stroke-width="0.8"/>
<rect x="186.67" y="299.00" width="1.88" height="1.80" fill="#7a7e86" stroke="none" stroke-width="0.8"/>
<rect x="190.52" y="299.00" width="2.36" height="1.80" fill="#7a7e86" stroke="none" stroke-width="0.8"/>
<rect x="207.20" y="298.50" width="1.80" height="3.20" fill="#e0568e" stroke="none" stroke-width="0.8"/>
<rect x="200.67" y="299.00" width="1.67" height="1.80" fill="#7a7e86" stroke="none" stroke-width="0.8"/>
<rect x="203.44" y="299.00" width="1.73" height="1.80" fill="#7a7e86" stroke="none" stroke-width="0.8"/>
<rect x="220.50" y="298.50" width="1.80" height="3.20" fill="#e0568e" stroke="none" stroke-width="0.8"/>
<rect x="213.37" y="299.00" width="1.53" height="1.80" fill="#7a7e86" stroke="none" stroke-width="0.8"/>
<rect x="216.41" y="299.00" width="2.51" height="1.80" fill="#7a7e86" stroke="none" stroke-width="0.8"/>
<rect x="233.80" y="298.50" width="1.80" height="3.20" fill="#e0568e" stroke="none" stroke-width="0.8"/>
<rect x="227.33" y="299.00" width="2.37" height="1.80" fill="#7a7e86" stroke="none" stroke-width="0.8"/>
<rect x="230.30" y="299.00" width="1.63" height="1.80" fill="#7a7e86" stroke="none" stroke-width="0.8"/>
<rect x="247.10" y="298.50" width="1.80" height="3.20" fill="#e0568e" stroke="none" stroke-width="0.8"/>
<rect x="240.11" y="299.00" width="2.15" height="1.80" fill="#7a7e86" stroke="none" stroke-width="0.8"/>
<rect x="243.53" y="299.00" width="2.43" height="1.80" fill="#7a7e86" stroke="none" stroke-width="0.8"/>
<rect x="260.40" y="298.50" width="1.80" height="3.20" fill="#e0568e" stroke="none" stroke-width="0.8"/>
<rect x="253.98" y="299.00" width="1.50" height="1.80" fill="#7a7e86" stroke="none" stroke-width="0.8"/>
<rect x="256.71" y="299.00" width="2.21" height="1.80" fill="#7a7e86" stroke="none" stroke-width="0.8"/>
<text x="405.00" y="237.60" font-size="9.8" text-anchor="middle" textLength="47.2" lengthAdjust="spacingAndGlyphs" transform="rotate(-90 405.00 237.60)">Tension (g)</text>
<line x1="429.80" y1="177.10" x2="429.80" y2="208.70" stroke="#444" stroke-width="1.1"/>
<line x1="427.20" y1="177.10" x2="429.80" y2="177.10" stroke="#444" stroke-width="1"/>
<text x="424.60" y="180.10" font-size="9.6" text-anchor="end">1</text>
<line x1="427.20" y1="192.70" x2="429.80" y2="192.70" stroke="#444" stroke-width="1"/>
<text x="424.60" y="195.70" font-size="9.6" text-anchor="end">0</text>
<line x1="427.20" y1="208.30" x2="429.80" y2="208.30" stroke="#444" stroke-width="1"/>
<text x="424.60" y="211.30" font-size="9.6" text-anchor="end">-1</text>
<line x1="440.20" y1="208.90" x2="522.50" y2="208.90" stroke="#444" stroke-width="1.1"/>
<line x1="440.40" y1="208.90" x2="440.40" y2="211.30" stroke="#444" stroke-width="1"/>
<line x1="460.90" y1="208.90" x2="460.90" y2="211.30" stroke="#444" stroke-width="1"/>
<line x1="481.30" y1="208.90" x2="481.30" y2="211.30" stroke="#444" stroke-width="1"/>
<line x1="501.70" y1="208.90" x2="501.70" y2="211.30" stroke="#444" stroke-width="1"/>
<line x1="522.10" y1="208.90" x2="522.10" y2="211.30" stroke="#444" stroke-width="1"/>
<path d="M440.40,189.44 L440.45,189.51 L440.51,192.13 L440.56,186.63 L440.62,196.03 L440.67,191.19 L440.73,190.58 L440.78,192.88 L440.84,194.31 L440.89,192.65 L440.94,192.65 L441.00,190.97 L441.05,186.27 L441.11,191.59 L441.16,197.74 L441.22,191.92 L441.27,188.70 L441.32,191.55 L441.38,190.03 L441.43,186.19 L441.49,191.49 L441.54,193.70 L441.60,198.23 L441.65,195.85 L441.71,191.11 L441.76,196.27 L441.81,193.40 L441.87,194.29 L441.92,190.84 L441.98,194.56 L442.03,188.94 L442.09,196.00 L442.14,187.89 L442.20,187.97 L442.25,193.72 L442.30,189.88 L442.36,192.48 L442.41,195.40 L442.47,191.04 L442.52,194.11 L442.58,193.30 L442.63,195.51 L442.68,191.85 L442.74,196.50 L442.79,190.89 L442.85,196.87 L442.90,191.41 L442.96,195.28 L443.01,187.74 L443.07,189.01 L443.12,191.40 L443.17,194.14 L443.23,196.18 L443.28,192.01 L443.34,194.46 L443.39,199.57 L443.45,194.64 L443.50,190.87 L443.56,195.03 L443.61,193.48 L443.66,191.35 L443.72,191.41 L443.77,191.65 L443.83,190.39 L443.88,193.54 L443.94,191.77 L443.99,195.13 L444.04,198.02 L444.10,189.38 L444.15,192.66 L444.21,196.77 L444.26,194.29 L444.32,194.67 L444.37,192.98 L444.43,193.54 L444.48,190.75 L444.53,194.78 L444.59,191.87 L444.64,188.08 L444.70,193.22 L444.75,191.76 L444.81,195.47 L444.86,192.14 L444.92,194.87 L444.97,193.91 L445.02,191.75 L445.08,190.96 L445.13,194.27 L445.19,193.28 L445.24,194.84 L445.30,195.91 L445.35,194.34 L445.40,195.39 L445.46,191.28 L445.51,187.57 L445.57,190.79 L445.62,193.66 L445.68,195.76 L445.73,192.59 L445.79,190.86 L445.84,194.05 L445.89,192.30 L445.95,195.42 L446.00,191.90 L446.06,190.23 L446.11,195.58 L446.17,192.00 L446.22,190.03 L446.28,195.72 L446.33,188.40 L446.38,195.70 L446.44,191.77 L446.49,186.13 L446.55,191.99 L446.60,194.34 L446.66,194.43 L446.71,191.01 L446.76,192.81 L446.82,192.94 L446.87,193.82 L446.93,191.16 L446.98,190.33 L447.04,190.26 L447.09,191.93 L447.15,186.07 L447.20,195.57 L447.25,191.84 L447.31,190.03 L447.36,188.95 L447.42,190.12 L447.47,198.72 L447.53,193.27 L447.58,192.85 L447.64,192.95 L447.69,192.52 L447.74,193.24 L447.80,189.19 L447.85,192.91 L447.91,195.44 L447.96,193.19 L448.02,191.83 L448.07,195.45 L448.12,196.01 L448.18,185.95 L448.23,190.20 L448.29,192.01 L448.34,190.10 L448.40,193.05 L448.45,194.43 L448.51,192.95 L448.56,200.08 L448.61,190.39 L448.67,196.10 L448.72,191.41 L448.78,188.61 L448.83,193.10 L448.89,188.22 L448.94,200.04 L449.00,190.75 L449.05,190.14 L449.10,190.66 L449.16,187.37 L449.21,189.60 L449.27,193.96 L449.32,192.38 L449.38,193.59 L449.43,191.13 L449.48,194.89 L449.54,191.17 L449.59,192.61 L449.65,193.07 L449.70,191.37 L449.76,191.73 L449.81,189.82 L449.87,192.81 L449.92,191.58 L449.97,190.20 L450.03,188.87 L450.08,194.43 L450.14,185.90 L450.19,190.06 L450.25,190.72 L450.30,196.28 L450.36,193.88 L450.41,186.79 L450.46,192.29 L450.52,192.23 L450.57,195.78 L450.63,191.11 L450.68,192.35 L450.74,192.36 L450.79,190.87 L450.84,195.82 L450.90,194.47 L450.95,190.91 L451.01,191.43 L451.06,190.44 L451.12,196.66 L451.17,193.90 L451.23,192.99 L451.28,192.72 L451.33,193.77 L451.39,193.11 L451.44,191.21 L451.50,192.72 L451.55,194.83 L451.61,191.44 L451.66,193.43 L451.72,193.43 L451.77,189.89 L451.82,189.67 L451.88,190.63 L451.93,193.05 L451.99,192.89 L452.04,194.79 L452.10,199.05 L452.15,197.88 L452.20,190.16 L452.26,193.86 L452.31,196.03 L452.37,194.49 L452.42,190.35 L452.48,194.31 L452.53,188.56 L452.59,194.40 L452.64,191.05 L452.69,193.01 L452.75,192.70 L452.80,195.04 L452.86,196.29 L452.91,193.02 L452.97,200.75 L453.02,189.11 L453.08,190.78 L453.13,191.44 L453.18,188.72 L453.24,200.05 L453.29,195.87 L453.35,193.30 L453.40,194.09 L453.46,192.20 L453.51,190.46 L453.56,191.84 L453.62,191.06 L453.67,194.25 L453.73,189.64 L453.78,192.88 L453.84,197.17 L453.89,190.97 L453.95,189.09 L454.00,197.20 L454.05,193.96 L454.11,197.00 L454.16,188.00 L454.22,191.43 L454.27,191.20 L454.33,192.78 L454.38,191.43 L454.44,196.25 L454.49,194.42 L454.54,190.79 L454.60,194.63 L454.65,192.78 L454.71,192.80 L454.76,200.60 L454.82,185.92 L454.87,188.00 L454.92,192.98 L454.98,194.67 L455.03,194.89 L455.09,194.56 L455.14,186.00 L455.20,190.54 L455.25,192.59 L455.31,196.51 L455.36,188.86 L455.41,200.29 L455.47,195.55 L455.52,189.99 L455.58,191.23 L455.63,196.53 L455.69,191.32 L455.74,193.47 L455.80,190.14 L455.85,193.48 L455.90,194.27 L455.96,196.57 L456.01,194.22 L456.07,193.80 L456.12,192.93 L456.18,195.90 L456.23,191.38 L456.28,184.46 L456.34,194.27 L456.39,190.94 L456.45,192.20 L456.50,196.79 L456.56,190.76 L456.61,194.99 L456.67,191.03 L456.72,193.17 L456.77,186.44 L456.83,191.50 L456.88,191.81 L456.94,199.30 L456.99,194.82 L457.05,187.16 L457.10,193.11 L457.16,192.21 L457.21,194.22 L457.26,192.51 L457.32,190.57 L457.37,197.45 L457.43,191.95 L457.48,191.33 L457.54,193.34 L457.59,194.04 L457.64,192.87 L457.70,193.90 L457.75,191.48 L457.81,190.38 L457.86,187.77 L457.92,192.24 L457.97,192.76 L458.03,193.53 L458.08,194.87 L458.13,191.53 L458.19,194.86 L458.24,186.55 L458.30,196.88 L458.35,191.14 L458.41,188.87 L458.46,190.23 L458.52,195.15 L458.57,192.28 L458.62,193.52 L458.68,188.66 L458.73,190.38 L458.79,194.38 L458.84,191.60 L458.90,192.58 L458.95,188.63 L459.00,190.61 L459.06,187.91 L459.11,193.30 L459.17,195.53 L459.22,195.72 L459.28,199.32 L459.33,192.52 L459.39,189.31 L459.44,191.50 L459.49,194.57 L459.55,189.68 L459.60,185.59 L459.66,191.24 L459.71,196.97 L459.77,193.49 L459.82,192.18 L459.88,190.62 L459.93,189.70 L459.98,189.95 L460.04,191.74 L460.09,190.90 L460.15,191.39 L460.20,194.29 L460.26,191.01 L460.31,191.56 L460.36,195.67 L460.42,191.94 L460.47,193.57 L460.53,198.19 L460.58,195.46 L460.64,194.01 L460.69,193.24 L460.75,196.99 L460.80,189.32 L460.85,192.58 L460.91,192.38 L460.96,191.22 L461.02,194.64 L461.07,190.36 L461.13,193.33 L461.18,195.08 L461.24,190.47 L461.29,194.20 L461.34,190.70 L461.40,191.78 L461.45,193.93 L461.51,192.69 L461.56,190.56 L461.62,199.78 L461.67,192.76 L461.72,195.05 L461.78,192.55 L461.83,186.39 L461.89,201.50 L461.94,192.51 L462.00,190.79 L462.05,195.59 L462.11,190.42 L462.16,194.55 L462.21,194.20 L462.27,190.83 L462.32,193.26 L462.38,192.23 L462.43,191.07 L462.49,191.01 L462.54,193.17 L462.60,192.59 L462.65,195.35 L462.70,193.09 L462.76,191.20 L462.81,186.48 L462.87,190.01 L462.92,194.18 L462.98,183.65 L463.03,188.45 L463.08,189.62 L463.14,194.89 L463.19,196.27 L463.25,196.05 L463.30,191.09 L463.36,193.08 L463.41,195.16 L463.47,193.74 L463.52,183.88 L463.57,195.20 L463.63,196.14 L463.68,194.32 L463.74,192.43 L463.79,190.40 L463.85,192.90 L463.90,193.90 L463.96,195.01 L464.01,196.83 L464.06,201.36 L464.12,191.36 L464.17,191.68 L464.23,193.10 L464.28,192.25 L464.34,192.04 L464.39,196.83 L464.44,194.32 L464.50,195.07 L464.55,193.56 L464.61,193.18 L464.66,190.49 L464.72,194.68 L464.77,192.69 L464.83,195.87 L464.88,192.34 L464.93,191.12 L464.99,196.96 L465.04,192.73 L465.10,188.95 L465.15,189.55 L465.21,194.99 L465.26,193.11 L465.32,191.66 L465.37,195.22 L465.42,190.31 L465.48,194.82 L465.53,199.85 L465.59,190.09 L465.64,193.45 L465.70,192.07 L465.75,189.96 L465.80,192.04 L465.86,187.86 L465.91,190.94 L465.97,189.14 L466.02,192.62 L466.08,193.54 L466.13,192.91 L466.19,194.49 L466.24,192.09 L466.29,192.39 L466.35,190.48 L466.40,189.70 L466.46,194.86 L466.51,194.49 L466.57,190.54 L466.62,193.05 L466.68,193.15 L466.73,193.27 L466.78,192.55 L466.84,193.01 L466.89,191.96 L466.95,191.85 L467.00,188.98 L467.06,193.70 L467.11,192.10 L467.16,193.31 L467.22,193.03 L467.27,195.73 L467.33,189.89 L467.38,193.23 L467.44,191.40 L467.49,192.46 L467.55,192.64 L467.60,194.88 L467.65,190.82 L467.71,191.97 L467.76,198.78 L467.82,191.86 L467.87,193.34 L467.93,191.56 L467.98,191.19 L468.04,191.41 L468.09,189.89 L468.14,193.76 L468.20,194.12 L468.25,195.18 L468.31,190.56 L468.36,193.56 L468.42,187.67 L468.47,192.36 L468.52,194.94 L468.58,189.94 L468.63,189.80 L468.69,192.79 L468.74,190.16 L468.80,194.42 L468.85,189.65 L468.91,189.74 L468.96,194.96 L469.01,190.55 L469.07,193.77 L469.12,191.95 L469.18,189.88 L469.23,191.98 L469.29,194.05 L469.34,194.96 L469.40,190.63 L469.45,192.59 L469.50,193.10 L469.56,194.92 L469.61,194.45 L469.67,191.32 L469.72,192.76 L469.78,191.44 L469.83,192.25 L469.88,190.59 L469.94,193.29 L469.99,190.90 L470.05,193.28 L470.10,189.79 L470.16,194.99 L470.21,193.69 L470.27,189.54 L470.32,195.20 L470.37,191.41 L470.43,189.76 L470.48,191.13 L470.54,192.39 L470.59,195.43 L470.65,193.66 L470.70,193.81 L470.76,199.70 L470.81,197.91 L470.86,194.89 L470.92,194.01 L470.97,194.59 L471.03,195.94 L471.08,192.47 L471.14,194.94 L471.19,195.68 L471.24,195.57 L471.30,190.57 L471.35,190.19 L471.41,192.03 L471.46,194.80 L471.52,190.14 L471.57,193.80 L471.63,190.04 L471.68,185.91 L471.73,194.81 L471.79,189.45 L471.84,191.43 L471.90,190.38 L471.95,191.64 L472.01,189.01 L472.06,192.37 L472.12,192.50 L472.17,192.90 L472.22,191.84 L472.28,193.78 L472.33,193.69 L472.39,192.86 L472.44,197.37 L472.50,191.35 L472.55,184.97 L472.60,192.37 L472.66,189.42 L472.71,192.27 L472.77,190.00 L472.82,188.78 L472.88,193.85 L472.93,193.29 L472.99,186.63 L473.04,189.80 L473.09,193.23 L473.15,191.92 L473.20,192.42 L473.26,188.98 L473.31,189.04 L473.37,194.64 L473.42,189.60 L473.48,194.24 L473.53,192.39 L473.58,194.52 L473.64,193.97 L473.69,195.25 L473.75,192.56 L473.80,191.30 L473.86,193.51 L473.91,191.82 L473.96,190.81 L474.02,192.00 L474.07,192.83 L474.13,190.71 L474.18,187.66 L474.24,196.49 L474.29,188.29 L474.35,190.45 L474.40,189.29 L474.45,190.91 L474.51,193.09 L474.56,190.65 L474.62,188.45 L474.67,193.83 L474.73,190.41 L474.78,191.56 L474.84,184.53 L474.89,196.56 L474.94,191.13 L475.00,195.14 L475.05,187.61 L475.11,190.02 L475.16,192.69 L475.22,188.80 L475.27,196.45 L475.32,194.25 L475.38,190.98 L475.43,189.90 L475.49,199.03 L475.54,192.91 L475.60,191.59 L475.65,190.73 L475.71,189.49 L475.76,190.59 L475.81,193.76 L475.87,191.07 L475.92,196.14 L475.98,195.73 L476.03,194.34 L476.09,195.52 L476.14,193.29 L476.20,193.72 L476.25,194.21 L476.30,191.61 L476.36,190.77 L476.41,190.55 L476.47,198.19 L476.52,188.95 L476.58,197.66 L476.63,193.50 L476.68,196.30 L476.74,194.00 L476.79,190.73 L476.85,193.12 L476.90,191.85 L476.96,192.07 L477.01,197.31 L477.07,187.48 L477.12,192.28 L477.17,190.52 L477.23,189.51 L477.28,194.39 L477.34,194.56 L477.39,190.16 L477.45,195.15 L477.50,188.51 L477.56,193.91 L477.61,192.69 L477.66,186.86 L477.72,191.01 L477.77,190.98 L477.83,191.01 L477.88,192.92 L477.94,187.42 L477.99,192.18 L478.04,193.43 L478.10,191.17 L478.15,191.61 L478.21,191.61 L478.26,193.81 L478.32,186.42 L478.37,198.01 L478.43,185.56 L478.48,192.09 L478.53,189.65 L478.59,187.38 L478.64,195.68 L478.70,190.46 L478.75,190.60 L478.81,192.34 L478.86,193.18 L478.92,192.62 L478.97,195.56 L479.02,196.17 L479.08,189.87 L479.13,191.32 L479.19,191.50 L479.24,190.42 L479.30,192.51 L479.35,193.76 L479.40,200.21 L479.46,191.86 L479.51,192.68 L479.57,194.74 L479.62,192.28 L479.68,199.07 L479.73,197.93 L479.79,194.83 L479.84,188.60 L479.89,192.38 L479.95,193.45 L480.00,192.12 L480.06,192.52 L480.11,194.99 L480.17,189.11 L480.22,190.11 L480.28,191.60 L480.33,194.46 L480.38,192.96 L480.44,194.21 L480.49,193.45 L480.55,187.56 L480.60,192.90 L480.66,191.36 L480.71,194.83 L480.76,195.32 L480.82,188.87 L480.87,195.94 L480.93,198.31 L480.98,192.71 L481.04,195.05 L481.09,193.27 L481.15,191.31 L481.20,189.67 L481.25,190.28 L481.31,192.99 L481.36,195.25 L481.42,189.65 L481.47,190.52 L481.53,190.84 L481.58,189.18 L481.64,184.88 L481.69,192.48 L481.74,191.70 L481.80,194.44 L481.85,191.64 L481.91,191.40 L481.96,192.91 L482.02,193.64 L482.07,190.33 L482.12,192.52 L482.18,193.89 L482.23,194.73 L482.29,190.11 L482.34,195.72 L482.40,192.78 L482.45,194.59 L482.51,192.36 L482.56,195.47 L482.61,190.43 L482.67,188.90 L482.72,193.34 L482.78,186.05 L482.83,188.67 L482.89,192.38 L482.94,190.07 L483.00,195.16 L483.05,196.14 L483.10,190.66 L483.16,192.94 L483.21,196.06 L483.27,192.55 L483.32,190.64 L483.38,191.73 L483.43,188.14 L483.48,189.35 L483.54,193.68 L483.59,191.04 L483.65,186.16 L483.70,190.63 L483.76,189.86 L483.81,194.32 L483.87,194.89 L483.92,197.03 L483.97,191.29 L484.03,187.35 L484.08,195.07 L484.14,190.26 L484.19,196.36 L484.25,189.12 L484.30,188.54 L484.36,189.47 L484.41,192.62 L484.46,198.77 L484.52,194.50 L484.57,194.13 L484.63,192.94 L484.68,191.07 L484.74,197.03 L484.79,187.47 L484.84,190.19 L484.90,184.23 L484.95,194.97 L485.01,192.06 L485.06,194.35 L485.12,193.72 L485.17,192.45 L485.23,188.91 L485.28,191.78 L485.33,193.29 L485.39,191.60 L485.44,194.16 L485.50,191.72 L485.55,189.07 L485.61,194.08 L485.66,194.11 L485.72,189.76 L485.77,194.36 L485.82,193.78 L485.88,191.81 L485.93,188.91 L485.99,193.90 L486.04,190.93 L486.10,195.47 L486.15,192.64 L486.20,195.06 L486.26,194.33 L486.31,195.15 L486.37,194.69 L486.42,191.19 L486.48,193.59 L486.53,190.77 L486.59,192.27 L486.64,190.51 L486.69,190.69 L486.75,187.35 L486.80,190.43 L486.86,192.94 L486.91,195.48 L486.97,187.41 L487.02,188.02 L487.08,188.96 L487.13,194.10 L487.18,193.38 L487.24,194.18 L487.29,193.92 L487.35,194.46 L487.40,190.83 L487.46,193.30 L487.51,190.46 L487.56,189.79 L487.62,193.78 L487.67,194.61 L487.73,195.10 L487.78,193.76 L487.84,186.79 L487.89,187.94 L487.95,191.15 L488.00,190.39 L488.05,192.40 L488.11,190.00 L488.16,190.54 L488.22,194.32 L488.27,193.44 L488.33,190.93 L488.38,194.56 L488.44,191.32 L488.49,194.81 L488.54,191.02 L488.60,191.90 L488.65,191.37 L488.71,189.85 L488.76,194.55 L488.82,192.72 L488.87,194.00 L488.92,191.64 L488.98,194.65 L489.03,195.93 L489.09,189.79 L489.14,185.74 L489.20,192.62 L489.25,190.60 L489.31,196.04 L489.36,193.34 L489.41,194.96 L489.47,189.03 L489.52,188.09 L489.58,191.50 L489.63,191.79 L489.69,191.60 L489.74,189.22 L489.80,195.49 L489.85,188.25 L489.90,190.39 L489.96,187.46 L490.01,190.30 L490.07,188.74 L490.12,190.82 L490.18,196.16 L490.23,194.38 L490.28,195.50 L490.34,190.21 L490.39,194.22 L490.45,194.58 L490.50,192.96 L490.56,192.81 L490.61,190.61 L490.67,193.56 L490.72,193.11 L490.77,194.42 L490.83,194.03 L490.88,195.93 L490.94,193.30 L490.99,192.27 L491.05,197.53 L491.10,191.32 L491.16,191.26 L491.21,186.87 L491.26,192.63 L491.32,190.04 L491.37,190.02 L491.43,194.69 L491.48,194.30 L491.54,191.54 L491.59,192.88 L491.64,190.73 L491.70,192.28 L491.75,187.72 L491.81,189.80 L491.86,193.60 L491.92,193.41 L491.97,184.80 L492.03,188.43 L492.08,192.09 L492.13,196.42 L492.19,193.68 L492.24,194.65 L492.30,187.72 L492.35,192.79 L492.41,192.53 L492.46,188.58 L492.52,195.68 L492.57,193.03 L492.62,194.15 L492.68,196.92 L492.73,190.69 L492.79,195.89 L492.84,191.13 L492.90,194.69 L492.95,197.07 L493.00,194.66 L493.06,195.40 L493.11,191.56 L493.17,192.62 L493.22,194.99 L493.28,196.95 L493.33,189.47 L493.39,191.81 L493.44,186.90 L493.49,187.48 L493.55,188.36 L493.60,193.58 L493.66,200.75 L493.71,189.47 L493.77,192.58 L493.82,193.60 L493.88,191.33 L493.93,193.20 L493.98,191.88 L494.04,197.32 L494.09,192.01 L494.15,194.37 L494.20,189.87 L494.26,194.39 L494.31,192.81 L494.36,193.81 L494.42,193.61 L494.47,195.79 L494.53,191.85 L494.58,194.63 L494.64,198.17 L494.69,201.26 L494.75,190.52 L494.80,193.01 L494.85,192.55 L494.91,193.92 L494.96,194.63 L495.02,188.62 L495.07,191.59 L495.13,190.60 L495.18,189.87 L495.24,192.84 L495.29,188.34 L495.34,198.99 L495.40,194.83 L495.45,197.16 L495.51,192.37 L495.56,193.80 L495.62,192.24 L495.67,191.93 L495.72,193.17 L495.78,196.28 L495.83,192.02 L495.89,192.66 L495.94,194.11 L496.00,190.58 L496.05,189.32 L496.11,193.25 L496.16,192.23 L496.21,196.66 L496.27,195.98 L496.32,190.47 L496.38,191.43 L496.43,194.19 L496.49,194.17 L496.54,189.10 L496.60,195.37 L496.65,194.20 L496.70,189.50 L496.76,190.72 L496.81,193.39 L496.87,190.71 L496.92,194.59 L496.98,194.74 L497.03,198.85 L497.08,193.53 L497.14,192.32 L497.19,197.76 L497.25,195.03 L497.30,192.28 L497.36,195.91 L497.41,194.07 L497.47,193.94 L497.52,192.72 L497.57,199.30 L497.63,194.96 L497.68,192.08 L497.74,192.35 L497.79,194.04 L497.85,191.45 L497.90,193.43 L497.96,190.59 L498.01,195.85 L498.06,190.06 L498.12,189.84 L498.17,196.56 L498.23,196.02 L498.28,200.93 L498.34,189.95 L498.39,191.59 L498.44,194.19 L498.50,191.63 L498.55,195.30 L498.61,194.31 L498.66,190.76 L498.72,191.53 L498.77,190.81 L498.83,194.90 L498.88,195.61 L498.93,190.67 L498.99,193.08 L499.04,193.90 L499.10,192.85 L499.15,194.02 L499.21,196.73 L499.26,191.80 L499.32,189.98 L499.37,195.53 L499.42,190.15 L499.48,192.09 L499.53,191.06 L499.59,195.85 L499.64,190.76 L499.70,197.03 L499.75,192.18 L499.80,188.49 L499.86,188.12 L499.91,196.43 L499.97,197.57 L500.02,193.23 L500.08,193.48 L500.13,190.66 L500.19,192.94 L500.24,192.08 L500.29,189.78 L500.35,190.25 L500.40,193.00 L500.46,192.95 L500.51,191.17 L500.57,189.44 L500.62,197.01 L500.68,190.70 L500.73,190.70 L500.78,194.83 L500.84,189.67 L500.89,193.25 L500.95,190.02 L501.00,190.86 L501.06,191.63 L501.11,189.02 L501.16,185.79 L501.22,190.46 L501.27,191.89 L501.33,191.84 L501.38,190.57 L501.44,189.87 L501.49,195.35 L501.55,188.81 L501.60,195.64 L501.65,191.86 L501.71,193.68 L501.76,190.83 L501.82,193.47 L501.87,192.58 L501.93,194.72 L501.98,193.14 L502.04,195.04 L502.09,190.76 L502.14,191.16 L502.20,191.50 L502.25,190.67 L502.31,194.37 L502.36,190.51 L502.42,191.22 L502.47,188.35 L502.52,188.05 L502.58,197.33 L502.63,191.48 L502.69,195.11 L502.74,192.89 L502.80,192.80 L502.85,188.92 L502.91,193.60 L502.96,191.87 L503.01,192.91 L503.07,193.93 L503.12,193.51 L503.18,192.47 L503.23,188.16 L503.29,192.93 L503.34,193.85 L503.40,191.67 L503.45,194.93 L503.50,184.88 L503.56,195.25 L503.61,199.19 L503.67,186.77 L503.72,191.03 L503.78,193.11 L503.83,194.15 L503.88,189.97 L503.94,193.81 L503.99,193.81 L504.05,194.19 L504.10,184.20 L504.16,192.53 L504.21,189.30 L504.27,195.33 L504.32,191.05 L504.37,196.14 L504.43,192.35 L504.48,190.05 L504.54,189.87 L504.59,195.94 L504.65,189.54 L504.70,193.48 L504.76,195.36 L504.81,194.29 L504.86,191.92 L504.92,192.02 L504.97,192.83 L505.03,191.88 L505.08,190.14 L505.14,190.02 L505.19,188.70 L505.24,192.35 L505.30,192.43 L505.35,193.41 L505.41,192.95 L505.46,188.83 L505.52,190.98 L505.57,190.17 L505.63,193.65 L505.68,195.28 L505.73,196.42 L505.79,191.79 L505.84,190.54 L505.90,191.74 L505.95,192.05 L506.01,192.65 L506.06,190.34 L506.12,190.21 L506.17,191.81 L506.22,195.01 L506.28,193.70 L506.33,191.84 L506.39,193.67 L506.44,197.67 L506.50,194.37 L506.55,189.71 L506.60,193.83 L506.66,194.69 L506.71,192.60 L506.77,193.66 L506.82,194.89 L506.88,193.94 L506.93,193.82 L506.99,189.40 L507.04,187.22 L507.09,190.21 L507.15,192.78 L507.20,196.43 L507.26,191.90 L507.31,190.80 L507.37,192.42 L507.42,193.11 L507.48,195.01 L507.53,188.25 L507.58,197.58 L507.64,188.62 L507.69,193.58 L507.75,190.67 L507.80,191.49 L507.86,191.84 L507.91,190.19 L507.96,186.02 L508.02,192.78 L508.07,195.13 L508.13,192.30 L508.18,192.02 L508.24,193.67 L508.29,190.95 L508.35,190.82 L508.40,189.28 L508.45,194.81 L508.51,193.77 L508.56,189.46 L508.62,188.57 L508.67,191.59 L508.73,188.10 L508.78,194.98 L508.84,194.56 L508.89,198.25 L508.94,191.97 L509.00,190.05 L509.05,194.58 L509.11,187.71 L509.16,195.47 L509.22,197.51 L509.27,191.96 L509.32,191.86 L509.38,192.15 L509.43,189.43 L509.49,193.82 L509.54,193.60 L509.60,191.39 L509.65,193.26 L509.71,193.24 L509.76,194.35 L509.81,195.76 L509.87,192.41 L509.92,188.27 L509.98,193.62 L510.03,192.30 L510.09,191.55 L510.14,191.82 L510.20,191.89 L510.25,188.94 L510.30,192.52 L510.36,190.77 L510.41,196.42 L510.47,191.90 L510.52,188.07 L510.58,189.14 L510.63,191.53 L510.68,189.85 L510.74,190.01 L510.79,198.13 L510.85,187.79 L510.90,185.14 L510.96,189.25 L511.01,192.14 L511.07,190.52 L511.12,195.78 L511.17,192.15 L511.23,188.58 L511.28,193.43 L511.34,186.52 L511.39,193.60 L511.45,192.31 L511.50,197.03 L511.56,193.84 L511.61,191.54 L511.66,193.23 L511.72,192.40 L511.77,194.52 L511.83,193.72 L511.88,194.20 L511.94,190.76 L511.99,191.46 L512.04,192.33 L512.10,192.67 L512.15,193.68 L512.21,194.54 L512.26,196.48 L512.32,191.66 L512.37,193.45 L512.43,193.88 L512.48,192.25 L512.53,187.99 L512.59,194.10 L512.64,192.38 L512.70,197.87 L512.75,189.53 L512.81,190.64 L512.86,195.72 L512.92,198.31 L512.97,195.28 L513.02,197.70 L513.08,193.56 L513.13,196.35 L513.19,192.19 L513.24,197.13 L513.30,187.41 L513.35,191.58 L513.40,197.81 L513.46,193.85 L513.51,191.73 L513.57,192.39 L513.62,190.11 L513.68,191.51 L513.73,198.94 L513.79,193.19 L513.84,187.19 L513.89,195.80 L513.95,195.03 L514.00,191.67 L514.06,191.70 L514.11,192.21 L514.17,191.32 L514.22,188.77 L514.28,193.48 L514.33,197.48 L514.38,186.19 L514.44,194.00 L514.49,190.74 L514.55,185.42 L514.60,192.55 L514.66,194.38 L514.71,193.08 L514.76,200.80 L514.82,191.30 L514.87,194.68 L514.93,190.10 L514.98,190.14 L515.04,194.09 L515.09,187.29 L515.15,198.00 L515.20,193.84 L515.25,189.22 L515.31,193.61 L515.36,194.27 L515.42,196.47 L515.47,189.54 L515.53,191.60 L515.58,191.57 L515.64,196.93 L515.69,193.93 L515.74,192.15 L515.80,192.14 L515.85,192.99 L515.91,192.39 L515.96,183.51 L516.02,193.92 L516.07,195.39 L516.12,194.53 L516.18,191.29 L516.23,196.14 L516.29,191.19 L516.34,194.38 L516.40,195.99 L516.45,192.04 L516.51,190.97 L516.56,194.71 L516.61,190.02 L516.67,189.87 L516.72,196.77 L516.78,188.15 L516.83,184.94 L516.89,196.35 L516.94,193.50 L517.00,193.57 L517.05,187.44 L517.10,189.27 L517.16,188.87 L517.21,191.19 L517.27,196.50 L517.32,191.68 L517.38,191.62 L517.43,190.84 L517.48,191.70 L517.54,195.16 L517.59,194.77 L517.65,190.28 L517.70,191.71 L517.76,191.41 L517.81,190.57 L517.87,201.27 L517.92,189.14 L517.97,190.36 L518.03,191.58 L518.08,193.82 L518.14,191.33 L518.19,188.50 L518.25,191.94 L518.30,195.38 L518.36,186.51 L518.41,189.92 L518.46,196.06 L518.52,201.23 L518.57,193.11 L518.63,194.02 L518.68,186.57 L518.74,192.41 L518.79,188.64 L518.84,189.44 L518.90,191.45 L518.95,193.41 L519.01,193.22 L519.06,193.70 L519.12,191.30 L519.17,188.92 L519.23,192.90 L519.28,193.96 L519.33,192.25 L519.39,192.82 L519.44,192.75 L519.50,197.27 L519.55,193.70 L519.61,193.46 L519.66,191.63 L519.72,191.89 L519.77,190.69 L519.82,191.54 L519.88,195.91 L519.93,191.39 L519.99,185.36 L520.04,189.93 L520.10,197.20 L520.15,189.68 L520.20,192.45 L520.26,195.40 L520.31,191.10 L520.37,198.19 L520.42,193.90 L520.48,191.80 L520.53,192.71 L520.59,186.58 L520.64,188.41 L520.69,195.79 L520.75,187.57 L520.80,198.74 L520.86,193.89 L520.91,191.21 L520.97,191.53 L521.02,195.12 L521.08,192.65 L521.13,190.53 L521.18,186.49 L521.24,189.44 L521.29,189.93 L521.35,190.72 L521.40,195.62 L521.46,189.00 L521.51,194.59 L521.56,199.13 L521.62,191.35 L521.67,193.73 L521.73,192.37 L521.78,193.15 L521.84,192.45 L521.89,191.07 L521.95,192.73 L522.00,194.18" stroke="#858585" stroke-width="0.5" fill="none"/>
<line x1="429.80" y1="220.10" x2="429.80" y2="251.70" stroke="#444" stroke-width="1.1"/>
<line x1="427.20" y1="220.10" x2="429.80" y2="220.10" stroke="#444" stroke-width="1"/>
<text x="424.60" y="223.10" font-size="9.6" text-anchor="end">1</text>
<line x1="427.20" y1="235.70" x2="429.80" y2="235.70" stroke="#444" stroke-width="1"/>
<text x="424.60" y="238.70" font-size="9.6" text-anchor="end">0</text>
<line x1="427.20" y1="251.30" x2="429.80" y2="251.30" stroke="#444" stroke-width="1"/>
<text x="424.60" y="254.30" font-size="9.6" text-anchor="end">-1</text>
<line x1="440.20" y1="251.90" x2="522.50" y2="251.90" stroke="#444" stroke-width="1.1"/>
<line x1="440.40" y1="251.90" x2="440.40" y2="254.30" stroke="#444" stroke-width="1"/>
<line x1="460.90" y1="251.90" x2="460.90" y2="254.30" stroke="#444" stroke-width="1"/>
<line x1="481.30" y1="251.90" x2="481.30" y2="254.30" stroke="#444" stroke-width="1"/>
<line x1="501.70" y1="251.90" x2="501.70" y2="254.30" stroke="#444" stroke-width="1"/>
<line x1="522.10" y1="251.90" x2="522.10" y2="254.30" stroke="#444" stroke-width="1"/>
<path d="M440.40,236.42 L440.45,235.82 L440.51,236.04 L440.56,234.63 L440.62,234.89 L440.67,236.44 L440.73,235.39 L440.78,235.94 L440.84,235.66 L440.89,235.93 L440.94,236.12 L441.00,236.23 L441.05,235.92 L441.11,235.02 L441.16,235.07 L441.22,236.35 L441.27,235.19 L441.32,235.43 L441.38,234.87 L441.43,234.98 L441.49,235.34 L441.54,235.79 L441.60,235.55 L441.65,235.33 L441.71,235.07 L441.76,234.67 L441.81,235.76 L441.87,234.95 L441.92,235.98 L441.98,235.78 L442.03,234.70 L442.09,235.56 L442.14,236.11 L442.20,234.91 L442.25,235.62 L442.30,235.75 L442.36,235.65 L442.41,235.52 L442.47,236.29 L442.52,235.59 L442.58,235.07 L442.63,235.12 L442.68,235.20 L442.74,235.16 L442.79,235.42 L442.85,234.87 L442.90,236.44 L442.96,235.67 L443.01,235.35 L443.07,236.16 L443.12,236.11 L443.17,234.90 L443.23,235.72 L443.28,235.01 L443.34,235.13 L443.39,235.72 L443.45,235.36 L443.50,235.72 L443.56,235.23 L443.61,235.84 L443.66,235.67 L443.72,234.69 L443.77,235.42 L443.83,234.46 L443.88,234.92 L443.94,235.66 L443.99,235.91 L444.04,234.96 L444.10,235.23 L444.15,235.32 L444.21,235.00 L444.26,236.13 L444.32,235.96 L444.37,235.55 L444.43,235.33 L444.48,235.52 L444.53,235.45 L444.59,235.25 L444.64,234.92 L444.70,235.44 L444.75,235.69 L444.81,235.47 L444.86,236.13 L444.92,234.69 L444.97,235.33 L445.02,235.80 L445.08,236.05 L445.13,235.46 L445.19,235.63 L445.24,235.58 L445.30,235.70 L445.35,235.57 L445.40,235.61 L445.46,235.92 L445.51,235.44 L445.57,235.52 L445.62,235.03 L445.68,235.16 L445.73,235.48 L445.79,235.79 L445.84,235.39 L445.89,236.26 L445.95,235.30 L446.00,235.63 L446.06,235.35 L446.11,236.15 L446.17,235.45 L446.22,234.99 L446.28,235.22 L446.33,234.45 L446.38,235.87 L446.44,236.60 L446.49,235.37 L446.55,235.85 L446.60,235.93 L446.66,235.41 L446.71,235.23 L446.76,236.08 L446.82,235.02 L446.87,235.77 L446.93,235.76 L446.98,235.11 L447.04,234.66 L447.09,235.86 L447.15,235.50 L447.20,235.81 L447.25,234.99 L447.31,235.28 L447.36,235.75 L447.42,235.59 L447.47,235.57 L447.53,235.29 L447.58,235.60 L447.64,235.61 L447.69,235.88 L447.74,235.70 L447.80,235.73 L447.85,235.45 L447.91,236.72 L447.96,234.95 L448.02,235.79 L448.07,234.40 L448.12,235.21 L448.18,235.97 L448.23,234.59 L448.29,236.01 L448.34,234.97 L448.40,235.79 L448.45,235.22 L448.51,235.19 L448.56,235.25 L448.61,235.82 L448.67,235.34 L448.72,235.83 L448.78,235.50 L448.83,235.10 L448.89,236.13 L448.94,235.22 L449.00,235.36 L449.05,236.14 L449.10,236.16 L449.16,235.64 L449.21,236.02 L449.27,235.77 L449.32,235.06 L449.38,235.23 L449.43,235.54 L449.48,236.06 L449.54,235.26 L449.59,235.28 L449.65,235.11 L449.70,235.40 L449.76,235.07 L449.81,235.68 L449.87,235.88 L449.92,235.57 L449.97,234.60 L450.03,234.84 L450.08,235.44 L450.14,236.10 L450.19,235.24 L450.25,235.84 L450.30,235.45 L450.36,236.02 L450.41,234.96 L450.46,234.96 L450.52,235.24 L450.57,235.54 L450.63,235.57 L450.68,236.43 L450.74,235.73 L450.79,235.77 L450.84,235.76 L450.90,235.63 L450.95,235.90 L451.01,235.91 L451.06,235.86 L451.12,235.56 L451.17,235.49 L451.23,235.38 L451.28,236.21 L451.33,235.93 L451.39,236.86 L451.44,235.13 L451.50,235.56 L451.55,235.27 L451.61,237.40 L451.66,237.28 L451.72,237.31 L451.77,236.19 L451.82,234.82 L451.88,235.62 L451.93,233.46 L451.99,238.18 L452.04,237.41 L452.10,236.90 L452.15,240.17 L452.20,232.92 L452.26,237.96 L452.31,232.55 L452.37,234.08 L452.42,238.24 L452.48,236.76 L452.53,240.35 L452.59,233.91 L452.64,235.24 L452.69,235.42 L452.75,234.78 L452.80,237.71 L452.86,235.19 L452.91,235.64 L452.97,237.83 L453.02,234.02 L453.08,236.78 L453.13,236.03 L453.18,235.70 L453.24,235.79 L453.29,235.13 L453.35,235.14 L453.40,236.21 L453.46,235.58 L453.51,235.52 L453.56,235.52 L453.62,235.86 L453.67,235.86 L453.73,235.79 L453.78,235.57 L453.84,235.71 L453.89,235.70 L453.95,235.67 L454.00,235.74 L454.05,235.46 L454.11,235.03 L454.16,235.51 L454.22,235.50 L454.27,236.21 L454.33,235.66 L454.38,235.98 L454.44,235.59 L454.49,235.07 L454.54,235.45 L454.60,235.19 L454.65,236.52 L454.71,236.22 L454.76,235.29 L454.82,234.42 L454.87,235.24 L454.92,235.40 L454.98,235.19 L455.03,235.66 L455.09,235.69 L455.14,235.86 L455.20,235.77 L455.25,235.26 L455.31,235.31 L455.36,235.86 L455.41,235.70 L455.47,234.61 L455.52,235.74 L455.58,236.15 L455.63,234.97 L455.69,235.45 L455.74,236.34 L455.80,235.39 L455.85,236.09 L455.90,235.18 L455.96,235.43 L456.01,235.16 L456.07,235.41 L456.12,235.60 L456.18,235.18 L456.23,235.56 L456.28,235.21 L456.34,235.98 L456.39,235.53 L456.45,235.97 L456.50,235.07 L456.56,235.49 L456.61,236.03 L456.67,235.18 L456.72,236.08 L456.77,235.44 L456.83,235.76 L456.88,235.63 L456.94,235.50 L456.99,235.76 L457.05,235.80 L457.10,235.22 L457.16,236.00 L457.21,235.24 L457.26,235.51 L457.32,235.84 L457.37,234.88 L457.43,235.61 L457.48,235.75 L457.54,235.91 L457.59,235.85 L457.64,235.03 L457.70,234.96 L457.75,235.57 L457.81,236.40 L457.86,235.92 L457.92,235.21 L457.97,235.70 L458.03,235.69 L458.08,235.47 L458.13,235.34 L458.19,234.99 L458.24,235.00 L458.30,235.75 L458.35,235.53 L458.41,235.53 L458.46,235.98 L458.52,235.98 L458.57,234.85 L458.62,235.45 L458.68,235.54 L458.73,235.21 L458.79,235.42 L458.84,235.25 L458.90,236.51 L458.95,235.39 L459.00,235.94 L459.06,235.01 L459.11,234.58 L459.17,236.06 L459.22,235.73 L459.28,235.38 L459.33,235.30 L459.39,235.82 L459.44,235.74 L459.49,235.13 L459.55,236.09 L459.60,236.15 L459.66,235.37 L459.71,234.12 L459.77,236.15 L459.82,235.94 L459.88,235.31 L459.93,235.70 L459.98,235.72 L460.04,235.70 L460.09,235.67 L460.15,235.75 L460.20,235.63 L460.26,235.67 L460.31,235.66 L460.36,235.57 L460.42,235.76 L460.47,235.60 L460.53,235.98 L460.58,236.01 L460.64,235.28 L460.69,235.37 L460.75,235.91 L460.80,236.00 L460.85,235.24 L460.91,235.39 L460.96,236.75 L461.02,236.75 L461.07,235.34 L461.13,236.28 L461.18,237.17 L461.24,236.22 L461.29,235.42 L461.34,237.30 L461.40,236.01 L461.45,236.39 L461.51,237.30 L461.56,233.92 L461.62,234.14 L461.67,234.00 L461.72,234.85 L461.78,237.44 L461.83,236.46 L461.89,235.24 L461.94,236.01 L462.00,235.53 L462.05,235.67 L462.11,235.33 L462.16,236.62 L462.21,236.17 L462.27,234.95 L462.32,235.86 L462.38,236.25 L462.43,235.58 L462.49,235.36 L462.54,235.36 L462.60,235.72 L462.65,235.63 L462.70,235.72 L462.76,235.76 L462.81,235.68 L462.87,235.72 L462.92,235.72 L462.98,235.71 L463.03,235.70 L463.08,235.68 L463.14,235.69 L463.19,235.71 L463.25,235.76 L463.30,235.53 L463.36,235.34 L463.41,234.87 L463.47,235.14 L463.52,235.43 L463.57,235.42 L463.63,236.06 L463.68,235.82 L463.74,235.64 L463.79,234.88 L463.85,236.20 L463.90,235.43 L463.96,234.49 L464.01,236.01 L464.06,235.52 L464.12,235.72 L464.17,235.42 L464.23,235.57 L464.28,234.99 L464.34,235.71 L464.39,235.70 L464.44,235.72 L464.50,235.69 L464.55,235.71 L464.61,235.73 L464.66,235.78 L464.72,235.77 L464.77,235.73 L464.83,235.57 L464.88,235.79 L464.93,235.52 L464.99,235.95 L465.04,236.01 L465.10,236.00 L465.15,235.32 L465.21,235.81 L465.26,235.87 L465.32,236.11 L465.37,236.28 L465.42,235.03 L465.48,235.10 L465.53,234.63 L465.59,236.83 L465.64,235.66 L465.70,235.95 L465.75,236.72 L465.80,234.81 L465.86,235.19 L465.91,236.15 L465.97,235.23 L466.02,236.42 L466.08,235.42 L466.13,235.94 L466.19,235.84 L466.24,235.38 L466.29,236.88 L466.35,236.46 L466.40,235.23 L466.46,235.80 L466.51,235.89 L466.57,235.27 L466.62,235.21 L466.68,235.60 L466.73,235.80 L466.78,236.02 L466.84,235.74 L466.89,235.70 L466.95,235.68 L467.00,235.48 L467.06,235.63 L467.11,235.79 L467.16,235.74 L467.22,235.62 L467.27,235.76 L467.33,235.75 L467.38,235.73 L467.44,235.72 L467.49,235.69 L467.55,235.69 L467.60,235.70 L467.65,235.57 L467.71,234.90 L467.76,235.54 L467.82,236.52 L467.87,235.82 L467.93,237.18 L467.98,234.57 L468.04,235.19 L468.09,234.91 L468.14,235.33 L468.20,235.95 L468.25,235.33 L468.31,235.05 L468.36,236.59 L468.42,235.74 L468.47,235.49 L468.52,235.74 L468.58,235.69 L468.63,235.69 L468.69,235.73 L468.74,235.83 L468.80,235.85 L468.85,235.71 L468.91,235.85 L468.96,235.65 L469.01,236.04 L469.07,235.62 L469.12,236.33 L469.18,235.87 L469.23,235.85 L469.29,235.92 L469.34,235.58 L469.40,236.03 L469.45,235.75 L469.50,235.30 L469.56,236.50 L469.61,237.75 L469.67,237.70 L469.72,237.05 L469.78,235.42 L469.83,236.88 L469.88,236.01 L469.94,237.03 L469.99,239.20 L470.05,235.73 L470.10,237.52 L470.16,237.18 L470.21,237.03 L470.27,235.08 L470.32,239.38 L470.37,239.14 L470.43,235.83 L470.48,238.68 L470.54,236.80 L470.59,238.26 L470.65,236.12 L470.70,235.28 L470.76,237.98 L470.81,236.14 L470.86,235.37 L470.92,235.76 L470.97,235.94 L471.03,236.62 L471.08,236.64 L471.14,235.79 L471.19,235.64 L471.24,235.65 L471.30,236.15 L471.35,235.83 L471.41,235.68 L471.46,235.73 L471.52,235.77 L471.57,235.77 L471.63,235.74 L471.68,235.76 L471.73,235.72 L471.79,235.74 L471.84,235.78 L471.90,235.39 L471.95,235.75 L472.01,235.11 L472.06,235.33 L472.12,235.01 L472.17,235.42 L472.22,235.16 L472.28,235.41 L472.33,234.38 L472.39,235.49 L472.44,235.61 L472.50,235.95 L472.55,235.02 L472.60,235.62 L472.66,235.15 L472.71,236.03 L472.77,235.73 L472.82,235.40 L472.88,234.31 L472.93,235.91 L472.99,236.19 L473.04,235.50 L473.09,235.14 L473.15,235.73 L473.20,235.73 L473.26,235.67 L473.31,235.71 L473.37,235.70 L473.42,235.89 L473.48,235.94 L473.53,235.92 L473.58,235.96 L473.64,235.58 L473.69,235.43 L473.75,235.45 L473.80,235.95 L473.86,235.71 L473.91,237.20 L473.96,235.24 L474.02,236.68 L474.07,235.79 L474.13,235.33 L474.18,237.93 L474.24,238.23 L474.29,236.71 L474.35,236.83 L474.40,234.69 L474.45,237.78 L474.51,238.90 L474.56,240.05 L474.62,239.71 L474.67,239.71 L474.73,235.02 L474.78,240.69 L474.84,234.20 L474.89,235.36 L474.94,237.66 L475.00,238.79 L475.05,238.16 L475.11,237.86 L475.16,238.33 L475.22,236.38 L475.27,234.47 L475.32,235.71 L475.38,236.95 L475.43,237.33 L475.49,236.10 L475.54,236.47 L475.60,237.11 L475.65,236.41 L475.71,236.05 L475.76,235.88 L475.81,235.48 L475.87,235.79 L475.92,236.27 L475.98,235.85 L476.03,235.79 L476.09,235.86 L476.14,235.68 L476.20,235.74 L476.25,235.69 L476.30,235.73 L476.36,235.72 L476.41,235.74 L476.47,235.38 L476.52,235.78 L476.58,235.38 L476.63,235.37 L476.68,235.16 L476.74,235.32 L476.79,235.39 L476.85,235.32 L476.90,235.37 L476.96,235.17 L477.01,234.86 L477.07,235.17 L477.12,235.70 L477.17,235.85 L477.23,235.35 L477.28,234.83 L477.34,235.59 L477.39,235.43 L477.45,235.18 L477.50,235.77 L477.56,235.90 L477.61,235.15 L477.66,235.38 L477.72,235.73 L477.77,235.12 L477.83,235.64 L477.88,236.13 L477.94,235.58 L477.99,235.85 L478.04,235.20 L478.10,234.62 L478.15,235.78 L478.21,236.60 L478.26,235.18 L478.32,235.49 L478.37,235.21 L478.43,235.23 L478.48,235.81 L478.53,235.75 L478.59,234.75 L478.64,235.61 L478.70,235.26 L478.75,235.71 L478.81,236.91 L478.86,235.18 L478.92,236.01 L478.97,234.86 L479.02,235.82 L479.08,236.32 L479.13,235.53 L479.19,236.08 L479.24,235.13 L479.30,235.09 L479.35,236.05 L479.40,235.69 L479.46,236.25 L479.51,235.68 L479.57,234.92 L479.62,235.51 L479.68,234.81 L479.73,235.62 L479.79,234.53 L479.84,235.56 L479.89,234.51 L479.95,235.46 L480.00,235.32 L480.06,235.80 L480.11,236.44 L480.17,236.27 L480.22,235.98 L480.28,235.45 L480.33,235.26 L480.38,236.04 L480.44,235.03 L480.49,235.59 L480.55,235.90 L480.60,235.23 L480.66,234.93 L480.71,234.73 L480.76,235.06 L480.82,235.13 L480.87,236.31 L480.93,235.72 L480.98,235.69 L481.04,235.75 L481.09,235.71 L481.15,235.68 L481.20,235.62 L481.25,235.55 L481.31,235.64 L481.36,235.76 L481.42,235.55 L481.47,235.41 L481.53,235.68 L481.58,235.27 L481.64,235.32 L481.69,235.70 L481.74,236.12 L481.80,235.35 L481.85,236.18 L481.91,235.18 L481.96,234.53 L482.02,236.76 L482.07,236.29 L482.12,236.38 L482.18,236.84 L482.23,235.76 L482.29,233.41 L482.34,233.76 L482.40,235.94 L482.45,236.62 L482.51,232.93 L482.56,237.09 L482.61,238.18 L482.67,236.30 L482.72,237.90 L482.78,235.65 L482.83,237.04 L482.89,233.33 L482.94,235.86 L483.00,236.77 L483.05,236.85 L483.10,237.22 L483.16,235.40 L483.21,234.40 L483.27,236.32 L483.32,236.77 L483.38,236.54 L483.43,236.29 L483.48,235.04 L483.54,235.91 L483.59,236.10 L483.65,235.55 L483.70,235.77 L483.76,235.75 L483.81,235.65 L483.87,235.83 L483.92,235.60 L483.97,235.64 L484.03,235.74 L484.08,235.73 L484.14,235.70 L484.19,235.72 L484.25,235.03 L484.30,235.52 L484.36,235.73 L484.41,235.40 L484.46,235.16 L484.52,235.52 L484.57,234.93 L484.63,235.84 L484.68,235.73 L484.74,236.28 L484.79,235.15 L484.84,234.63 L484.90,234.27 L484.95,236.29 L485.01,235.46 L485.06,235.87 L485.12,235.12 L485.17,235.79 L485.23,235.27 L485.28,236.69 L485.33,235.06 L485.39,235.98 L485.44,234.46 L485.50,235.22 L485.55,234.88 L485.61,236.05 L485.66,235.97 L485.72,236.32 L485.77,236.00 L485.82,235.81 L485.88,234.64 L485.93,235.48 L485.99,235.14 L486.04,235.08 L486.10,235.19 L486.15,235.93 L486.20,235.08 L486.26,234.90 L486.31,235.88 L486.37,235.62 L486.42,234.87 L486.48,235.04 L486.53,235.98 L486.59,235.31 L486.64,235.41 L486.69,235.47 L486.75,235.75 L486.80,235.28 L486.86,235.48 L486.91,235.55 L486.97,234.90 L487.02,235.96 L487.08,236.03 L487.13,235.53 L487.18,235.39 L487.24,235.45 L487.29,234.99 L487.35,236.31 L487.40,234.90 L487.46,234.91 L487.51,234.96 L487.56,235.68 L487.62,235.68 L487.67,235.65 L487.73,235.75 L487.78,235.66 L487.84,235.73 L487.89,235.69 L487.95,235.72 L488.00,235.58 L488.05,235.46 L488.11,235.94 L488.16,235.65 L488.22,235.52 L488.27,235.76 L488.33,234.97 L488.38,236.17 L488.44,235.34 L488.49,235.26 L488.54,235.02 L488.60,234.22 L488.65,236.53 L488.71,236.36 L488.76,237.01 L488.82,235.57 L488.87,237.51 L488.92,235.20 L488.98,235.90 L489.03,237.50 L489.09,234.55 L489.14,235.52 L489.20,234.82 L489.25,233.05 L489.31,238.44 L489.36,237.69 L489.41,237.26 L489.47,233.12 L489.52,237.73 L489.58,233.96 L489.63,237.47 L489.69,235.19 L489.74,233.96 L489.80,236.53 L489.85,234.33 L489.90,236.52 L489.96,234.89 L490.01,236.33 L490.07,234.96 L490.12,235.19 L490.18,235.91 L490.23,235.80 L490.28,235.87 L490.34,235.46 L490.39,235.73 L490.45,235.84 L490.50,235.80 L490.56,235.79 L490.61,235.74 L490.67,235.75 L490.72,235.70 L490.77,235.70 L490.83,235.71 L490.88,235.17 L490.94,235.76 L490.99,235.26 L491.05,235.17 L491.10,235.21 L491.16,236.16 L491.21,235.51 L491.26,235.10 L491.32,235.46 L491.37,235.31 L491.43,235.93 L491.48,234.71 L491.54,234.63 L491.59,235.35 L491.64,234.43 L491.70,235.47 L491.75,235.60 L491.81,235.98 L491.86,236.21 L491.92,236.11 L491.97,235.95 L492.03,236.29 L492.08,235.45 L492.13,235.20 L492.19,235.52 L492.24,235.66 L492.30,235.25 L492.35,236.01 L492.41,235.52 L492.46,236.83 L492.52,234.80 L492.57,235.37 L492.62,235.49 L492.68,235.03 L492.73,235.60 L492.79,235.25 L492.84,235.14 L492.90,234.76 L492.95,235.99 L493.00,235.60 L493.06,235.17 L493.11,235.37 L493.17,235.46 L493.22,235.43 L493.28,235.50 L493.33,235.20 L493.39,235.17 L493.44,235.99 L493.49,235.28 L493.55,235.88 L493.60,236.16 L493.66,235.06 L493.71,235.86 L493.77,235.43 L493.82,235.05 L493.88,235.36 L493.93,235.47 L493.98,235.44 L494.04,235.66 L494.09,234.98 L494.15,235.51 L494.20,235.60 L494.26,235.91 L494.31,236.59 L494.36,235.70 L494.42,235.69 L494.47,235.69 L494.53,235.71 L494.58,235.73 L494.64,235.66 L494.69,235.66 L494.75,235.66 L494.80,235.77 L494.85,235.69 L494.91,235.64 L494.96,235.74 L495.02,235.81 L495.07,235.74 L495.13,235.76 L495.18,235.93 L495.24,235.74 L495.29,235.84 L495.34,235.61 L495.40,236.18 L495.45,236.32 L495.51,235.80 L495.56,235.90 L495.62,236.42 L495.67,234.93 L495.72,235.38 L495.78,235.34 L495.83,235.90 L495.89,236.35 L495.94,235.91 L496.00,235.85 L496.05,236.36 L496.11,235.37 L496.16,236.09 L496.21,236.29 L496.27,235.63 L496.32,236.21 L496.38,234.80 L496.43,235.90 L496.49,236.06 L496.54,235.98 L496.60,235.19 L496.65,235.72 L496.70,235.84 L496.76,235.89 L496.81,236.04 L496.87,235.45 L496.92,235.54 L496.98,235.78 L497.03,235.53 L497.08,235.68 L497.14,235.59 L497.19,235.73 L497.25,235.72 L497.30,235.65 L497.36,235.66 L497.41,235.69 L497.47,235.69 L497.52,235.70 L497.57,235.70 L497.63,235.70 L497.68,235.84 L497.74,235.54 L497.79,236.51 L497.85,234.86 L497.90,234.67 L497.96,234.60 L498.01,236.04 L498.06,235.68 L498.12,235.85 L498.17,235.44 L498.23,236.53 L498.28,235.65 L498.34,234.68 L498.39,234.84 L498.44,236.24 L498.50,235.92 L498.55,234.72 L498.61,235.04 L498.66,235.46 L498.72,235.60 L498.77,235.22 L498.83,235.19 L498.88,235.64 L498.93,235.72 L498.99,236.02 L499.04,235.84 L499.10,235.53 L499.15,235.30 L499.21,235.80 L499.26,236.28 L499.32,235.52 L499.37,236.10 L499.42,235.82 L499.48,236.27 L499.53,235.33 L499.59,235.40 L499.64,235.15 L499.70,236.07 L499.75,235.52 L499.80,235.74 L499.86,235.43 L499.91,235.56 L499.97,235.71 L500.02,235.58 L500.08,235.25 L500.13,236.29 L500.19,235.85 L500.24,235.22 L500.29,235.45 L500.35,234.66 L500.40,235.82 L500.46,235.45 L500.51,235.21 L500.57,234.59 L500.62,235.50 L500.68,235.37 L500.73,235.89 L500.78,234.83 L500.84,235.39 L500.89,235.42 L500.95,235.55 L501.00,235.53 L501.06,234.93 L501.11,235.30 L501.16,236.19 L501.22,236.01 L501.27,235.29 L501.33,235.63 L501.38,235.20 L501.44,235.32 L501.49,235.57 L501.55,235.80 L501.60,235.55 L501.65,235.30 L501.71,235.52 L501.76,235.75 L501.82,235.16 L501.87,234.91 L501.93,235.27 L501.98,235.61 L502.04,236.53 L502.09,235.63 L502.14,235.37 L502.20,235.40 L502.25,234.95 L502.31,234.85 L502.36,235.81 L502.42,236.54 L502.47,235.74 L502.52,235.92 L502.58,234.43 L502.63,235.94 L502.69,234.77 L502.74,235.59 L502.80,235.44 L502.85,235.14 L502.91,235.02 L502.96,235.62 L503.01,235.35 L503.07,235.76 L503.12,236.19 L503.18,236.66 L503.23,235.74 L503.29,235.38 L503.34,235.91 L503.40,235.48 L503.45,235.53 L503.50,235.00 L503.56,235.03 L503.61,235.58 L503.67,236.03 L503.72,235.61 L503.78,235.48 L503.83,236.51 L503.88,235.25 L503.94,235.23 L503.99,235.81 L504.05,234.99 L504.10,235.01 L504.16,234.95 L504.21,235.46 L504.27,235.19 L504.32,236.00 L504.37,234.95 L504.43,235.54 L504.48,234.76 L504.54,235.63 L504.59,236.76 L504.65,235.36 L504.70,234.51 L504.76,235.42 L504.81,235.88 L504.86,236.66 L504.92,234.42 L504.97,235.42 L505.03,235.26 L505.08,235.37 L505.14,236.05 L505.19,235.91 L505.24,235.52 L505.30,234.56 L505.35,235.08 L505.41,235.15 L505.46,234.62 L505.52,235.75 L505.57,236.38 L505.63,235.57 L505.68,235.84 L505.73,235.32 L505.79,235.22 L505.84,236.20 L505.90,235.55 L505.95,236.09 L506.01,235.75 L506.06,235.93 L506.12,235.82 L506.17,235.88 L506.22,235.22 L506.28,235.77 L506.33,236.41 L506.39,235.94 L506.44,235.25 L506.50,235.48 L506.55,235.16 L506.60,235.82 L506.66,235.54 L506.71,234.85 L506.77,235.05 L506.82,235.65 L506.88,235.70 L506.93,235.40 L506.99,235.83 L507.04,235.06 L507.09,236.10 L507.15,235.01 L507.20,236.06 L507.26,234.93 L507.31,234.68 L507.37,234.48 L507.42,234.86 L507.48,235.10 L507.53,235.90 L507.58,235.59 L507.64,235.79 L507.69,234.98 L507.75,236.21 L507.80,235.91 L507.86,235.21 L507.91,235.26 L507.96,235.82 L508.02,235.04 L508.07,235.30 L508.13,236.19 L508.18,235.47 L508.24,235.13 L508.29,235.95 L508.35,234.39 L508.40,235.75 L508.45,235.83 L508.51,236.24 L508.56,235.41 L508.62,235.94 L508.67,235.83 L508.73,235.59 L508.78,235.35 L508.84,235.82 L508.89,235.35 L508.94,235.33 L509.00,235.31 L509.05,236.03 L509.11,234.91 L509.16,235.38 L509.22,235.66 L509.27,235.81 L509.32,235.67 L509.38,234.14 L509.43,235.59 L509.49,235.67 L509.54,236.65 L509.60,234.42 L509.65,234.55 L509.71,236.16 L509.76,234.70 L509.81,234.96 L509.87,235.59 L509.92,235.53 L509.98,235.77 L510.03,235.07 L510.09,236.10 L510.14,235.99 L510.20,235.80 L510.25,235.50 L510.30,235.46 L510.36,234.76 L510.41,234.89 L510.47,235.45 L510.52,235.21 L510.58,235.30 L510.63,235.13 L510.68,236.01 L510.74,235.58 L510.79,236.29 L510.85,236.05 L510.90,235.18 L510.96,235.69 L511.01,235.82 L511.07,235.08 L511.12,235.24 L511.17,235.43 L511.23,235.55 L511.28,235.16 L511.34,235.78 L511.39,236.50 L511.45,236.37 L511.50,235.68 L511.56,234.35 L511.61,235.51 L511.66,236.18 L511.72,235.43 L511.77,235.17 L511.83,234.90 L511.88,235.10 L511.94,235.03 L511.99,235.19 L512.04,235.49 L512.10,235.85 L512.15,235.27 L512.21,235.98 L512.26,235.23 L512.32,235.65 L512.37,236.80 L512.43,235.99 L512.48,234.92 L512.53,236.23 L512.59,235.71 L512.64,235.34 L512.70,235.62 L512.75,235.80 L512.81,235.82 L512.86,235.51 L512.92,234.98 L512.97,235.04 L513.02,235.76 L513.08,235.99 L513.13,235.05 L513.19,234.94 L513.24,235.20 L513.30,234.81 L513.35,235.70 L513.40,235.62 L513.46,235.42 L513.51,235.02 L513.57,235.31 L513.62,234.80 L513.68,235.60 L513.73,234.80 L513.79,234.64 L513.84,235.94 L513.89,235.25 L513.95,235.05 L514.00,235.69 L514.06,235.13 L514.11,235.16 L514.17,236.00 L514.22,235.79 L514.28,235.46 L514.33,235.45 L514.38,235.70 L514.44,235.20 L514.49,235.08 L514.55,235.08 L514.60,235.56 L514.66,235.10 L514.71,235.94 L514.76,235.78 L514.82,235.93 L514.87,235.82 L514.93,235.93 L514.98,235.04 L515.04,235.51 L515.09,235.18 L515.15,236.24 L515.20,235.55 L515.25,236.05 L515.31,235.92 L515.36,235.41 L515.42,234.90 L515.47,235.83 L515.53,234.72 L515.58,235.51 L515.64,235.75 L515.69,235.29 L515.74,234.99 L515.80,235.49 L515.85,235.71 L515.91,235.68 L515.96,235.68 L516.02,235.73 L516.07,235.67 L516.12,235.64 L516.18,235.76 L516.23,235.83 L516.29,235.57 L516.34,235.51 L516.40,235.70 L516.45,235.75 L516.51,235.82 L516.56,235.80 L516.61,235.68 L516.67,235.20 L516.72,235.49 L516.78,235.66 L516.83,236.64 L516.89,235.69 L516.94,236.06 L517.00,236.12 L517.05,236.04 L517.10,236.23 L517.16,234.40 L517.21,234.73 L517.27,234.60 L517.32,235.43 L517.38,234.92 L517.43,237.26 L517.48,234.07 L517.54,233.95 L517.59,236.65 L517.65,234.03 L517.70,234.04 L517.76,234.86 L517.81,235.34 L517.87,235.70 L517.92,235.96 L517.97,236.36 L518.03,236.72 L518.08,235.18 L518.14,235.61 L518.19,235.50 L518.25,235.24 L518.30,235.78 L518.36,236.08 L518.41,235.44 L518.46,235.44 L518.52,235.44 L518.57,235.65 L518.63,235.91 L518.68,235.75 L518.74,235.60 L518.79,235.80 L518.84,235.65 L518.90,235.69 L518.95,235.71 L519.01,235.73 L519.06,235.72 L519.12,235.69 L519.17,235.28 L519.23,235.14 L519.28,234.64 L519.33,235.86 L519.39,235.20 L519.44,235.72 L519.50,235.39 L519.55,235.21 L519.61,235.73 L519.66,235.38 L519.72,235.60 L519.77,235.11 L519.82,235.97 L519.88,235.50 L519.93,235.01 L519.99,236.10 L520.04,235.19 L520.10,235.45 L520.15,234.64 L520.20,235.03 L520.26,236.10 L520.31,235.13 L520.37,235.54 L520.42,235.16 L520.48,234.88 L520.53,236.18 L520.59,235.71 L520.64,235.61 L520.69,235.47 L520.75,235.95 L520.80,235.34 L520.86,235.91 L520.91,235.31 L520.97,234.87 L521.02,235.68 L521.08,235.40 L521.13,235.81 L521.18,235.27 L521.24,235.16 L521.29,235.87 L521.35,235.56 L521.40,236.08 L521.46,235.05 L521.51,235.86 L521.56,235.90 L521.62,235.27 L521.67,235.34 L521.73,236.03 L521.78,234.40 L521.84,235.07 L521.89,234.84 L521.95,235.22 L522.00,235.69" stroke="#c7a58b" stroke-width="0.5" fill="none"/>
<line x1="429.80" y1="263.60" x2="429.80" y2="295.50" stroke="#444" stroke-width="1.1"/>
<line x1="427.20" y1="263.60" x2="429.80" y2="263.60" stroke="#444" stroke-width="1"/>
<text x="424.60" y="266.60" font-size="9.6" text-anchor="end">1</text>
<line x1="427.20" y1="279.40" x2="429.80" y2="279.40" stroke="#444" stroke-width="1"/>
<text x="424.60" y="282.40" font-size="9.6" text-anchor="end">0</text>
<line x1="427.20" y1="295.10" x2="429.80" y2="295.10" stroke="#444" stroke-width="1"/>
<text x="424.60" y="298.10" font-size="9.6" text-anchor="end">-1</text>
<line x1="440.20" y1="295.70" x2="522.50" y2="295.70" stroke="#444" stroke-width="1.1"/>
<line x1="440.40" y1="295.70" x2="440.40" y2="298.10" stroke="#444" stroke-width="1"/>
<line x1="460.90" y1="295.70" x2="460.90" y2="298.10" stroke="#444" stroke-width="1"/>
<line x1="481.30" y1="295.70" x2="481.30" y2="298.10" stroke="#444" stroke-width="1"/>
<line x1="501.70" y1="295.70" x2="501.70" y2="298.10" stroke="#444" stroke-width="1"/>
<line x1="522.10" y1="295.70" x2="522.10" y2="298.10" stroke="#444" stroke-width="1"/>
<path d="M440.40,280.25 L440.45,279.34 L440.51,282.16 L440.56,278.08 L440.62,281.20 L440.67,280.24 L440.73,282.99 L440.78,281.35 L440.84,279.84 L440.89,280.90 L440.94,283.09 L441.00,275.38 L441.05,275.64 L441.11,278.30 L441.16,277.54 L441.22,279.15 L441.27,281.37 L441.32,274.69 L441.38,279.23 L441.43,275.24 L441.49,283.13 L441.54,280.55 L441.60,281.10 L441.65,280.72 L441.71,280.46 L441.76,282.45 L441.81,279.68 L441.87,279.48 L441.92,275.80 L441.98,274.60 L442.03,280.60 L442.09,276.68 L442.14,279.76 L442.20,279.64 L442.25,280.15 L442.30,279.10 L442.36,277.40 L442.41,283.36 L442.47,282.76 L442.52,281.00 L442.58,278.48 L442.63,280.38 L442.68,276.21 L442.74,281.99 L442.79,287.48 L442.85,282.91 L442.90,280.92 L442.96,281.93 L443.01,282.28 L443.07,279.29 L443.12,283.59 L443.17,280.29 L443.23,283.26 L443.28,278.49 L443.34,282.81 L443.39,281.06 L443.45,274.94 L443.50,276.66 L443.56,280.31 L443.61,287.81 L443.66,278.81 L443.72,280.42 L443.77,276.59 L443.83,280.24 L443.88,279.32 L443.94,279.30 L443.99,278.47 L444.04,278.30 L444.10,274.74 L444.15,273.97 L444.21,282.06 L444.26,278.70 L444.32,276.61 L444.37,274.52 L444.43,278.39 L444.48,280.64 L444.53,281.79 L444.59,279.84 L444.64,280.49 L444.70,278.47 L444.75,274.13 L444.81,273.17 L444.86,279.36 L444.92,277.16 L444.97,275.86 L445.02,273.45 L445.08,279.36 L445.13,278.99 L445.19,276.70 L445.24,280.11 L445.30,269.88 L445.35,275.17 L445.40,283.47 L445.46,275.78 L445.51,282.32 L445.57,279.78 L445.62,275.64 L445.68,278.96 L445.73,279.85 L445.79,280.86 L445.84,275.74 L445.89,278.22 L445.95,282.08 L446.00,280.27 L446.06,275.80 L446.11,273.45 L446.17,278.15 L446.22,281.54 L446.28,277.45 L446.33,276.24 L446.38,281.57 L446.44,275.66 L446.49,281.40 L446.55,279.87 L446.60,282.12 L446.66,284.37 L446.71,277.89 L446.76,280.54 L446.82,279.80 L446.87,275.13 L446.93,280.73 L446.98,270.47 L447.04,274.23 L447.09,278.73 L447.15,275.12 L447.20,278.30 L447.25,281.05 L447.31,278.75 L447.36,280.19 L447.42,272.75 L447.47,277.48 L447.53,280.22 L447.58,274.77 L447.64,278.03 L447.69,280.69 L447.74,280.87 L447.80,281.12 L447.85,279.39 L447.91,269.37 L447.96,284.70 L448.02,279.79 L448.07,277.14 L448.12,282.89 L448.18,284.43 L448.23,272.93 L448.29,281.62 L448.34,281.51 L448.40,272.64 L448.45,281.65 L448.51,282.88 L448.56,278.99 L448.61,280.73 L448.67,278.03 L448.72,280.69 L448.78,279.96 L448.83,279.77 L448.89,277.72 L448.94,275.57 L449.00,283.46 L449.05,278.97 L449.10,278.02 L449.16,276.42 L449.21,276.76 L449.27,281.15 L449.32,277.97 L449.38,275.00 L449.43,284.88 L449.48,277.22 L449.54,278.60 L449.59,278.42 L449.65,283.74 L449.70,277.17 L449.76,277.87 L449.81,277.38 L449.87,278.77 L449.92,275.21 L449.97,278.90 L450.03,280.16 L450.08,279.04 L450.14,276.58 L450.19,277.26 L450.25,277.76 L450.30,277.12 L450.36,285.88 L450.41,279.35 L450.46,279.85 L450.52,281.86 L450.57,280.90 L450.63,276.46 L450.68,277.37 L450.74,278.87 L450.79,275.78 L450.84,269.36 L450.90,274.51 L450.95,277.80 L451.01,277.51 L451.06,273.59 L451.12,282.81 L451.17,281.79 L451.23,279.95 L451.28,280.56 L451.33,281.29 L451.39,275.01 L451.44,280.05 L451.50,276.02 L451.55,280.91 L451.61,284.63 L451.66,278.73 L451.72,280.00 L451.77,283.29 L451.82,268.31 L451.88,275.45 L451.93,275.22 L451.99,282.98 L452.04,277.31 L452.10,276.89 L452.15,280.87 L452.20,282.72 L452.26,278.26 L452.31,277.29 L452.37,278.90 L452.42,276.16 L452.48,281.86 L452.53,278.31 L452.59,283.49 L452.64,277.53 L452.69,277.41 L452.75,274.77 L452.80,280.85 L452.86,275.39 L452.91,280.89 L452.97,282.38 L453.02,278.57 L453.08,280.76 L453.13,281.54 L453.18,281.68 L453.24,277.89 L453.29,278.85 L453.35,276.76 L453.40,278.51 L453.46,276.00 L453.51,274.77 L453.56,281.61 L453.62,275.20 L453.67,275.57 L453.73,277.91 L453.78,282.04 L453.84,273.87 L453.89,280.64 L453.95,281.67 L454.00,281.27 L454.05,278.87 L454.11,272.39 L454.16,277.62 L454.22,278.99 L454.27,275.70 L454.33,281.25 L454.38,279.88 L454.44,283.20 L454.49,277.20 L454.54,284.48 L454.60,278.51 L454.65,282.05 L454.71,281.93 L454.76,277.46 L454.82,282.62 L454.87,278.73 L454.92,281.10 L454.98,280.50 L455.03,280.61 L455.09,271.58 L455.14,274.63 L455.20,281.68 L455.25,283.74 L455.31,280.79 L455.36,278.32 L455.41,279.10 L455.47,281.31 L455.52,276.44 L455.58,282.80 L455.63,278.34 L455.69,277.82 L455.74,279.76 L455.80,278.13 L455.85,280.43 L455.90,276.67 L455.96,278.28 L456.01,271.20 L456.07,279.96 L456.12,280.45 L456.18,272.50 L456.23,278.89 L456.28,274.98 L456.34,277.26 L456.39,276.40 L456.45,275.83 L456.50,280.06 L456.56,277.79 L456.61,279.82 L456.67,276.59 L456.72,279.10 L456.77,283.56 L456.83,280.47 L456.88,279.92 L456.94,279.26 L456.99,274.90 L457.05,283.11 L457.10,285.03 L457.16,275.57 L457.21,280.18 L457.26,279.08 L457.32,280.42 L457.37,278.59 L457.43,277.20 L457.48,278.96 L457.54,278.46 L457.59,281.09 L457.64,274.19 L457.70,283.47 L457.75,274.23 L457.81,279.61 L457.86,278.95 L457.92,280.25 L457.97,282.20 L458.03,281.09 L458.08,284.63 L458.13,279.72 L458.19,274.86 L458.24,279.86 L458.30,280.13 L458.35,282.73 L458.41,280.29 L458.46,278.49 L458.52,281.89 L458.57,280.93 L458.62,281.53 L458.68,277.67 L458.73,276.18 L458.79,279.24 L458.84,282.80 L458.90,282.39 L458.95,276.49 L459.00,288.03 L459.06,281.12 L459.11,278.85 L459.17,280.42 L459.22,275.77 L459.28,279.02 L459.33,283.58 L459.39,277.84 L459.44,279.70 L459.49,281.15 L459.55,274.90 L459.60,280.26 L459.66,283.73 L459.71,278.00 L459.77,279.07 L459.82,285.35 L459.88,278.84 L459.93,276.45 L459.98,276.58 L460.04,274.07 L460.09,280.53 L460.15,282.52 L460.20,281.92 L460.26,281.32 L460.31,282.81 L460.36,278.99 L460.42,279.87 L460.47,279.23 L460.53,274.64 L460.58,282.51 L460.64,273.82 L460.69,272.57 L460.75,272.95 L460.80,284.86 L460.85,279.17 L460.91,284.60 L460.96,280.59 L461.02,284.29 L461.07,280.74 L461.13,277.56 L461.18,279.69 L461.24,275.05 L461.29,274.94 L461.34,280.25 L461.40,278.48 L461.45,278.47 L461.51,278.62 L461.56,277.49 L461.62,280.44 L461.67,280.31 L461.72,285.01 L461.78,279.87 L461.83,279.32 L461.89,286.85 L461.94,277.10 L462.00,282.10 L462.05,276.21 L462.11,283.13 L462.16,287.51 L462.21,271.21 L462.27,277.62 L462.32,274.51 L462.38,272.38 L462.43,278.70 L462.49,278.28 L462.54,280.79 L462.60,283.58 L462.65,279.98 L462.70,271.21 L462.76,277.11 L462.81,284.23 L462.87,287.75 L462.92,280.97 L462.98,274.45 L463.03,280.05 L463.08,278.31 L463.14,279.42 L463.19,276.85 L463.25,282.60 L463.30,280.87 L463.36,282.35 L463.41,281.09 L463.47,280.28 L463.52,280.72 L463.57,278.31 L463.63,279.56 L463.68,277.44 L463.74,284.92 L463.79,279.77 L463.85,278.94 L463.90,274.67 L463.96,273.32 L464.01,276.57 L464.06,280.37 L464.12,279.80 L464.17,279.66 L464.23,281.70 L464.28,283.20 L464.34,279.61 L464.39,280.87 L464.44,282.26 L464.50,279.70 L464.55,279.83 L464.61,273.46 L464.66,286.16 L464.72,278.26 L464.77,281.00 L464.83,284.79 L464.88,283.07 L464.93,286.15 L464.99,284.02 L465.04,275.42 L465.10,283.94 L465.15,276.04 L465.21,280.42 L465.26,280.42 L465.32,268.53 L465.37,280.59 L465.42,280.84 L465.48,278.46 L465.53,280.55 L465.59,283.41 L465.64,279.15 L465.70,282.99 L465.75,279.32 L465.80,285.27 L465.86,277.23 L465.91,283.56 L465.97,276.81 L466.02,277.98 L466.08,278.96 L466.13,285.23 L466.19,274.61 L466.24,283.18 L466.29,281.21 L466.35,279.41 L466.40,274.95 L466.46,277.97 L466.51,285.65 L466.57,277.71 L466.62,271.96 L466.68,278.09 L466.73,281.37 L466.78,276.56 L466.84,281.97 L466.89,282.35 L466.95,279.24 L467.00,278.56 L467.06,282.29 L467.11,277.22 L467.16,283.65 L467.22,287.49 L467.27,275.24 L467.33,280.79 L467.38,276.48 L467.44,278.82 L467.49,277.24 L467.55,280.15 L467.60,279.41 L467.65,276.11 L467.71,281.57 L467.76,282.67 L467.82,280.13 L467.87,285.83 L467.93,277.92 L467.98,277.24 L468.04,274.09 L468.09,281.47 L468.14,280.48 L468.20,283.17 L468.25,280.87 L468.31,280.16 L468.36,277.10 L468.42,281.68 L468.47,281.06 L468.52,279.00 L468.58,274.00 L468.63,276.88 L468.69,277.95 L468.74,279.56 L468.80,275.32 L468.85,283.70 L468.91,275.72 L468.96,275.68 L469.01,280.05 L469.07,278.93 L469.12,275.61 L469.18,281.54 L469.23,283.65 L469.29,282.81 L469.34,276.99 L469.40,284.56 L469.45,276.59 L469.50,280.22 L469.56,283.54 L469.61,278.09 L469.67,276.80 L469.72,281.62 L469.78,280.83 L469.83,275.68 L469.88,279.52 L469.94,273.92 L469.99,280.69 L470.05,273.74 L470.10,278.26 L470.16,284.24 L470.21,285.12 L470.27,282.63 L470.32,272.10 L470.37,280.50 L470.43,277.31 L470.48,280.45 L470.54,277.73 L470.59,269.31 L470.65,279.21 L470.70,279.97 L470.76,278.08 L470.81,279.42 L470.86,280.49 L470.92,279.18 L470.97,273.71 L471.03,281.27 L471.08,275.44 L471.14,282.02 L471.19,282.55 L471.24,277.63 L471.30,273.93 L471.35,283.53 L471.41,283.72 L471.46,276.78 L471.52,280.58 L471.57,278.21 L471.63,281.30 L471.68,278.67 L471.73,275.76 L471.79,274.52 L471.84,279.20 L471.90,280.04 L471.95,273.15 L472.01,276.49 L472.06,282.81 L472.12,281.05 L472.17,281.23 L472.22,279.68 L472.28,285.53 L472.33,276.83 L472.39,278.99 L472.44,275.85 L472.50,277.27 L472.55,278.21 L472.60,276.74 L472.66,271.65 L472.71,277.85 L472.77,281.91 L472.82,278.48 L472.88,275.00 L472.93,276.26 L472.99,278.93 L473.04,280.27 L473.09,279.40 L473.15,275.98 L473.20,276.63 L473.26,277.16 L473.31,277.99 L473.37,275.17 L473.42,281.56 L473.48,278.05 L473.53,279.67 L473.58,275.66 L473.64,280.77 L473.69,276.06 L473.75,280.12 L473.80,277.04 L473.86,277.47 L473.91,274.11 L473.96,278.23 L474.02,275.88 L474.07,273.00 L474.13,286.57 L474.18,284.95 L474.24,280.54 L474.29,280.65 L474.35,274.10 L474.40,278.63 L474.45,277.43 L474.51,281.72 L474.56,282.52 L474.62,277.16 L474.67,275.96 L474.73,277.66 L474.78,273.31 L474.84,271.66 L474.89,278.51 L474.94,281.86 L475.00,280.38 L475.05,277.88 L475.11,279.40 L475.16,280.59 L475.22,276.06 L475.27,282.01 L475.32,279.11 L475.38,275.81 L475.43,274.77 L475.49,285.97 L475.54,280.53 L475.60,284.08 L475.65,276.31 L475.71,281.79 L475.76,281.74 L475.81,283.07 L475.87,284.30 L475.92,283.06 L475.98,281.47 L476.03,280.01 L476.09,282.98 L476.14,274.96 L476.20,279.37 L476.25,279.65 L476.30,280.95 L476.36,279.52 L476.41,280.04 L476.47,276.45 L476.52,277.41 L476.58,281.01 L476.63,279.32 L476.68,278.01 L476.74,275.94 L476.79,278.99 L476.85,281.25 L476.90,280.13 L476.96,279.07 L477.01,278.45 L477.07,282.55 L477.12,278.84 L477.17,280.10 L477.23,269.48 L477.28,270.95 L477.34,280.30 L477.39,278.57 L477.45,279.81 L477.50,279.87 L477.56,274.62 L477.61,281.42 L477.66,275.32 L477.72,281.89 L477.77,278.53 L477.83,277.37 L477.88,280.01 L477.94,277.49 L477.99,279.11 L478.04,282.20 L478.10,276.72 L478.15,279.64 L478.21,275.84 L478.26,278.36 L478.32,283.83 L478.37,281.64 L478.43,278.47 L478.48,281.45 L478.53,274.74 L478.59,280.32 L478.64,277.91 L478.70,279.46 L478.75,279.39 L478.81,272.28 L478.86,284.55 L478.92,275.32 L478.97,278.96 L479.02,278.70 L479.08,280.97 L479.13,284.04 L479.19,283.92 L479.24,278.92 L479.30,280.57 L479.35,276.81 L479.40,280.57 L479.46,280.79 L479.51,280.40 L479.57,282.78 L479.62,280.39 L479.68,279.54 L479.73,275.15 L479.79,278.61 L479.84,284.00 L479.89,279.67 L479.95,279.92 L480.00,278.64 L480.06,281.01 L480.11,275.54 L480.17,276.97 L480.22,281.77 L480.28,278.37 L480.33,280.21 L480.38,280.93 L480.44,279.24 L480.49,273.76 L480.55,280.66 L480.60,270.92 L480.66,281.22 L480.71,282.33 L480.76,281.15 L480.82,280.30 L480.87,274.08 L480.93,274.36 L480.98,277.14 L481.04,279.56 L481.09,278.46 L481.15,275.50 L481.20,280.80 L481.25,279.63 L481.31,282.44 L481.36,282.67 L481.42,278.23 L481.47,276.78 L481.53,282.17 L481.58,279.71 L481.64,279.14 L481.69,278.62 L481.74,274.71 L481.80,279.49 L481.85,282.46 L481.91,284.17 L481.96,284.07 L482.02,278.82 L482.07,282.55 L482.12,275.72 L482.18,276.92 L482.23,280.31 L482.29,279.85 L482.34,279.89 L482.40,281.25 L482.45,281.35 L482.51,279.12 L482.56,276.38 L482.61,275.65 L482.67,271.52 L482.72,280.75 L482.78,283.47 L482.83,278.97 L482.89,276.12 L482.94,279.47 L483.00,278.31 L483.05,276.80 L483.10,276.95 L483.16,280.25 L483.21,279.68 L483.27,279.07 L483.32,276.98 L483.38,278.53 L483.43,270.38 L483.48,274.92 L483.54,279.57 L483.59,280.48 L483.65,277.52 L483.70,278.63 L483.76,278.14 L483.81,280.97 L483.87,274.74 L483.92,283.57 L483.97,281.40 L484.03,281.19 L484.08,281.55 L484.14,274.38 L484.19,285.06 L484.25,273.44 L484.30,282.76 L484.36,284.97 L484.41,280.14 L484.46,281.65 L484.52,275.98 L484.57,274.10 L484.63,280.37 L484.68,276.91 L484.74,282.33 L484.79,280.27 L484.84,279.43 L484.90,280.32 L484.95,280.14 L485.01,279.66 L485.06,283.85 L485.12,277.87 L485.17,282.43 L485.23,278.73 L485.28,279.68 L485.33,281.64 L485.39,274.94 L485.44,282.61 L485.50,283.32 L485.55,276.17 L485.61,279.45 L485.66,275.75 L485.72,277.17 L485.77,282.23 L485.82,279.37 L485.88,279.17 L485.93,280.35 L485.99,283.10 L486.04,277.03 L486.10,271.48 L486.15,278.60 L486.20,278.41 L486.26,281.38 L486.31,279.32 L486.37,280.71 L486.42,282.88 L486.48,275.54 L486.53,276.95 L486.59,278.34 L486.64,278.50 L486.69,276.32 L486.75,277.85 L486.80,280.71 L486.86,280.03 L486.91,280.66 L486.97,281.04 L487.02,282.49 L487.08,277.63 L487.13,277.24 L487.18,276.45 L487.24,277.69 L487.29,280.85 L487.35,279.64 L487.40,276.60 L487.46,278.50 L487.51,272.98 L487.56,272.63 L487.62,281.53 L487.67,278.57 L487.73,282.78 L487.78,279.51 L487.84,279.53 L487.89,281.35 L487.95,278.35 L488.00,284.57 L488.05,282.48 L488.11,279.65 L488.16,283.09 L488.22,274.90 L488.27,279.58 L488.33,275.67 L488.38,277.64 L488.44,276.98 L488.49,280.64 L488.54,277.15 L488.60,279.66 L488.65,276.72 L488.71,280.30 L488.76,277.80 L488.82,281.89 L488.87,279.44 L488.92,280.71 L488.98,278.72 L489.03,277.51 L489.09,278.04 L489.14,282.39 L489.20,272.36 L489.25,279.75 L489.31,282.29 L489.36,279.47 L489.41,279.59 L489.47,275.31 L489.52,281.24 L489.58,275.80 L489.63,275.13 L489.69,280.56 L489.74,281.01 L489.80,277.05 L489.85,281.84 L489.90,278.72 L489.96,278.32 L490.01,279.36 L490.07,284.31 L490.12,283.40 L490.18,272.16 L490.23,278.72 L490.28,273.29 L490.34,277.82 L490.39,273.72 L490.45,283.68 L490.50,276.61 L490.56,281.04 L490.61,276.99 L490.67,278.65 L490.72,278.81 L490.77,281.75 L490.83,283.09 L490.88,275.24 L490.94,280.84 L490.99,279.68 L491.05,275.68 L491.10,271.43 L491.16,278.34 L491.21,279.89 L491.26,281.69 L491.32,269.80 L491.37,278.82 L491.43,278.08 L491.48,280.03 L491.54,280.16 L491.59,278.17 L491.64,282.80 L491.70,280.48 L491.75,280.40 L491.81,277.25 L491.86,275.55 L491.92,280.34 L491.97,278.03 L492.03,280.67 L492.08,277.34 L492.13,278.35 L492.19,281.75 L492.24,276.51 L492.30,281.30 L492.35,276.71 L492.41,270.23 L492.46,280.36 L492.52,277.28 L492.57,288.81 L492.62,281.80 L492.68,278.97 L492.73,277.04 L492.79,281.89 L492.84,283.01 L492.90,280.88 L492.95,272.00 L493.00,280.66 L493.06,276.17 L493.11,279.26 L493.17,274.72 L493.22,277.41 L493.28,279.64 L493.33,275.95 L493.39,275.67 L493.44,276.68 L493.49,273.00 L493.55,280.20 L493.60,278.27 L493.66,268.28 L493.71,281.38 L493.77,276.87 L493.82,275.80 L493.88,270.55 L493.93,276.27 L493.98,278.16 L494.04,278.38 L494.09,283.42 L494.15,279.17 L494.20,278.40 L494.26,283.06 L494.31,279.33 L494.36,282.75 L494.42,280.30 L494.47,280.22 L494.53,277.57 L494.58,283.39 L494.64,282.87 L494.69,277.08 L494.75,280.58 L494.80,286.95 L494.85,281.05 L494.91,275.58 L494.96,278.70 L495.02,283.12 L495.07,276.38 L495.13,286.38 L495.18,277.34 L495.24,281.70 L495.29,279.61 L495.34,278.90 L495.40,284.07 L495.45,276.16 L495.51,274.37 L495.56,281.58 L495.62,275.18 L495.67,280.86 L495.72,276.97 L495.78,277.88 L495.83,276.11 L495.89,280.19 L495.94,277.80 L496.00,281.63 L496.05,279.22 L496.11,278.63 L496.16,277.97 L496.21,280.64 L496.27,282.01 L496.32,282.77 L496.38,281.75 L496.43,283.96 L496.49,279.76 L496.54,285.02 L496.60,276.03 L496.65,280.07 L496.70,278.60 L496.76,281.55 L496.81,279.08 L496.87,276.24 L496.92,276.30 L496.98,276.20 L497.03,283.62 L497.08,276.99 L497.14,274.83 L497.19,280.15 L497.25,277.92 L497.30,280.21 L497.36,283.74 L497.41,277.13 L497.47,279.42 L497.52,277.20 L497.57,282.38 L497.63,277.27 L497.68,282.29 L497.74,281.38 L497.79,281.90 L497.85,283.72 L497.90,278.45 L497.96,275.16 L498.01,281.56 L498.06,284.83 L498.12,279.41 L498.17,278.93 L498.23,283.37 L498.28,275.57 L498.34,277.62 L498.39,279.72 L498.44,274.55 L498.50,276.09 L498.55,278.84 L498.61,282.74 L498.66,280.54 L498.72,280.07 L498.77,281.27 L498.83,278.92 L498.88,281.42 L498.93,273.02 L498.99,280.71 L499.04,277.83 L499.10,281.19 L499.15,274.17 L499.21,277.65 L499.26,275.15 L499.32,278.54 L499.37,284.59 L499.42,278.54 L499.48,278.65 L499.53,275.33 L499.59,278.55 L499.64,276.81 L499.70,277.14 L499.75,284.58 L499.80,282.05 L499.86,278.27 L499.91,273.55 L499.97,275.60 L500.02,281.95 L500.08,278.54 L500.13,279.16 L500.19,280.04 L500.24,280.08 L500.29,281.23 L500.35,277.28 L500.40,277.64 L500.46,279.97 L500.51,277.38 L500.57,277.29 L500.62,277.49 L500.68,282.48 L500.73,274.64 L500.78,274.76 L500.84,279.94 L500.89,279.33 L500.95,271.41 L501.00,273.92 L501.06,277.61 L501.11,276.81 L501.16,278.12 L501.22,278.45 L501.27,276.31 L501.33,279.23 L501.38,279.41 L501.44,275.69 L501.49,285.06 L501.55,277.21 L501.60,285.15 L501.65,278.97 L501.71,285.22 L501.76,279.35 L501.82,278.31 L501.87,276.22 L501.93,278.32 L501.98,279.62 L502.04,282.85 L502.09,274.49 L502.14,278.59 L502.20,277.46 L502.25,278.72 L502.31,283.68 L502.36,282.16 L502.42,281.08 L502.47,275.68 L502.52,278.78 L502.58,276.20 L502.63,280.15 L502.69,277.66 L502.74,277.08 L502.80,273.53 L502.85,277.94 L502.91,285.02 L502.96,276.16 L503.01,274.75 L503.07,278.87 L503.12,281.25 L503.18,279.42 L503.23,281.89 L503.29,283.07 L503.34,280.77 L503.40,282.45 L503.45,279.64 L503.50,277.89 L503.56,280.46 L503.61,284.78 L503.67,277.72 L503.72,281.42 L503.78,279.14 L503.83,275.78 L503.88,281.51 L503.94,278.53 L503.99,279.24 L504.05,280.55 L504.10,284.20 L504.16,283.03 L504.21,278.65 L504.27,278.79 L504.32,272.85 L504.37,274.35 L504.43,274.40 L504.48,284.46 L504.54,278.25 L504.59,280.49 L504.65,275.64 L504.70,280.42 L504.76,276.25 L504.81,284.63 L504.86,274.91 L504.92,277.65 L504.97,278.56 L505.03,273.92 L505.08,274.87 L505.14,280.72 L505.19,279.67 L505.24,280.83 L505.30,280.12 L505.35,282.13 L505.41,275.57 L505.46,281.88 L505.52,272.23 L505.57,283.35 L505.63,281.38 L505.68,281.38 L505.73,276.12 L505.79,277.11 L505.84,279.59 L505.90,279.90 L505.95,278.87 L506.01,276.80 L506.06,274.12 L506.12,272.27 L506.17,276.76 L506.22,281.73 L506.28,280.06 L506.33,279.81 L506.39,281.75 L506.44,278.14 L506.50,277.52 L506.55,284.85 L506.60,274.45 L506.66,280.27 L506.71,280.88 L506.77,276.97 L506.82,284.75 L506.88,278.99 L506.93,282.08 L506.99,282.49 L507.04,275.18 L507.09,279.26 L507.15,271.78 L507.20,280.06 L507.26,286.36 L507.31,273.11 L507.37,277.86 L507.42,277.89 L507.48,279.41 L507.53,282.86 L507.58,274.94 L507.64,281.67 L507.69,279.84 L507.75,278.85 L507.80,279.32 L507.86,277.71 L507.91,278.17 L507.96,280.01 L508.02,278.74 L508.07,283.28 L508.13,277.22 L508.18,281.51 L508.24,281.35 L508.29,273.52 L508.35,280.52 L508.40,278.90 L508.45,277.47 L508.51,279.08 L508.56,283.16 L508.62,279.18 L508.67,283.82 L508.73,282.67 L508.78,278.75 L508.84,284.08 L508.89,280.49 L508.94,276.64 L509.00,278.35 L509.05,277.17 L509.11,269.22 L509.16,277.09 L509.22,277.23 L509.27,278.73 L509.32,282.02 L509.38,283.53 L509.43,277.31 L509.49,279.21 L509.54,277.63 L509.60,282.22 L509.65,280.92 L509.71,281.71 L509.76,276.23 L509.81,281.15 L509.87,273.95 L509.92,285.54 L509.98,273.85 L510.03,284.25 L510.09,278.72 L510.14,279.46 L510.20,281.82 L510.25,279.72 L510.30,275.08 L510.36,279.95 L510.41,281.09 L510.47,278.04 L510.52,280.37 L510.58,275.07 L510.63,281.62 L510.68,278.26 L510.74,277.05 L510.79,279.70 L510.85,276.85 L510.90,282.83 L510.96,284.63 L511.01,280.33 L511.07,275.59 L511.12,283.88 L511.17,280.11 L511.23,282.43 L511.28,277.91 L511.34,281.50 L511.39,274.41 L511.45,278.95 L511.50,281.35 L511.56,275.58 L511.61,282.60 L511.66,276.07 L511.72,283.31 L511.77,281.00 L511.83,282.43 L511.88,277.24 L511.94,281.53 L511.99,276.40 L512.04,276.11 L512.10,274.42 L512.15,281.00 L512.21,283.90 L512.26,282.48 L512.32,280.71 L512.37,279.33 L512.43,285.16 L512.48,276.21 L512.53,279.35 L512.59,276.58 L512.64,279.34 L512.70,277.07 L512.75,280.54 L512.81,276.38 L512.86,278.76 L512.92,277.60 L512.97,282.13 L513.02,278.50 L513.08,280.06 L513.13,277.75 L513.19,280.16 L513.24,283.35 L513.30,281.91 L513.35,285.38 L513.40,268.92 L513.46,280.08 L513.51,282.12 L513.57,280.75 L513.62,286.68 L513.68,277.94 L513.73,279.79 L513.79,284.33 L513.84,275.76 L513.89,278.89 L513.95,283.05 L514.00,277.59 L514.06,280.36 L514.11,281.29 L514.17,276.74 L514.22,280.83 L514.28,279.01 L514.33,279.50 L514.38,280.45 L514.44,278.88 L514.49,280.93 L514.55,285.40 L514.60,278.64 L514.66,279.59 L514.71,278.08 L514.76,281.42 L514.82,270.59 L514.87,280.09 L514.93,279.90 L514.98,280.76 L515.04,276.42 L515.09,284.58 L515.15,277.94 L515.20,281.36 L515.25,280.10 L515.31,278.46 L515.36,281.72 L515.42,278.73 L515.47,277.22 L515.53,285.51 L515.58,274.80 L515.64,282.62 L515.69,279.45 L515.74,277.66 L515.80,282.84 L515.85,283.74 L515.91,282.21 L515.96,277.76 L516.02,281.95 L516.07,279.16 L516.12,283.32 L516.18,276.05 L516.23,280.34 L516.29,278.18 L516.34,280.57 L516.40,278.07 L516.45,279.07 L516.51,279.65 L516.56,280.31 L516.61,280.18 L516.67,278.46 L516.72,278.71 L516.78,278.94 L516.83,278.07 L516.89,276.18 L516.94,279.00 L517.00,269.11 L517.05,281.15 L517.10,281.30 L517.16,279.28 L517.21,276.13 L517.27,283.35 L517.32,280.39 L517.38,279.47 L517.43,283.47 L517.48,278.18 L517.54,280.52 L517.59,279.48 L517.65,278.46 L517.70,280.08 L517.76,274.96 L517.81,279.83 L517.87,279.85 L517.92,276.37 L517.97,280.27 L518.03,276.37 L518.08,279.78 L518.14,276.87 L518.19,274.36 L518.25,281.93 L518.30,277.34 L518.36,279.68 L518.41,280.47 L518.46,286.08 L518.52,282.40 L518.57,281.54 L518.63,282.03 L518.68,281.89 L518.74,277.55 L518.79,281.55 L518.84,268.68 L518.90,280.27 L518.95,277.86 L519.01,285.10 L519.06,281.63 L519.12,279.83 L519.17,284.53 L519.23,277.93 L519.28,285.68 L519.33,279.42 L519.39,275.44 L519.44,279.65 L519.50,282.21 L519.55,283.89 L519.61,275.17 L519.66,287.18 L519.72,279.41 L519.77,278.28 L519.82,276.71 L519.88,281.53 L519.93,283.84 L519.99,284.03 L520.04,278.71 L520.10,280.63 L520.15,278.00 L520.20,279.69 L520.26,280.96 L520.31,277.38 L520.37,279.84 L520.42,275.01 L520.48,277.29 L520.53,272.36 L520.59,280.90 L520.64,280.39 L520.69,280.04 L520.75,278.30 L520.80,276.66 L520.86,270.22 L520.91,279.80 L520.97,281.97 L521.02,279.63 L521.08,278.16 L521.13,276.82 L521.18,278.36 L521.24,274.45 L521.29,280.99 L521.35,280.23 L521.40,284.63 L521.46,276.72 L521.51,277.07 L521.56,280.14 L521.62,281.40 L521.67,277.84 L521.73,277.35 L521.78,270.02 L521.84,278.49 L521.89,284.64 L521.95,281.78 L522.00,280.98" stroke="#b0c7d8" stroke-width="0.5" fill="none"/>
<text x="440.40" y="309.30" font-size="9.4" text-anchor="middle">0</text>
<text x="460.90" y="309.30" font-size="9.4" text-anchor="middle">125</text>
<text x="481.30" y="309.30" font-size="9.4" text-anchor="middle">250</text>
<text x="501.70" y="309.30" font-size="9.4" text-anchor="middle">375</text>
<text x="522.10" y="309.30" font-size="9.4" text-anchor="middle">500</text>
<text x="478.20" y="323.90" font-size="9.6" text-anchor="middle" textLength="36.3" lengthAdjust="spacingAndGlyphs">Time (S)</text>
<text x="541.10" y="239.80" font-size="9.6" text-anchor="middle" textLength="82" lengthAdjust="spacingAndGlyphs" transform="rotate(-90 541.10 239.80)">Average Amplitude</text>
<line x1="569.30" y1="176.90" x2="569.30" y2="208.40" stroke="#444" stroke-width="1.1"/>
<line x1="568.80" y1="207.90" x2="671.00" y2="207.90" stroke="#444" stroke-width="1.1"/>
<line x1="566.60" y1="191.30" x2="569.30" y2="191.30" stroke="#444" stroke-width="1"/>
<text x="565.00" y="192.80" font-size="9.6" text-anchor="end">0.01</text>
<line x1="566.60" y1="206.60" x2="569.30" y2="206.60" stroke="#444" stroke-width="1"/>
<text x="565.00" y="209.50" font-size="9.6" text-anchor="end">0.00</text>
<line x1="572.30" y1="207.90" x2="572.30" y2="210.50" stroke="#444" stroke-width="1"/>
<line x1="594.70" y1="207.90" x2="594.70" y2="210.50" stroke="#444" stroke-width="1"/>
<line x1="617.10" y1="207.90" x2="617.10" y2="210.50" stroke="#444" stroke-width="1"/>
<line x1="639.40" y1="207.90" x2="639.40" y2="210.50" stroke="#444" stroke-width="1"/>
<line x1="661.80" y1="207.90" x2="661.80" y2="210.50" stroke="#444" stroke-width="1"/>
<line x1="569.30" y1="219.60" x2="569.30" y2="251.50" stroke="#444" stroke-width="1.1"/>
<line x1="568.80" y1="251.00" x2="671.00" y2="251.00" stroke="#444" stroke-width="1.1"/>
<line x1="566.60" y1="223.50" x2="569.30" y2="223.50" stroke="#444" stroke-width="1"/>
<text x="565.00" y="225.40" font-size="9.6" text-anchor="end">0.01</text>
<line x1="566.60" y1="249.20" x2="569.30" y2="249.20" stroke="#444" stroke-width="1"/>
<text x="565.00" y="251.80" font-size="9.6" text-anchor="end">0.00</text>
<line x1="572.30" y1="251.00" x2="572.30" y2="253.60" stroke="#444" stroke-width="1"/>
<line x1="594.70" y1="251.00" x2="594.70" y2="253.60" stroke="#444" stroke-width="1"/>
<line x1="617.10" y1="251.00" x2="617.10" y2="253.60" stroke="#444" stroke-width="1"/>
<line x1="639.40" y1="251.00" x2="639.40" y2="253.60" stroke="#444" stroke-width="1"/>
<line x1="661.80" y1="251.00" x2="661.80" y2="253.60" stroke="#444" stroke-width="1"/>
<line x1="569.30" y1="263.50" x2="569.30" y2="295.80" stroke="#444" stroke-width="1.1"/>
<line x1="568.80" y1="295.30" x2="671.00" y2="295.30" stroke="#444" stroke-width="1.1"/>
<line x1="566.60" y1="266.30" x2="569.30" y2="266.30" stroke="#444" stroke-width="1"/>
<text x="565.00" y="268.00" font-size="9.6" text-anchor="end">0.02</text>
<line x1="566.60" y1="292.80" x2="569.30" y2="292.80" stroke="#444" stroke-width="1"/>
<text x="565.00" y="294.80" font-size="9.6" text-anchor="end">0.00</text>
<line x1="572.30" y1="295.30" x2="572.30" y2="297.90" stroke="#444" stroke-width="1"/>
<line x1="594.70" y1="295.30" x2="594.70" y2="297.90" stroke="#444" stroke-width="1"/>
<line x1="617.10" y1="295.30" x2="617.10" y2="297.90" stroke="#444" stroke-width="1"/>
<line x1="639.40" y1="295.30" x2="639.40" y2="297.90" stroke="#444" stroke-width="1"/>
<line x1="661.80" y1="295.30" x2="661.80" y2="297.90" stroke="#444" stroke-width="1"/>
<text x="571.80" y="309.20" font-size="9.4" text-anchor="middle">−1</text>
<text x="592.60" y="309.20" font-size="9.4" text-anchor="middle">−0.75</text>
<text x="617.00" y="309.20" font-size="9.4" text-anchor="middle">−0.5</text>
<text x="640.20" y="309.20" font-size="9.4" text-anchor="middle">−0.25</text>
<text x="662.30" y="309.20" font-size="9.4" text-anchor="middle">0</text>
<text x="617.4" y="323.6" font-size="9.4" text-anchor="middle">Log<tspan font-size="6" dy="1">10</tspan><tspan dy="-1"> Frequency (Hz)</tspan></text>
<path d="M572.40,205.80 L572.62,205.78 L572.84,205.75 L573.06,205.73 L573.28,205.70 L573.50,205.69 L573.72,205.67 L573.94,205.63 L574.16,205.62 L574.38,205.59 L574.60,205.55 L574.82,205.54 L575.04,205.51 L575.26,205.49 L575.48,205.47 L575.70,205.46 L575.92,205.42 L576.14,205.38 L576.36,205.37 L576.58,205.34 L576.80,205.32 L577.02,205.33 L577.24,205.27 L577.46,205.25 L577.68,205.25 L577.90,205.24 L578.12,205.16 L578.34,205.17 L578.56,205.12 L578.78,205.09 L579.00,205.08 L579.22,205.04 L579.44,205.05 L579.66,205.00 L579.88,205.00 L580.10,204.94 L580.32,204.92 L580.54,204.96 L580.76,204.94 L580.98,204.91 L581.20,204.81 L581.42,204.84 L581.64,204.80 L581.86,204.81 L582.08,204.76 L582.30,204.75 L582.52,204.73 L582.74,204.68 L582.96,204.66 L583.18,204.60 L583.40,204.60 L583.62,204.54 L583.84,204.53 L584.06,204.49 L584.28,204.50 L584.50,204.55 L584.72,204.43 L584.94,204.39 L585.16,204.37 L585.38,204.40 L585.60,204.35 L585.82,204.20 L586.04,203.68 L586.26,203.32 L586.48,203.65 L586.70,203.65 L586.92,202.15 L587.14,201.52 L587.36,202.80 L587.58,200.91 L587.80,201.08 L588.02,201.15 L588.24,200.13 L588.46,197.85 L588.68,196.67 L588.90,199.33 L589.12,196.21 L589.34,198.26 L589.56,194.21 L589.78,195.60 L590.00,191.95 L590.22,190.79 L590.44,193.19 L590.66,189.30 L590.88,193.56 L591.10,194.76 L591.32,190.60 L591.54,194.35 L591.76,192.71 L591.98,190.64 L592.20,188.53 L592.42,184.30 L592.64,193.16 L592.86,186.84 L593.08,191.62 L593.30,187.04 L593.52,187.97 L593.74,187.80 L593.96,191.95 L594.18,191.91 L594.40,191.47 L594.62,192.18 L594.84,192.81 L595.06,192.82 L595.28,192.01 L595.50,196.39 L595.72,198.59 L595.94,199.65 L596.16,202.65 L596.38,203.40 L596.60,201.60 L596.82,201.64 L597.04,197.54 L597.26,201.68 L597.48,200.87 L597.70,205.03 L597.92,201.14 L598.14,202.07 L598.36,198.30 L598.58,204.91 L598.80,196.05 L599.02,201.00 L599.24,202.34 L599.46,202.40 L599.68,199.58 L599.90,201.73 L600.12,205.22 L600.34,198.12 L600.56,186.80 L600.78,203.08 L601.00,201.08 L601.22,204.45 L601.44,202.09 L601.66,201.01 L601.88,203.75 L602.10,198.81 L602.32,200.84 L602.54,189.80 L602.76,203.50 L602.98,196.77 L603.20,202.57 L603.42,198.77 L603.64,201.86 L603.86,202.41 L604.08,202.62 L604.30,201.07 L604.52,201.13 L604.74,188.51 L604.96,196.09 L605.18,200.84 L605.40,195.61 L605.62,197.56 L605.84,198.45 L606.06,202.42 L606.28,203.08 L606.50,199.28 L606.72,196.97 L606.94,188.30 L607.16,195.81 L607.38,196.09 L607.60,205.34 L607.82,203.69 L608.04,198.60 L608.26,201.20 L608.48,199.16 L608.70,202.88 L608.92,200.57 L609.14,201.87 L609.36,200.00 L609.58,203.73 L609.80,196.08 L610.02,190.56 L610.24,196.72 L610.46,202.73 L610.68,200.15 L610.90,200.71 L611.12,205.47 L611.34,204.21 L611.56,204.80 L611.78,196.94 L612.00,200.47 L612.22,202.36 L612.44,199.06 L612.66,201.91 L612.88,202.24 L613.10,200.00 L613.32,201.74 L613.54,203.74 L613.76,199.56 L613.98,201.77 L614.20,199.41 L614.42,201.86 L614.64,198.66 L614.86,198.76 L615.08,203.12 L615.30,198.74 L615.52,201.36 L615.74,196.90 L615.96,201.83 L616.18,197.73 L616.40,200.93 L616.62,197.48 L616.84,196.73 L617.06,198.89 L617.28,199.90 L617.50,192.91 L617.72,197.78 L617.94,204.57 L618.16,196.68 L618.38,205.25 L618.60,204.27 L618.82,198.71 L619.04,195.88 L619.26,197.41 L619.48,197.71 L619.70,198.22 L619.92,197.86 L620.14,204.86 L620.36,199.72 L620.58,203.00 L620.80,202.92 L621.02,197.73 L621.24,201.69 L621.46,201.86 L621.68,204.62 L621.90,195.39 L622.12,197.71 L622.34,198.28 L622.56,198.45 L622.78,189.30 L623.00,189.30 L623.22,204.47 L623.44,195.83 L623.66,200.80 L623.88,203.51 L624.10,203.36 L624.32,202.13 L624.54,198.13 L624.76,202.32 L624.98,201.06 L625.20,199.24 L625.42,203.16 L625.64,188.30 L625.86,203.65 L626.08,202.07 L626.30,203.96 L626.52,200.43 L626.74,200.56 L626.96,196.87 L627.18,200.44 L627.40,196.54 L627.62,197.84 L627.84,200.62 L628.06,203.04 L628.28,198.49 L628.50,196.66 L628.72,203.53 L628.94,203.56 L629.16,196.67 L629.38,202.87 L629.60,202.28 L629.82,198.05 L630.04,189.30 L630.26,202.52 L630.48,199.60 L630.70,205.42 L630.92,201.08 L631.14,203.37 L631.36,195.88 L631.58,200.03 L631.80,202.74 L632.02,204.37 L632.24,196.43 L632.46,196.13 L632.68,197.83 L632.90,202.57 L633.12,199.03 L633.34,202.88 L633.56,196.04 L633.78,200.23 L634.00,200.66 L634.22,198.48 L634.44,199.97 L634.66,199.21 L634.88,203.76 L635.10,199.15 L635.32,196.49 L635.54,202.30 L635.76,199.75 L635.98,199.28 L636.20,202.51 L636.42,204.85 L636.64,198.31 L636.86,198.46 L637.08,202.98 L637.30,197.24 L637.52,200.74 L637.74,198.25 L637.96,202.38 L638.18,200.42 L638.40,202.20 L638.62,204.46 L638.84,204.58 L639.06,198.26 L639.28,203.80 L639.50,201.65 L639.72,197.97 L639.94,200.06 L640.16,201.82 L640.38,200.59 L640.60,203.61 L640.82,198.12 L641.04,197.86 L641.26,196.41 L641.48,200.17 L641.70,199.35 L641.92,198.79 L642.14,197.04 L642.36,199.54 L642.58,205.47 L642.80,198.85 L643.02,200.20 L643.24,203.52 L643.46,205.11 L643.68,198.84 L643.90,199.62 L644.12,196.19 L644.34,197.17 L644.56,204.94 L644.78,203.00 L645.00,199.72 L645.22,201.92 L645.44,197.64 L645.66,195.54 L645.88,194.46 L646.10,196.46 L646.32,195.40 L646.54,194.46 L646.76,195.56 L646.98,203.94 L647.20,204.32 L647.42,203.11 L647.64,195.22 L647.86,199.03 L648.08,200.63 L648.30,193.30 L648.52,202.35 L648.74,193.20 L648.96,198.87 L649.18,194.70 L649.40,205.19 L649.62,190.65 L649.84,196.44 L650.06,201.12 L650.28,197.20 L650.50,204.63 L650.72,201.74 L650.94,203.92 L651.16,195.74 L651.38,190.15 L651.60,196.41 L651.82,204.54 L652.04,200.25 L652.26,194.41 L652.48,190.88 L652.70,202.22 L652.92,188.01 L653.14,186.35 L653.36,182.61 L653.58,198.96 L653.80,184.94 L654.02,196.42 L654.24,187.86 L654.46,174.81 L654.68,202.83 L654.90,204.17 L655.12,189.54 L655.34,200.39 L655.56,194.11 L655.78,184.31 L656.00,204.35 L656.22,191.80 L656.44,203.24 L656.66,187.09 L656.88,197.01 L657.10,191.20 L657.32,201.65 L657.54,190.64 L657.76,194.43 L657.98,199.54 L658.20,202.77 L658.42,201.83 L658.64,204.26 L658.86,200.95 L659.08,202.64 L659.30,204.41 L659.52,205.40 L659.74,199.99 L659.96,204.87 L660.18,199.47 L660.40,199.28 L660.62,202.38 L660.84,200.42 L661.06,203.00 L661.28,202.83 L661.50,204.87 L661.72,204.84 L661.94,201.23 L662.16,205.27 L662.38,201.35 L662.60,205.52 L662.82,199.35 L663.04,202.00 L663.26,200.66 L663.48,200.66 L663.70,204.44 L663.92,205.12 L664.14,204.93 L664.36,199.81 L664.58,200.31 L664.80,202.88 L665.02,200.80 L665.24,201.97 L665.46,200.76 L665.68,202.33 L665.90,194.30 L666.12,194.30 L666.34,204.58 L666.56,203.31 L666.78,205.27 L667.00,203.32 L667.22,203.05 L667.44,203.71 L667.66,202.94 L667.88,204.13 L668.10,204.24 L668.32,205.32 L668.54,205.01 L668.76,202.82 L668.98,201.91 L669.20,202.23 L669.42,204.18 L669.64,202.54 L669.86,204.06 L670.08,204.37 L670.30,202.79 L670.52,202.86 L670.74,205.43" stroke="#2e2e2e" stroke-width="0.9" fill="none"/>
<path d="M572.40,249.20 L572.73,249.19 L573.06,249.18 L573.39,249.17 L573.72,249.16 L574.05,249.15 L574.38,249.14 L574.71,249.13 L575.04,249.11 L575.37,249.10 L575.70,249.10 L576.03,249.09 L576.36,249.07 L576.69,249.06 L577.02,249.06 L577.35,249.04 L577.68,249.02 L578.01,249.01 L578.34,248.99 L578.67,248.98 L579.00,248.97 L579.33,248.97 L579.66,248.97 L579.99,248.95 L580.32,248.94 L580.65,248.93 L580.98,248.91 L581.31,248.67 L581.64,248.36 L581.97,248.14 L582.30,247.85 L582.63,247.50 L582.96,247.23 L583.29,247.07 L583.62,246.62 L583.95,246.15 L584.28,246.90 L584.61,246.38 L584.94,245.28 L585.27,244.85 L585.60,245.30 L585.93,245.70 L586.26,245.70 L586.59,245.00 L586.92,245.96 L587.25,244.64 L587.58,244.27 L587.91,243.07 L588.24,244.92 L588.57,243.96 L588.90,244.02 L589.23,239.92 L589.56,236.99 L589.89,236.05 L590.22,220.80 L590.55,220.80 L590.88,231.39 L591.21,233.81 L591.54,231.28 L591.87,236.28 L592.20,239.20 L592.53,242.06 L592.86,241.89 L593.19,240.81 L593.52,241.61 L593.85,240.19 L594.18,245.80 L594.51,239.70 L594.84,238.99 L595.17,244.10 L595.50,246.61 L595.83,238.04 L596.16,242.18 L596.49,237.60 L596.82,240.77 L597.15,241.56 L597.48,244.87 L597.81,236.72 L598.14,242.55 L598.47,242.04 L598.80,242.03 L599.13,245.04 L599.46,241.24 L599.79,237.79 L600.12,236.93 L600.45,246.29 L600.78,240.93 L601.11,243.74 L601.44,237.25 L601.77,239.78 L602.10,241.37 L602.43,236.85 L602.76,232.50 L603.09,244.82 L603.42,238.28 L603.75,243.94 L604.08,237.17 L604.41,242.74 L604.74,245.38 L605.07,236.91 L605.40,244.42 L605.73,245.92 L606.06,239.35 L606.39,231.00 L606.72,246.68 L607.05,237.29 L607.38,244.12 L607.71,244.13 L608.04,246.30 L608.37,237.45 L608.70,237.99 L609.03,237.17 L609.36,236.80 L609.69,246.27 L610.02,245.11 L610.35,239.02 L610.68,246.40 L611.01,241.92 L611.34,245.93 L611.67,237.98 L612.00,245.78 L612.33,245.86 L612.66,239.01 L612.99,245.38 L613.32,238.55 L613.65,245.02 L613.98,239.20 L614.31,241.36 L614.64,247.00 L614.97,241.21 L615.30,236.80 L615.63,243.05 L615.96,243.17 L616.29,245.78 L616.62,240.35 L616.95,246.03 L617.28,241.27 L617.61,245.50 L617.94,247.06 L618.27,244.62 L618.60,246.70 L618.93,241.65 L619.26,240.96 L619.59,244.14 L619.92,247.00 L620.25,244.78 L620.58,243.78 L620.91,244.39 L621.24,245.59 L621.57,243.81 L621.90,241.70 L622.23,242.35 L622.56,241.47 L622.89,246.85 L623.22,243.04 L623.55,243.60 L623.88,241.60 L624.21,244.66 L624.54,242.20 L624.87,244.37 L625.20,243.83 L625.53,245.03 L625.86,242.87 L626.19,242.40 L626.52,241.64 L626.85,246.35 L627.18,242.27 L627.51,242.38 L627.84,245.48 L628.17,244.61 L628.50,245.43 L628.83,242.40 L629.16,246.81 L629.49,245.46 L629.82,246.86 L630.15,245.78 L630.48,247.53 L630.81,242.21 L631.14,243.32 L631.47,242.74 L631.80,245.10 L632.13,247.01 L632.46,245.49 L632.79,242.49 L633.12,246.62 L633.45,244.22 L633.78,247.57 L634.11,247.70 L634.44,246.68 L634.77,245.49 L635.10,245.25 L635.43,243.94 L635.76,247.20 L636.09,243.78 L636.42,245.23 L636.75,242.08 L637.08,247.72 L637.41,245.37 L637.74,243.07 L638.07,245.40 L638.40,242.78 L638.73,245.57 L639.06,244.18 L639.39,242.53 L639.72,244.58 L640.05,246.50 L640.38,243.03 L640.71,246.23 L641.04,244.16 L641.37,246.71 L641.70,242.89 L642.03,244.93 L642.36,245.91 L642.69,242.91 L643.02,243.87 L643.35,247.53 L643.68,246.19 L644.01,243.22 L644.34,243.50 L644.67,247.24 L645.00,245.79 L645.33,246.91 L645.66,245.29 L645.99,243.47 L646.32,247.61 L646.65,245.90 L646.98,246.63 L647.31,244.37 L647.64,247.36 L647.97,245.69 L648.30,246.70 L648.63,246.86 L648.96,244.90 L649.29,244.21 L649.62,245.28 L649.95,244.86 L650.28,247.70 L650.61,243.77 L650.94,245.16 L651.27,243.63 L651.60,246.92 L651.93,243.26 L652.26,243.32 L652.59,247.22 L652.92,246.54 L653.25,245.51 L653.58,245.83 L653.91,246.12 L654.24,244.60 L654.57,246.21 L654.90,244.98 L655.23,247.88 L655.56,246.20 L655.89,245.05 L656.22,246.40 L656.55,245.47 L656.88,243.06 L657.21,246.01 L657.54,246.91 L657.87,247.68 L658.20,246.81 L658.53,248.18 L658.86,247.64 L659.19,248.08 L659.52,248.06 L659.85,247.18 L660.18,248.47 L660.51,248.13 L660.84,248.22 L661.17,247.38 L661.50,246.64 L661.83,247.73 L662.16,248.02 L662.49,246.56 L662.82,246.58 L663.15,247.72 L663.48,246.60 L663.81,247.46 L664.14,248.26 L664.47,246.64 L664.80,247.19 L665.13,248.50 L665.46,247.20 L665.79,247.81 L666.12,248.08 L666.45,248.40 L666.78,248.21 L667.11,248.03 L667.44,247.36 L667.77,247.49 L668.10,247.30 L668.43,247.79 L668.76,248.08 L669.09,248.47 L669.42,248.41 L669.75,247.93 L670.08,247.38 L670.41,248.19 L670.74,247.91" stroke="#a67b5a" stroke-width="0.9" fill="none"/>
<path d="M572.40,291.10 L572.62,291.09 L572.84,291.08 L573.06,291.06 L573.28,291.04 L573.50,291.03 L573.72,291.01 L573.94,291.00 L574.16,290.98 L574.38,290.97 L574.60,290.95 L574.82,290.94 L575.04,290.93 L575.26,290.90 L575.48,290.88 L575.70,290.88 L575.92,290.87 L576.14,290.86 L576.36,290.82 L576.58,290.82 L576.80,290.80 L577.02,290.77 L577.24,290.76 L577.46,290.76 L577.68,290.73 L577.90,290.74 L578.12,290.71 L578.34,290.68 L578.56,290.69 L578.78,290.68 L579.00,290.64 L579.22,290.64 L579.44,290.59 L579.66,290.62 L579.88,290.56 L580.10,290.57 L580.32,290.53 L580.54,290.54 L580.76,290.51 L580.98,290.51 L581.20,290.51 L581.42,290.48 L581.64,290.44 L581.86,290.45 L582.08,290.45 L582.30,290.42 L582.52,290.42 L582.74,290.39 L582.96,290.36 L583.18,290.34 L583.40,290.15 L583.62,289.80 L583.84,289.47 L584.06,289.10 L584.28,288.65 L584.50,289.04 L584.72,288.25 L584.94,288.38 L585.16,287.24 L585.38,287.17 L585.60,287.01 L585.82,287.22 L586.04,287.90 L586.26,288.35 L586.48,288.80 L586.70,288.56 L586.92,288.73 L587.14,289.17 L587.36,289.60 L587.58,288.89 L587.80,287.36 L588.02,285.36 L588.24,284.10 L588.46,283.76 L588.68,277.55 L588.90,280.54 L589.12,277.60 L589.34,270.75 L589.56,268.60 L589.78,277.73 L590.00,281.16 L590.22,285.23 L590.44,286.00 L590.66,285.97 L590.88,286.17 L591.10,283.53 L591.32,284.46 L591.54,280.08 L591.76,277.91 L591.98,276.32 L592.20,274.10 L592.42,277.89 L592.64,281.30 L592.86,281.66 L593.08,283.65 L593.30,284.79 L593.52,284.70 L593.74,279.96 L593.96,280.68 L594.18,271.68 L594.40,278.39 L594.62,270.18 L594.84,276.30 L595.06,270.10 L595.28,270.31 L595.50,271.77 L595.72,267.10 L595.94,272.94 L596.16,272.34 L596.38,277.55 L596.60,269.10 L596.82,274.83 L597.04,272.44 L597.26,280.68 L597.48,281.28 L597.70,278.91 L597.92,279.11 L598.14,282.71 L598.36,281.83 L598.58,282.82 L598.80,283.84 L599.02,283.90 L599.24,283.77 L599.46,286.04 L599.68,284.96 L599.90,282.24 L600.12,283.16 L600.34,281.09 L600.56,281.21 L600.78,279.60 L601.00,278.20 L601.22,278.23 L601.44,277.66 L601.66,284.69 L601.88,286.69 L602.10,288.03 L602.32,284.22 L602.54,288.96 L602.76,289.12 L602.98,288.59 L603.20,285.90 L603.42,287.07 L603.64,284.43 L603.86,287.66 L604.08,288.45 L604.30,288.84 L604.52,285.54 L604.74,284.48 L604.96,284.14 L605.18,287.53 L605.40,287.05 L605.62,287.38 L605.84,284.59 L606.06,289.13 L606.28,283.84 L606.50,282.28 L606.72,284.05 L606.94,289.76 L607.16,282.56 L607.38,283.36 L607.60,287.03 L607.82,288.95 L608.04,287.14 L608.26,286.96 L608.48,288.61 L608.70,282.54 L608.92,287.46 L609.14,288.37 L609.36,283.08 L609.58,288.90 L609.80,288.83 L610.02,287.92 L610.24,288.95 L610.46,285.94 L610.68,286.40 L610.90,283.52 L611.12,284.26 L611.34,290.21 L611.56,289.05 L611.78,282.38 L612.00,282.85 L612.22,289.81 L612.44,290.34 L612.66,288.51 L612.88,282.57 L613.10,282.78 L613.32,285.03 L613.54,282.99 L613.76,287.82 L613.98,285.65 L614.20,289.75 L614.42,290.61 L614.64,287.83 L614.86,287.97 L615.08,288.07 L615.30,287.28 L615.52,288.29 L615.74,284.03 L615.96,284.13 L616.18,289.78 L616.40,283.43 L616.62,287.49 L616.84,283.44 L617.06,287.67 L617.28,290.74 L617.50,286.65 L617.72,286.89 L617.94,284.58 L618.16,282.26 L618.38,283.27 L618.60,283.89 L618.82,290.15 L619.04,283.51 L619.26,283.17 L619.48,290.37 L619.70,289.90 L619.92,286.89 L620.14,283.88 L620.36,284.92 L620.58,286.04 L620.80,283.05 L621.02,290.08 L621.24,288.38 L621.46,290.58 L621.68,284.58 L621.90,286.37 L622.12,288.96 L622.34,279.70 L622.56,284.14 L622.78,290.71 L623.00,286.15 L623.22,288.94 L623.44,289.71 L623.66,286.94 L623.88,284.99 L624.10,284.47 L624.32,283.33 L624.54,288.78 L624.76,282.98 L624.98,287.43 L625.20,284.73 L625.42,287.89 L625.64,284.05 L625.86,290.19 L626.08,284.46 L626.30,287.30 L626.52,287.07 L626.74,289.95 L626.96,285.59 L627.18,282.56 L627.40,286.83 L627.62,285.58 L627.84,286.51 L628.06,286.54 L628.28,289.15 L628.50,288.23 L628.72,290.19 L628.94,286.96 L629.16,289.06 L629.38,289.67 L629.60,279.66 L629.82,289.09 L630.04,286.86 L630.26,288.30 L630.48,283.73 L630.70,290.82 L630.92,286.56 L631.14,283.93 L631.36,288.27 L631.58,285.72 L631.80,283.33 L632.02,287.83 L632.24,286.00 L632.46,286.15 L632.68,290.77 L632.90,289.45 L633.12,283.40 L633.34,288.75 L633.56,285.29 L633.78,284.27 L634.00,282.12 L634.22,288.33 L634.44,283.30 L634.66,285.77 L634.88,287.09 L635.10,290.32 L635.32,283.48 L635.54,284.73 L635.76,282.32 L635.98,288.16 L636.20,289.26 L636.42,290.00 L636.64,287.37 L636.86,284.20 L637.08,283.45 L637.30,288.51 L637.52,287.08 L637.74,283.15 L637.96,282.72 L638.18,287.72 L638.40,284.30 L638.62,287.60 L638.84,285.47 L639.06,277.96 L639.28,286.59 L639.50,285.85 L639.72,282.43 L639.94,285.71 L640.16,283.12 L640.38,283.61 L640.60,282.18 L640.82,287.41 L641.04,285.13 L641.26,284.22 L641.48,283.62 L641.70,288.18 L641.92,285.05 L642.14,285.94 L642.36,285.22 L642.58,288.34 L642.80,283.10 L643.02,288.40 L643.24,284.45 L643.46,285.13 L643.68,284.54 L643.90,287.57 L644.12,286.91 L644.34,284.27 L644.56,289.86 L644.78,282.58 L645.00,285.77 L645.22,290.53 L645.44,284.92 L645.66,287.75 L645.88,289.51 L646.10,288.07 L646.32,282.02 L646.54,282.28 L646.76,284.68 L646.98,280.50 L647.20,281.38 L647.42,280.35 L647.64,283.35 L647.86,289.90 L648.08,278.42 L648.30,286.12 L648.52,285.28 L648.74,284.33 L648.96,274.75 L649.18,286.29 L649.40,288.54 L649.62,274.92 L649.84,283.97 L650.06,274.46 L650.28,277.91 L650.50,282.04 L650.72,263.02 L650.94,285.48 L651.16,285.88 L651.38,272.63 L651.60,267.10 L651.82,268.40 L652.04,264.60 L652.26,280.04 L652.48,289.24 L652.70,277.11 L652.92,271.19 L653.14,280.41 L653.36,282.75 L653.58,279.79 L653.80,285.56 L654.02,284.88 L654.24,289.31 L654.46,278.71 L654.68,284.02 L654.90,287.48 L655.12,290.12 L655.34,277.56 L655.56,276.89 L655.78,282.10 L656.00,280.38 L656.22,284.68 L656.44,289.48 L656.66,284.83 L656.88,278.98 L657.10,282.27 L657.32,288.32 L657.54,281.06 L657.76,289.61 L657.98,282.96 L658.20,287.50 L658.42,290.01 L658.64,288.00 L658.86,290.35 L659.08,290.75 L659.30,289.60 L659.52,286.48 L659.74,288.45 L659.96,289.45 L660.18,290.41 L660.40,288.11 L660.62,286.59 L660.84,290.66 L661.06,290.85 L661.28,288.02 L661.50,288.45 L661.72,287.82 L661.94,289.57 L662.16,290.44 L662.38,290.31 L662.60,289.98 L662.82,289.34 L663.04,290.56 L663.26,289.03 L663.48,289.10 L663.70,289.91 L663.92,289.30 L664.14,289.56 L664.36,289.14 L664.58,289.61 L664.80,289.77 L665.02,288.60 L665.24,288.88 L665.46,289.19 L665.68,287.73 L665.90,288.53 L666.12,289.24 L666.34,290.03 L666.56,289.64 L666.78,289.72 L667.00,290.29 L667.22,289.58 L667.44,288.95 L667.66,288.77 L667.88,290.43 L668.10,290.81 L668.32,289.15 L668.54,289.11 L668.76,290.79 L668.98,289.96 L669.20,290.40 L669.42,289.80 L669.64,289.39 L669.86,289.82 L670.08,290.95 L670.30,290.00 L670.52,290.30 L670.74,289.51" stroke="#8fb5cf" stroke-width="0.9" fill="none"/>
<rect x="653.10" y="175.20" width="4.80" height="35.00" fill="none" stroke="#d9474b" stroke-width="0.9"/>
<rect x="588.30" y="217.50" width="4.40" height="35.80" fill="none" stroke="#d9474b" stroke-width="0.9"/>
<rect x="649.80" y="261.30" width="4.70" height="36.50" fill="none" stroke="#d9474b" stroke-width="0.9"/>
</svg></body></html>
